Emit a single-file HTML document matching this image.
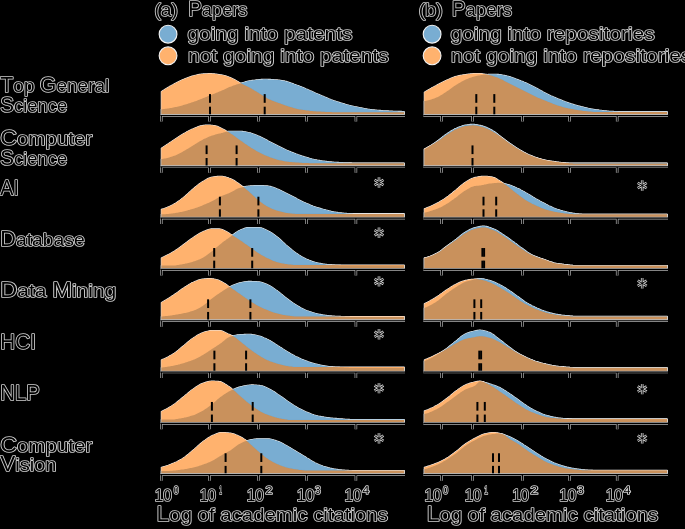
<!DOCTYPE html>
<html><head><meta charset="utf-8"><style>
html,body{margin:0;padding:0;background:#000;width:685px;height:529px;overflow:hidden}
svg{display:block}
</style></head><body>
<svg width="685" height="529" viewBox="0 0 685 529">
<rect width="685" height="529" fill="#000"/>
<path d="M161.3,114.3 L161.3,109.3 L162.3,109.2 L163.3,109.1 L164.3,109.0 L165.3,108.8 L166.3,108.7 L167.3,108.6 L168.3,108.4 L169.3,108.2 L170.3,108.1 L171.3,107.9 L172.3,107.7 L173.3,107.5 L174.3,107.3 L175.3,107.1 L176.3,106.9 L177.3,106.7 L178.3,106.4 L179.3,106.2 L180.3,105.9 L181.3,105.7 L182.3,105.4 L183.3,105.1 L184.3,104.8 L185.3,104.5 L186.3,104.2 L187.3,103.9 L188.3,103.5 L189.3,103.2 L190.3,102.9 L191.3,102.6 L192.3,102.2 L193.3,101.9 L194.3,101.6 L195.3,101.2 L196.3,100.9 L197.3,100.5 L198.3,100.1 L199.3,99.7 L200.3,99.3 L201.3,98.9 L202.3,98.5 L203.3,98.1 L204.3,97.7 L205.3,97.3 L206.3,96.9 L207.3,96.5 L208.3,96.1 L209.3,95.7 L210.3,95.3 L211.3,94.9 L212.3,94.5 L213.3,94.1 L214.3,93.7 L215.3,93.3 L216.3,92.8 L217.3,92.4 L218.3,92.0 L219.3,91.6 L220.3,91.2 L221.3,90.7 L222.3,90.3 L223.3,89.9 L224.3,89.4 L225.3,88.9 L226.3,88.5 L227.3,88.0 L228.3,87.6 L229.3,87.1 L230.3,86.7 L231.3,86.4 L232.3,86.0 L233.3,85.6 L234.3,85.3 L235.3,85.0 L236.3,84.6 L237.3,84.3 L238.3,84.0 L239.3,83.7 L240.3,83.4 L241.3,83.1 L242.3,82.8 L243.3,82.5 L244.3,82.2 L245.3,81.9 L246.3,81.6 L247.3,81.3 L248.3,81.1 L249.3,80.9 L250.3,80.7 L251.3,80.6 L252.3,80.4 L253.3,80.3 L254.3,80.2 L255.3,80.0 L256.3,79.9 L257.3,79.8 L258.3,79.7 L259.3,79.6 L260.3,79.5 L261.3,79.4 L262.3,79.4 L263.3,79.3 L264.3,79.3 L265.3,79.3 L266.3,79.3 L267.3,79.3 L268.3,79.4 L269.3,79.4 L270.3,79.4 L271.3,79.5 L272.3,79.6 L273.3,79.6 L274.3,79.7 L275.3,79.8 L276.3,79.9 L277.3,79.9 L278.3,80.0 L279.3,80.1 L280.3,80.2 L281.3,80.4 L282.3,80.5 L283.3,80.7 L284.3,80.9 L285.3,81.2 L286.3,81.4 L287.3,81.7 L288.3,82.0 L289.3,82.4 L290.3,82.7 L291.3,83.1 L292.3,83.4 L293.3,83.8 L294.3,84.2 L295.3,84.5 L296.3,84.9 L297.3,85.3 L298.3,85.6 L299.3,86.0 L300.3,86.4 L301.3,86.8 L302.3,87.2 L303.3,87.6 L304.3,88.0 L305.3,88.4 L306.3,88.9 L307.3,89.3 L308.3,89.8 L309.3,90.2 L310.3,90.7 L311.3,91.1 L312.3,91.6 L313.3,92.0 L314.3,92.5 L315.3,92.9 L316.3,93.4 L317.3,93.8 L318.3,94.2 L319.3,94.6 L320.3,95.1 L321.3,95.5 L322.3,95.9 L323.3,96.3 L324.3,96.8 L325.3,97.2 L326.3,97.6 L327.3,98.0 L328.3,98.5 L329.3,98.9 L330.3,99.3 L331.3,99.7 L332.3,100.0 L333.3,100.4 L334.3,100.8 L335.3,101.1 L336.3,101.5 L337.3,101.8 L338.3,102.1 L339.3,102.4 L340.3,102.7 L341.3,103.0 L342.3,103.3 L343.3,103.6 L344.3,103.9 L345.3,104.2 L346.3,104.5 L347.3,104.8 L348.3,105.0 L349.3,105.3 L350.3,105.5 L351.3,105.8 L352.3,106.0 L353.3,106.2 L354.3,106.5 L355.3,106.7 L356.3,106.9 L357.3,107.1 L358.3,107.3 L359.3,107.5 L360.3,107.7 L361.3,107.9 L362.3,108.1 L363.3,108.3 L364.3,108.5 L365.3,108.7 L366.3,108.8 L367.3,109.0 L368.3,109.2 L369.3,109.3 L370.3,109.5 L371.3,109.6 L372.3,109.7 L373.3,109.8 L374.3,109.9 L375.3,110.0 L376.3,110.1 L377.3,110.2 L378.3,110.3 L379.3,110.4 L380.3,110.4 L381.3,110.5 L382.3,110.6 L383.3,110.7 L384.3,110.7 L385.3,110.8 L386.3,110.8 L387.3,110.9 L388.3,110.9 L389.3,111.0 L390.3,111.0 L391.3,111.1 L392.3,111.1 L393.3,111.2 L394.3,111.2 L395.3,111.3 L396.3,111.3 L397.3,111.3 L398.3,111.4 L399.3,111.4 L400.3,111.4 L401.3,111.4 L402.3,111.5 L403.3,111.5 L404.2,111.5 L404.2,114.3 Z" fill="#fff" stroke="#f4f4f4" stroke-width="1.1" stroke-linejoin="round"/>
<path d="M161.3,114.3 L161.3,91.6 L162.3,90.9 L163.3,90.3 L164.3,89.7 L165.3,89.0 L166.3,88.4 L167.3,87.8 L168.3,87.2 L169.3,86.6 L170.3,86.1 L171.3,85.5 L172.3,84.9 L173.3,84.4 L174.3,83.8 L175.3,83.3 L176.3,82.8 L177.3,82.2 L178.3,81.7 L179.3,81.2 L180.3,80.7 L181.3,80.3 L182.3,79.8 L183.3,79.4 L184.3,79.0 L185.3,78.6 L186.3,78.2 L187.3,77.8 L188.3,77.4 L189.3,77.0 L190.3,76.7 L191.3,76.4 L192.3,76.1 L193.3,75.8 L194.3,75.6 L195.3,75.3 L196.3,75.1 L197.3,74.8 L198.3,74.6 L199.3,74.4 L200.3,74.3 L201.3,74.1 L202.3,74.0 L203.3,73.9 L204.3,73.9 L205.3,73.8 L206.3,73.7 L207.3,73.7 L208.3,73.6 L209.3,73.6 L210.3,73.6 L211.3,73.6 L212.3,73.7 L213.3,73.7 L214.3,73.8 L215.3,74.0 L216.3,74.1 L217.3,74.2 L218.3,74.4 L219.3,74.5 L220.3,74.7 L221.3,74.9 L222.3,75.1 L223.3,75.3 L224.3,75.5 L225.3,75.8 L226.3,76.1 L227.3,76.5 L228.3,76.8 L229.3,77.2 L230.3,77.6 L231.3,78.0 L232.3,78.4 L233.3,78.9 L234.3,79.4 L235.3,80.0 L236.3,80.6 L237.3,81.2 L238.3,81.8 L239.3,82.4 L240.3,83.0 L241.3,83.5 L242.3,84.0 L243.3,84.5 L244.3,85.0 L245.3,85.5 L246.3,86.0 L247.3,86.5 L248.3,87.0 L249.3,87.5 L250.3,88.0 L251.3,88.6 L252.3,89.2 L253.3,89.8 L254.3,90.4 L255.3,91.0 L256.3,91.6 L257.3,92.2 L258.3,92.8 L259.3,93.4 L260.3,94.0 L261.3,94.7 L262.3,95.3 L263.3,96.0 L264.3,96.6 L265.3,97.2 L266.3,97.8 L267.3,98.4 L268.3,98.9 L269.3,99.4 L270.3,99.8 L271.3,100.3 L272.3,100.7 L273.3,101.1 L274.3,101.4 L275.3,101.8 L276.3,102.2 L277.3,102.5 L278.3,102.9 L279.3,103.2 L280.3,103.6 L281.3,104.0 L282.3,104.3 L283.3,104.7 L284.3,105.1 L285.3,105.4 L286.3,105.8 L287.3,106.1 L288.3,106.4 L289.3,106.7 L290.3,107.0 L291.3,107.3 L292.3,107.6 L293.3,107.9 L294.3,108.2 L295.3,108.5 L296.3,108.7 L297.3,109.0 L298.3,109.2 L299.3,109.4 L300.3,109.5 L301.3,109.7 L302.3,109.8 L303.3,110.0 L304.3,110.1 L305.3,110.3 L306.3,110.4 L307.3,110.5 L308.3,110.6 L309.3,110.8 L310.3,110.9 L311.3,111.0 L312.3,111.1 L313.3,111.2 L314.3,111.2 L315.3,111.3 L316.3,111.4 L317.3,111.5 L318.3,111.5 L319.3,111.6 L320.3,111.6 L321.3,111.7 L322.3,111.7 L323.3,111.8 L324.3,111.8 L325.3,111.9 L326.3,111.9 L327.3,112.0 L328.3,112.0 L329.3,112.1 L330.3,112.1 L331.3,112.1 L332.3,112.2 L333.3,112.2 L334.3,112.2 L335.3,112.3 L336.3,112.3 L337.3,112.3 L338.3,112.3 L339.3,112.3 L340.3,112.3 L341.3,112.3 L342.3,112.3 L343.3,112.3 L344.3,112.3 L345.3,112.3 L346.3,112.3 L347.3,112.3 L348.3,112.3 L349.3,112.3 L350.3,112.3 L351.3,112.3 L352.3,112.3 L353.3,112.3 L354.3,112.3 L355.3,112.3 L356.3,112.3 L357.3,112.3 L358.3,112.3 L359.3,112.3 L360.3,112.3 L361.3,112.3 L362.3,112.3 L363.3,112.3 L364.3,112.3 L365.3,112.3 L366.3,112.3 L367.3,112.3 L368.3,112.3 L369.3,112.3 L370.3,112.3 L371.3,112.3 L372.3,112.3 L373.3,112.3 L374.3,112.3 L375.3,112.3 L376.3,112.3 L377.3,112.3 L378.3,112.3 L379.3,112.3 L380.3,112.3 L381.3,112.3 L382.3,112.3 L383.3,112.3 L384.3,112.3 L385.3,112.3 L386.3,112.3 L387.3,112.3 L388.3,112.3 L389.3,112.3 L390.3,112.3 L391.3,112.3 L392.3,112.3 L393.3,112.3 L394.3,112.3 L395.3,112.3 L396.3,112.3 L397.3,112.3 L398.3,112.3 L399.3,112.3 L400.3,112.3 L401.3,112.3 L402.3,112.3 L403.3,112.3 L404.2,112.3 L404.2,114.3 Z" fill="#fff" stroke="#f4f4f4" stroke-width="1.1" stroke-linejoin="round"/>
<path d="M161.3,114.3 L161.3,109.3 L162.3,109.2 L163.3,109.1 L164.3,109.0 L165.3,108.8 L166.3,108.7 L167.3,108.6 L168.3,108.4 L169.3,108.2 L170.3,108.1 L171.3,107.9 L172.3,107.7 L173.3,107.5 L174.3,107.3 L175.3,107.1 L176.3,106.9 L177.3,106.7 L178.3,106.4 L179.3,106.2 L180.3,105.9 L181.3,105.7 L182.3,105.4 L183.3,105.1 L184.3,104.8 L185.3,104.5 L186.3,104.2 L187.3,103.9 L188.3,103.5 L189.3,103.2 L190.3,102.9 L191.3,102.6 L192.3,102.2 L193.3,101.9 L194.3,101.6 L195.3,101.2 L196.3,100.9 L197.3,100.5 L198.3,100.1 L199.3,99.7 L200.3,99.3 L201.3,98.9 L202.3,98.5 L203.3,98.1 L204.3,97.7 L205.3,97.3 L206.3,96.9 L207.3,96.5 L208.3,96.1 L209.3,95.7 L210.3,95.3 L211.3,94.9 L212.3,94.5 L213.3,94.1 L214.3,93.7 L215.3,93.3 L216.3,92.8 L217.3,92.4 L218.3,92.0 L219.3,91.6 L220.3,91.2 L221.3,90.7 L222.3,90.3 L223.3,89.9 L224.3,89.4 L225.3,88.9 L226.3,88.5 L227.3,88.0 L228.3,87.6 L229.3,87.1 L230.3,86.7 L231.3,86.4 L232.3,86.0 L233.3,85.6 L234.3,85.3 L235.3,85.0 L236.3,84.6 L237.3,84.3 L238.3,84.0 L239.3,83.7 L240.3,83.4 L241.3,83.1 L242.3,82.8 L243.3,82.5 L244.3,82.2 L245.3,81.9 L246.3,81.6 L247.3,81.3 L248.3,81.1 L249.3,80.9 L250.3,80.7 L251.3,80.6 L252.3,80.4 L253.3,80.3 L254.3,80.2 L255.3,80.0 L256.3,79.9 L257.3,79.8 L258.3,79.7 L259.3,79.6 L260.3,79.5 L261.3,79.4 L262.3,79.4 L263.3,79.3 L264.3,79.3 L265.3,79.3 L266.3,79.3 L267.3,79.3 L268.3,79.4 L269.3,79.4 L270.3,79.4 L271.3,79.5 L272.3,79.6 L273.3,79.6 L274.3,79.7 L275.3,79.8 L276.3,79.9 L277.3,79.9 L278.3,80.0 L279.3,80.1 L280.3,80.2 L281.3,80.4 L282.3,80.5 L283.3,80.7 L284.3,80.9 L285.3,81.2 L286.3,81.4 L287.3,81.7 L288.3,82.0 L289.3,82.4 L290.3,82.7 L291.3,83.1 L292.3,83.4 L293.3,83.8 L294.3,84.2 L295.3,84.5 L296.3,84.9 L297.3,85.3 L298.3,85.6 L299.3,86.0 L300.3,86.4 L301.3,86.8 L302.3,87.2 L303.3,87.6 L304.3,88.0 L305.3,88.4 L306.3,88.9 L307.3,89.3 L308.3,89.8 L309.3,90.2 L310.3,90.7 L311.3,91.1 L312.3,91.6 L313.3,92.0 L314.3,92.5 L315.3,92.9 L316.3,93.4 L317.3,93.8 L318.3,94.2 L319.3,94.6 L320.3,95.1 L321.3,95.5 L322.3,95.9 L323.3,96.3 L324.3,96.8 L325.3,97.2 L326.3,97.6 L327.3,98.0 L328.3,98.5 L329.3,98.9 L330.3,99.3 L331.3,99.7 L332.3,100.0 L333.3,100.4 L334.3,100.8 L335.3,101.1 L336.3,101.5 L337.3,101.8 L338.3,102.1 L339.3,102.4 L340.3,102.7 L341.3,103.0 L342.3,103.3 L343.3,103.6 L344.3,103.9 L345.3,104.2 L346.3,104.5 L347.3,104.8 L348.3,105.0 L349.3,105.3 L350.3,105.5 L351.3,105.8 L352.3,106.0 L353.3,106.2 L354.3,106.5 L355.3,106.7 L356.3,106.9 L357.3,107.1 L358.3,107.3 L359.3,107.5 L360.3,107.7 L361.3,107.9 L362.3,108.1 L363.3,108.3 L364.3,108.5 L365.3,108.7 L366.3,108.8 L367.3,109.0 L368.3,109.2 L369.3,109.3 L370.3,109.5 L371.3,109.6 L372.3,109.7 L373.3,109.8 L374.3,109.9 L375.3,110.0 L376.3,110.1 L377.3,110.2 L378.3,110.3 L379.3,110.4 L380.3,110.4 L381.3,110.5 L382.3,110.6 L383.3,110.7 L384.3,110.7 L385.3,110.8 L386.3,110.8 L387.3,110.9 L388.3,110.9 L389.3,111.0 L390.3,111.0 L391.3,111.1 L392.3,111.1 L393.3,111.2 L394.3,111.2 L395.3,111.3 L396.3,111.3 L397.3,111.3 L398.3,111.4 L399.3,111.4 L400.3,111.4 L401.3,111.4 L402.3,111.5 L403.3,111.5 L404.2,111.5 L404.2,114.3 Z" fill="#1f77b4" fill-opacity="0.6"/>
<path d="M161.3,114.3 L161.3,91.6 L162.3,90.9 L163.3,90.3 L164.3,89.7 L165.3,89.0 L166.3,88.4 L167.3,87.8 L168.3,87.2 L169.3,86.6 L170.3,86.1 L171.3,85.5 L172.3,84.9 L173.3,84.4 L174.3,83.8 L175.3,83.3 L176.3,82.8 L177.3,82.2 L178.3,81.7 L179.3,81.2 L180.3,80.7 L181.3,80.3 L182.3,79.8 L183.3,79.4 L184.3,79.0 L185.3,78.6 L186.3,78.2 L187.3,77.8 L188.3,77.4 L189.3,77.0 L190.3,76.7 L191.3,76.4 L192.3,76.1 L193.3,75.8 L194.3,75.6 L195.3,75.3 L196.3,75.1 L197.3,74.8 L198.3,74.6 L199.3,74.4 L200.3,74.3 L201.3,74.1 L202.3,74.0 L203.3,73.9 L204.3,73.9 L205.3,73.8 L206.3,73.7 L207.3,73.7 L208.3,73.6 L209.3,73.6 L210.3,73.6 L211.3,73.6 L212.3,73.7 L213.3,73.7 L214.3,73.8 L215.3,74.0 L216.3,74.1 L217.3,74.2 L218.3,74.4 L219.3,74.5 L220.3,74.7 L221.3,74.9 L222.3,75.1 L223.3,75.3 L224.3,75.5 L225.3,75.8 L226.3,76.1 L227.3,76.5 L228.3,76.8 L229.3,77.2 L230.3,77.6 L231.3,78.0 L232.3,78.4 L233.3,78.9 L234.3,79.4 L235.3,80.0 L236.3,80.6 L237.3,81.2 L238.3,81.8 L239.3,82.4 L240.3,83.0 L241.3,83.5 L242.3,84.0 L243.3,84.5 L244.3,85.0 L245.3,85.5 L246.3,86.0 L247.3,86.5 L248.3,87.0 L249.3,87.5 L250.3,88.0 L251.3,88.6 L252.3,89.2 L253.3,89.8 L254.3,90.4 L255.3,91.0 L256.3,91.6 L257.3,92.2 L258.3,92.8 L259.3,93.4 L260.3,94.0 L261.3,94.7 L262.3,95.3 L263.3,96.0 L264.3,96.6 L265.3,97.2 L266.3,97.8 L267.3,98.4 L268.3,98.9 L269.3,99.4 L270.3,99.8 L271.3,100.3 L272.3,100.7 L273.3,101.1 L274.3,101.4 L275.3,101.8 L276.3,102.2 L277.3,102.5 L278.3,102.9 L279.3,103.2 L280.3,103.6 L281.3,104.0 L282.3,104.3 L283.3,104.7 L284.3,105.1 L285.3,105.4 L286.3,105.8 L287.3,106.1 L288.3,106.4 L289.3,106.7 L290.3,107.0 L291.3,107.3 L292.3,107.6 L293.3,107.9 L294.3,108.2 L295.3,108.5 L296.3,108.7 L297.3,109.0 L298.3,109.2 L299.3,109.4 L300.3,109.5 L301.3,109.7 L302.3,109.8 L303.3,110.0 L304.3,110.1 L305.3,110.3 L306.3,110.4 L307.3,110.5 L308.3,110.6 L309.3,110.8 L310.3,110.9 L311.3,111.0 L312.3,111.1 L313.3,111.2 L314.3,111.2 L315.3,111.3 L316.3,111.4 L317.3,111.5 L318.3,111.5 L319.3,111.6 L320.3,111.6 L321.3,111.7 L322.3,111.7 L323.3,111.8 L324.3,111.8 L325.3,111.9 L326.3,111.9 L327.3,112.0 L328.3,112.0 L329.3,112.1 L330.3,112.1 L331.3,112.1 L332.3,112.2 L333.3,112.2 L334.3,112.2 L335.3,112.3 L336.3,112.3 L337.3,112.3 L338.3,112.3 L339.3,112.3 L340.3,112.3 L341.3,112.3 L342.3,112.3 L343.3,112.3 L344.3,112.3 L345.3,112.3 L346.3,112.3 L347.3,112.3 L348.3,112.3 L349.3,112.3 L350.3,112.3 L351.3,112.3 L352.3,112.3 L353.3,112.3 L354.3,112.3 L355.3,112.3 L356.3,112.3 L357.3,112.3 L358.3,112.3 L359.3,112.3 L360.3,112.3 L361.3,112.3 L362.3,112.3 L363.3,112.3 L364.3,112.3 L365.3,112.3 L366.3,112.3 L367.3,112.3 L368.3,112.3 L369.3,112.3 L370.3,112.3 L371.3,112.3 L372.3,112.3 L373.3,112.3 L374.3,112.3 L375.3,112.3 L376.3,112.3 L377.3,112.3 L378.3,112.3 L379.3,112.3 L380.3,112.3 L381.3,112.3 L382.3,112.3 L383.3,112.3 L384.3,112.3 L385.3,112.3 L386.3,112.3 L387.3,112.3 L388.3,112.3 L389.3,112.3 L390.3,112.3 L391.3,112.3 L392.3,112.3 L393.3,112.3 L394.3,112.3 L395.3,112.3 L396.3,112.3 L397.3,112.3 L398.3,112.3 L399.3,112.3 L400.3,112.3 L401.3,112.3 L402.3,112.3 L403.3,112.3 L404.2,112.3 L404.2,114.3 Z" fill="#ff7f0e" fill-opacity="0.6"/>
<rect x="209.00" y="94.10" width="2" height="8.7" fill="#000"/>
<rect x="209.00" y="106.70" width="2" height="8.50" fill="#000"/>
<rect x="263.70" y="94.10" width="2" height="8.7" fill="#000"/>
<rect x="263.70" y="106.70" width="2" height="8.50" fill="#000"/>
<path d="M160.30,115.50 H405.00 M161.30,115.50 V121.50 M209.40,115.50 V121.50 M258.40,115.50 V121.50 M306.60,115.50 V121.50 M355.90,115.50 V121.50" stroke="#b0b0b0" stroke-width="2.6" fill="none"/>
<path d="M160.30,115.50 H405.00 M161.30,115.50 V121.50 M209.40,115.50 V121.50 M258.40,115.50 V121.50 M306.60,115.50 V121.50 M355.90,115.50 V121.50" stroke="#000" stroke-width="1.2" fill="none"/>
<path d="M424.3,114.3 L424.3,101.1 L425.3,101.0 L426.3,100.8 L427.3,100.6 L428.3,100.3 L429.3,100.0 L430.3,99.8 L431.3,99.4 L432.3,99.1 L433.3,98.7 L434.3,98.4 L435.3,98.0 L436.3,97.6 L437.3,97.2 L438.3,96.7 L439.3,96.2 L440.3,95.6 L441.3,95.0 L442.3,94.4 L443.3,93.7 L444.3,93.1 L445.3,92.4 L446.3,91.7 L447.3,91.1 L448.3,90.4 L449.3,89.7 L450.3,89.0 L451.3,88.2 L452.3,87.5 L453.3,86.8 L454.3,86.1 L455.3,85.4 L456.3,84.8 L457.3,84.2 L458.3,83.6 L459.3,83.0 L460.3,82.4 L461.3,81.8 L462.3,81.2 L463.3,80.7 L464.3,80.2 L465.3,79.7 L466.3,79.3 L467.3,78.9 L468.3,78.5 L469.3,78.1 L470.3,77.8 L471.3,77.4 L472.3,77.1 L473.3,76.8 L474.3,76.5 L475.3,76.3 L476.3,76.1 L477.3,75.8 L478.3,75.6 L479.3,75.4 L480.3,75.2 L481.3,75.1 L482.3,74.9 L483.3,74.8 L484.3,74.7 L485.3,74.6 L486.3,74.5 L487.3,74.5 L488.3,74.4 L489.3,74.3 L490.3,74.3 L491.3,74.2 L492.3,74.2 L493.3,74.2 L494.3,74.2 L495.3,74.2 L496.3,74.3 L497.3,74.4 L498.3,74.4 L499.3,74.5 L500.3,74.6 L501.3,74.8 L502.3,75.0 L503.3,75.2 L504.3,75.4 L505.3,75.6 L506.3,75.8 L507.3,76.1 L508.3,76.3 L509.3,76.6 L510.3,76.9 L511.3,77.2 L512.3,77.6 L513.3,77.9 L514.3,78.3 L515.3,78.7 L516.3,79.1 L517.3,79.4 L518.3,79.8 L519.3,80.2 L520.3,80.6 L521.3,81.0 L522.3,81.3 L523.3,81.7 L524.3,82.2 L525.3,82.6 L526.3,83.0 L527.3,83.5 L528.3,83.9 L529.3,84.4 L530.3,84.9 L531.3,85.4 L532.3,85.9 L533.3,86.5 L534.3,87.0 L535.3,87.5 L536.3,88.1 L537.3,88.6 L538.3,89.1 L539.3,89.7 L540.3,90.2 L541.3,90.8 L542.3,91.3 L543.3,91.9 L544.3,92.4 L545.3,92.9 L546.3,93.5 L547.3,93.9 L548.3,94.4 L549.3,94.9 L550.3,95.4 L551.3,95.9 L552.3,96.3 L553.3,96.8 L554.3,97.2 L555.3,97.6 L556.3,98.1 L557.3,98.5 L558.3,98.9 L559.3,99.3 L560.3,99.7 L561.3,100.1 L562.3,100.5 L563.3,100.9 L564.3,101.3 L565.3,101.7 L566.3,102.0 L567.3,102.4 L568.3,102.7 L569.3,103.1 L570.3,103.4 L571.3,103.8 L572.3,104.1 L573.3,104.4 L574.3,104.7 L575.3,105.0 L576.3,105.3 L577.3,105.6 L578.3,105.9 L579.3,106.1 L580.3,106.4 L581.3,106.7 L582.3,106.9 L583.3,107.1 L584.3,107.4 L585.3,107.6 L586.3,107.8 L587.3,108.0 L588.3,108.3 L589.3,108.5 L590.3,108.7 L591.3,108.9 L592.3,109.0 L593.3,109.2 L594.3,109.4 L595.3,109.5 L596.3,109.7 L597.3,109.8 L598.3,109.9 L599.3,110.1 L600.3,110.2 L601.3,110.3 L602.3,110.5 L603.3,110.6 L604.3,110.7 L605.3,110.8 L606.3,110.9 L607.3,111.0 L608.3,111.1 L609.3,111.2 L610.3,111.2 L611.3,111.3 L612.3,111.3 L613.3,111.4 L614.3,111.5 L615.3,111.5 L616.3,111.6 L617.3,111.6 L618.3,111.7 L619.3,111.7 L620.3,111.7 L621.3,111.7 L622.3,111.7 L623.3,111.7 L624.3,111.7 L625.3,111.7 L626.3,111.7 L627.3,111.7 L628.3,111.7 L629.3,111.7 L630.3,111.7 L631.3,111.7 L632.3,111.7 L633.3,111.7 L634.3,111.7 L635.3,111.7 L636.3,111.7 L637.3,111.7 L638.3,111.7 L639.3,111.7 L640.3,111.7 L641.3,111.7 L642.3,111.7 L643.3,111.7 L644.3,111.7 L645.3,111.7 L646.3,111.7 L647.3,111.7 L648.3,111.7 L649.3,111.7 L650.3,111.7 L651.3,111.7 L652.3,111.7 L653.3,111.7 L654.3,111.7 L655.3,111.7 L656.3,111.7 L657.3,111.7 L658.3,111.7 L659.3,111.7 L660.3,111.7 L661.3,111.7 L662.3,111.7 L663.3,111.7 L664.3,111.7 L665.3,111.7 L666.3,111.7 L667.2,111.7 L667.2,114.3 Z" fill="#fff" stroke="#f4f4f4" stroke-width="1.1" stroke-linejoin="round"/>
<path d="M424.3,114.3 L424.3,92.2 L425.3,91.6 L426.3,91.0 L427.3,90.4 L428.3,89.8 L429.3,89.3 L430.3,88.7 L431.3,88.1 L432.3,87.6 L433.3,87.0 L434.3,86.5 L435.3,85.9 L436.3,85.4 L437.3,84.8 L438.3,84.3 L439.3,83.8 L440.3,83.2 L441.3,82.7 L442.3,82.2 L443.3,81.7 L444.3,81.2 L445.3,80.7 L446.3,80.3 L447.3,79.8 L448.3,79.4 L449.3,78.9 L450.3,78.5 L451.3,78.1 L452.3,77.7 L453.3,77.3 L454.3,76.9 L455.3,76.6 L456.3,76.3 L457.3,76.1 L458.3,75.8 L459.3,75.6 L460.3,75.4 L461.3,75.2 L462.3,75.0 L463.3,74.8 L464.3,74.7 L465.3,74.5 L466.3,74.4 L467.3,74.2 L468.3,74.1 L469.3,74.0 L470.3,73.9 L471.3,73.8 L472.3,73.7 L473.3,73.6 L474.3,73.6 L475.3,73.6 L476.3,73.6 L477.3,73.6 L478.3,73.6 L479.3,73.6 L480.3,73.6 L481.3,73.6 L482.3,73.7 L483.3,73.9 L484.3,74.0 L485.3,74.2 L486.3,74.4 L487.3,74.6 L488.3,74.8 L489.3,75.1 L490.3,75.3 L491.3,75.5 L492.3,75.8 L493.3,76.2 L494.3,76.5 L495.3,76.9 L496.3,77.2 L497.3,77.6 L498.3,78.0 L499.3,78.4 L500.3,78.9 L501.3,79.3 L502.3,79.8 L503.3,80.3 L504.3,80.9 L505.3,81.4 L506.3,82.0 L507.3,82.5 L508.3,83.0 L509.3,83.5 L510.3,84.0 L511.3,84.5 L512.3,85.0 L513.3,85.5 L514.3,86.0 L515.3,86.5 L516.3,87.0 L517.3,87.4 L518.3,88.0 L519.3,88.5 L520.3,89.0 L521.3,89.5 L522.3,90.0 L523.3,90.5 L524.3,91.0 L525.3,91.5 L526.3,92.0 L527.3,92.5 L528.3,93.1 L529.3,93.6 L530.3,94.1 L531.3,94.6 L532.3,95.1 L533.3,95.6 L534.3,96.1 L535.3,96.6 L536.3,97.0 L537.3,97.5 L538.3,97.9 L539.3,98.3 L540.3,98.7 L541.3,99.1 L542.3,99.5 L543.3,99.9 L544.3,100.3 L545.3,100.7 L546.3,101.1 L547.3,101.5 L548.3,101.9 L549.3,102.3 L550.3,102.7 L551.3,103.1 L552.3,103.5 L553.3,103.9 L554.3,104.3 L555.3,104.7 L556.3,105.0 L557.3,105.4 L558.3,105.7 L559.3,106.0 L560.3,106.3 L561.3,106.6 L562.3,106.9 L563.3,107.2 L564.3,107.4 L565.3,107.7 L566.3,107.9 L567.3,108.1 L568.3,108.4 L569.3,108.6 L570.3,108.8 L571.3,109.0 L572.3,109.1 L573.3,109.3 L574.3,109.5 L575.3,109.7 L576.3,109.8 L577.3,110.0 L578.3,110.2 L579.3,110.3 L580.3,110.5 L581.3,110.6 L582.3,110.7 L583.3,110.9 L584.3,111.0 L585.3,111.1 L586.3,111.2 L587.3,111.3 L588.3,111.4 L589.3,111.5 L590.3,111.6 L591.3,111.7 L592.3,111.8 L593.3,111.9 L594.3,111.9 L595.3,111.9 L596.3,111.9 L597.3,111.9 L598.3,111.9 L599.3,111.9 L600.3,111.9 L601.3,111.9 L602.3,111.9 L603.3,111.9 L604.3,111.9 L605.3,111.9 L606.3,111.9 L607.3,111.9 L608.3,111.9 L609.3,111.9 L610.3,111.9 L611.3,111.9 L612.3,111.9 L613.3,111.9 L614.3,111.9 L615.3,111.9 L616.3,111.9 L617.3,111.9 L618.3,111.9 L619.3,111.9 L620.3,111.9 L621.3,111.9 L622.3,111.9 L623.3,111.9 L624.3,111.9 L625.3,111.9 L626.3,111.9 L627.3,111.9 L628.3,111.9 L629.3,111.9 L630.3,111.9 L631.3,111.9 L632.3,111.9 L633.3,111.9 L634.3,111.9 L635.3,111.9 L636.3,111.9 L637.3,111.9 L638.3,111.9 L639.3,111.9 L640.3,111.9 L641.3,111.9 L642.3,111.9 L643.3,111.9 L644.3,111.9 L645.3,111.9 L646.3,111.9 L647.3,111.9 L648.3,111.9 L649.3,111.9 L650.3,111.9 L651.3,111.9 L652.3,111.9 L653.3,111.9 L654.3,111.9 L655.3,111.9 L656.3,111.9 L657.3,111.9 L658.3,111.9 L659.3,111.9 L660.3,111.9 L661.3,111.9 L662.3,111.9 L663.3,111.9 L664.3,111.9 L665.3,111.9 L666.3,111.9 L667.2,111.9 L667.2,114.3 Z" fill="#fff" stroke="#f4f4f4" stroke-width="1.1" stroke-linejoin="round"/>
<path d="M424.3,114.3 L424.3,101.1 L425.3,101.0 L426.3,100.8 L427.3,100.6 L428.3,100.3 L429.3,100.0 L430.3,99.8 L431.3,99.4 L432.3,99.1 L433.3,98.7 L434.3,98.4 L435.3,98.0 L436.3,97.6 L437.3,97.2 L438.3,96.7 L439.3,96.2 L440.3,95.6 L441.3,95.0 L442.3,94.4 L443.3,93.7 L444.3,93.1 L445.3,92.4 L446.3,91.7 L447.3,91.1 L448.3,90.4 L449.3,89.7 L450.3,89.0 L451.3,88.2 L452.3,87.5 L453.3,86.8 L454.3,86.1 L455.3,85.4 L456.3,84.8 L457.3,84.2 L458.3,83.6 L459.3,83.0 L460.3,82.4 L461.3,81.8 L462.3,81.2 L463.3,80.7 L464.3,80.2 L465.3,79.7 L466.3,79.3 L467.3,78.9 L468.3,78.5 L469.3,78.1 L470.3,77.8 L471.3,77.4 L472.3,77.1 L473.3,76.8 L474.3,76.5 L475.3,76.3 L476.3,76.1 L477.3,75.8 L478.3,75.6 L479.3,75.4 L480.3,75.2 L481.3,75.1 L482.3,74.9 L483.3,74.8 L484.3,74.7 L485.3,74.6 L486.3,74.5 L487.3,74.5 L488.3,74.4 L489.3,74.3 L490.3,74.3 L491.3,74.2 L492.3,74.2 L493.3,74.2 L494.3,74.2 L495.3,74.2 L496.3,74.3 L497.3,74.4 L498.3,74.4 L499.3,74.5 L500.3,74.6 L501.3,74.8 L502.3,75.0 L503.3,75.2 L504.3,75.4 L505.3,75.6 L506.3,75.8 L507.3,76.1 L508.3,76.3 L509.3,76.6 L510.3,76.9 L511.3,77.2 L512.3,77.6 L513.3,77.9 L514.3,78.3 L515.3,78.7 L516.3,79.1 L517.3,79.4 L518.3,79.8 L519.3,80.2 L520.3,80.6 L521.3,81.0 L522.3,81.3 L523.3,81.7 L524.3,82.2 L525.3,82.6 L526.3,83.0 L527.3,83.5 L528.3,83.9 L529.3,84.4 L530.3,84.9 L531.3,85.4 L532.3,85.9 L533.3,86.5 L534.3,87.0 L535.3,87.5 L536.3,88.1 L537.3,88.6 L538.3,89.1 L539.3,89.7 L540.3,90.2 L541.3,90.8 L542.3,91.3 L543.3,91.9 L544.3,92.4 L545.3,92.9 L546.3,93.5 L547.3,93.9 L548.3,94.4 L549.3,94.9 L550.3,95.4 L551.3,95.9 L552.3,96.3 L553.3,96.8 L554.3,97.2 L555.3,97.6 L556.3,98.1 L557.3,98.5 L558.3,98.9 L559.3,99.3 L560.3,99.7 L561.3,100.1 L562.3,100.5 L563.3,100.9 L564.3,101.3 L565.3,101.7 L566.3,102.0 L567.3,102.4 L568.3,102.7 L569.3,103.1 L570.3,103.4 L571.3,103.8 L572.3,104.1 L573.3,104.4 L574.3,104.7 L575.3,105.0 L576.3,105.3 L577.3,105.6 L578.3,105.9 L579.3,106.1 L580.3,106.4 L581.3,106.7 L582.3,106.9 L583.3,107.1 L584.3,107.4 L585.3,107.6 L586.3,107.8 L587.3,108.0 L588.3,108.3 L589.3,108.5 L590.3,108.7 L591.3,108.9 L592.3,109.0 L593.3,109.2 L594.3,109.4 L595.3,109.5 L596.3,109.7 L597.3,109.8 L598.3,109.9 L599.3,110.1 L600.3,110.2 L601.3,110.3 L602.3,110.5 L603.3,110.6 L604.3,110.7 L605.3,110.8 L606.3,110.9 L607.3,111.0 L608.3,111.1 L609.3,111.2 L610.3,111.2 L611.3,111.3 L612.3,111.3 L613.3,111.4 L614.3,111.5 L615.3,111.5 L616.3,111.6 L617.3,111.6 L618.3,111.7 L619.3,111.7 L620.3,111.7 L621.3,111.7 L622.3,111.7 L623.3,111.7 L624.3,111.7 L625.3,111.7 L626.3,111.7 L627.3,111.7 L628.3,111.7 L629.3,111.7 L630.3,111.7 L631.3,111.7 L632.3,111.7 L633.3,111.7 L634.3,111.7 L635.3,111.7 L636.3,111.7 L637.3,111.7 L638.3,111.7 L639.3,111.7 L640.3,111.7 L641.3,111.7 L642.3,111.7 L643.3,111.7 L644.3,111.7 L645.3,111.7 L646.3,111.7 L647.3,111.7 L648.3,111.7 L649.3,111.7 L650.3,111.7 L651.3,111.7 L652.3,111.7 L653.3,111.7 L654.3,111.7 L655.3,111.7 L656.3,111.7 L657.3,111.7 L658.3,111.7 L659.3,111.7 L660.3,111.7 L661.3,111.7 L662.3,111.7 L663.3,111.7 L664.3,111.7 L665.3,111.7 L666.3,111.7 L667.2,111.7 L667.2,114.3 Z" fill="#1f77b4" fill-opacity="0.6"/>
<path d="M424.3,114.3 L424.3,92.2 L425.3,91.6 L426.3,91.0 L427.3,90.4 L428.3,89.8 L429.3,89.3 L430.3,88.7 L431.3,88.1 L432.3,87.6 L433.3,87.0 L434.3,86.5 L435.3,85.9 L436.3,85.4 L437.3,84.8 L438.3,84.3 L439.3,83.8 L440.3,83.2 L441.3,82.7 L442.3,82.2 L443.3,81.7 L444.3,81.2 L445.3,80.7 L446.3,80.3 L447.3,79.8 L448.3,79.4 L449.3,78.9 L450.3,78.5 L451.3,78.1 L452.3,77.7 L453.3,77.3 L454.3,76.9 L455.3,76.6 L456.3,76.3 L457.3,76.1 L458.3,75.8 L459.3,75.6 L460.3,75.4 L461.3,75.2 L462.3,75.0 L463.3,74.8 L464.3,74.7 L465.3,74.5 L466.3,74.4 L467.3,74.2 L468.3,74.1 L469.3,74.0 L470.3,73.9 L471.3,73.8 L472.3,73.7 L473.3,73.6 L474.3,73.6 L475.3,73.6 L476.3,73.6 L477.3,73.6 L478.3,73.6 L479.3,73.6 L480.3,73.6 L481.3,73.6 L482.3,73.7 L483.3,73.9 L484.3,74.0 L485.3,74.2 L486.3,74.4 L487.3,74.6 L488.3,74.8 L489.3,75.1 L490.3,75.3 L491.3,75.5 L492.3,75.8 L493.3,76.2 L494.3,76.5 L495.3,76.9 L496.3,77.2 L497.3,77.6 L498.3,78.0 L499.3,78.4 L500.3,78.9 L501.3,79.3 L502.3,79.8 L503.3,80.3 L504.3,80.9 L505.3,81.4 L506.3,82.0 L507.3,82.5 L508.3,83.0 L509.3,83.5 L510.3,84.0 L511.3,84.5 L512.3,85.0 L513.3,85.5 L514.3,86.0 L515.3,86.5 L516.3,87.0 L517.3,87.4 L518.3,88.0 L519.3,88.5 L520.3,89.0 L521.3,89.5 L522.3,90.0 L523.3,90.5 L524.3,91.0 L525.3,91.5 L526.3,92.0 L527.3,92.5 L528.3,93.1 L529.3,93.6 L530.3,94.1 L531.3,94.6 L532.3,95.1 L533.3,95.6 L534.3,96.1 L535.3,96.6 L536.3,97.0 L537.3,97.5 L538.3,97.9 L539.3,98.3 L540.3,98.7 L541.3,99.1 L542.3,99.5 L543.3,99.9 L544.3,100.3 L545.3,100.7 L546.3,101.1 L547.3,101.5 L548.3,101.9 L549.3,102.3 L550.3,102.7 L551.3,103.1 L552.3,103.5 L553.3,103.9 L554.3,104.3 L555.3,104.7 L556.3,105.0 L557.3,105.4 L558.3,105.7 L559.3,106.0 L560.3,106.3 L561.3,106.6 L562.3,106.9 L563.3,107.2 L564.3,107.4 L565.3,107.7 L566.3,107.9 L567.3,108.1 L568.3,108.4 L569.3,108.6 L570.3,108.8 L571.3,109.0 L572.3,109.1 L573.3,109.3 L574.3,109.5 L575.3,109.7 L576.3,109.8 L577.3,110.0 L578.3,110.2 L579.3,110.3 L580.3,110.5 L581.3,110.6 L582.3,110.7 L583.3,110.9 L584.3,111.0 L585.3,111.1 L586.3,111.2 L587.3,111.3 L588.3,111.4 L589.3,111.5 L590.3,111.6 L591.3,111.7 L592.3,111.8 L593.3,111.9 L594.3,111.9 L595.3,111.9 L596.3,111.9 L597.3,111.9 L598.3,111.9 L599.3,111.9 L600.3,111.9 L601.3,111.9 L602.3,111.9 L603.3,111.9 L604.3,111.9 L605.3,111.9 L606.3,111.9 L607.3,111.9 L608.3,111.9 L609.3,111.9 L610.3,111.9 L611.3,111.9 L612.3,111.9 L613.3,111.9 L614.3,111.9 L615.3,111.9 L616.3,111.9 L617.3,111.9 L618.3,111.9 L619.3,111.9 L620.3,111.9 L621.3,111.9 L622.3,111.9 L623.3,111.9 L624.3,111.9 L625.3,111.9 L626.3,111.9 L627.3,111.9 L628.3,111.9 L629.3,111.9 L630.3,111.9 L631.3,111.9 L632.3,111.9 L633.3,111.9 L634.3,111.9 L635.3,111.9 L636.3,111.9 L637.3,111.9 L638.3,111.9 L639.3,111.9 L640.3,111.9 L641.3,111.9 L642.3,111.9 L643.3,111.9 L644.3,111.9 L645.3,111.9 L646.3,111.9 L647.3,111.9 L648.3,111.9 L649.3,111.9 L650.3,111.9 L651.3,111.9 L652.3,111.9 L653.3,111.9 L654.3,111.9 L655.3,111.9 L656.3,111.9 L657.3,111.9 L658.3,111.9 L659.3,111.9 L660.3,111.9 L661.3,111.9 L662.3,111.9 L663.3,111.9 L664.3,111.9 L665.3,111.9 L666.3,111.9 L667.2,111.9 L667.2,114.3 Z" fill="#ff7f0e" fill-opacity="0.6"/>
<rect x="475.30" y="94.10" width="2" height="8.7" fill="#000"/>
<rect x="475.30" y="106.70" width="2" height="8.50" fill="#000"/>
<rect x="493.30" y="94.10" width="2" height="8.7" fill="#000"/>
<rect x="493.30" y="106.70" width="2" height="8.50" fill="#000"/>
<path d="M423.30,115.50 H668.00 M441.50,115.50 V121.50 M472.60,115.50 V121.50 M522.40,115.50 V121.50 M569.60,115.50 V121.50 M617.20,115.50 V121.50" stroke="#b0b0b0" stroke-width="2.6" fill="none"/>
<path d="M423.30,115.50 H668.00 M441.50,115.50 V121.50 M472.60,115.50 V121.50 M522.40,115.50 V121.50 M569.60,115.50 V121.50 M617.20,115.50 V121.50" stroke="#000" stroke-width="1.2" fill="none"/>
<path d="M161.3,165.6 L161.3,159.1 L162.3,159.0 L163.3,158.8 L164.3,158.6 L165.3,158.4 L166.3,158.2 L167.3,158.0 L168.3,157.7 L169.3,157.4 L170.3,157.1 L171.3,156.8 L172.3,156.5 L173.3,156.1 L174.3,155.8 L175.3,155.4 L176.3,155.0 L177.3,154.5 L178.3,154.0 L179.3,153.5 L180.3,153.0 L181.3,152.4 L182.3,151.9 L183.3,151.3 L184.3,150.8 L185.3,150.2 L186.3,149.6 L187.3,149.0 L188.3,148.4 L189.3,147.8 L190.3,147.2 L191.3,146.5 L192.3,145.9 L193.3,145.3 L194.3,144.7 L195.3,144.1 L196.3,143.4 L197.3,142.8 L198.3,142.2 L199.3,141.5 L200.3,141.0 L201.3,140.4 L202.3,139.9 L203.3,139.3 L204.3,138.8 L205.3,138.4 L206.3,137.9 L207.3,137.4 L208.3,137.0 L209.3,136.6 L210.3,136.2 L211.3,135.8 L212.3,135.5 L213.3,135.2 L214.3,134.9 L215.3,134.6 L216.3,134.3 L217.3,134.1 L218.3,133.8 L219.3,133.6 L220.3,133.4 L221.3,133.1 L222.3,132.9 L223.3,132.6 L224.3,132.3 L225.3,132.0 L226.3,131.7 L227.3,131.5 L228.3,131.3 L229.3,131.2 L230.3,131.2 L231.3,131.2 L232.3,131.2 L233.3,131.2 L234.3,131.2 L235.3,131.2 L236.3,131.2 L237.3,131.2 L238.3,131.2 L239.3,131.2 L240.3,131.2 L241.3,131.3 L242.3,131.4 L243.3,131.5 L244.3,131.7 L245.3,131.8 L246.3,132.0 L247.3,132.2 L248.3,132.5 L249.3,132.7 L250.3,132.9 L251.3,133.2 L252.3,133.5 L253.3,133.9 L254.3,134.3 L255.3,134.7 L256.3,135.1 L257.3,135.5 L258.3,135.9 L259.3,136.3 L260.3,136.8 L261.3,137.3 L262.3,137.8 L263.3,138.3 L264.3,138.8 L265.3,139.3 L266.3,139.8 L267.3,140.3 L268.3,140.9 L269.3,141.4 L270.3,141.9 L271.3,142.4 L272.3,142.9 L273.3,143.4 L274.3,143.9 L275.3,144.4 L276.3,144.9 L277.3,145.4 L278.3,146.0 L279.3,146.5 L280.3,147.0 L281.3,147.5 L282.3,148.0 L283.3,148.5 L284.3,149.0 L285.3,149.5 L286.3,149.9 L287.3,150.4 L288.3,150.8 L289.3,151.2 L290.3,151.6 L291.3,152.1 L292.3,152.4 L293.3,152.8 L294.3,153.2 L295.3,153.6 L296.3,154.0 L297.3,154.3 L298.3,154.7 L299.3,155.0 L300.3,155.4 L301.3,155.7 L302.3,156.1 L303.3,156.4 L304.3,156.7 L305.3,157.0 L306.3,157.3 L307.3,157.6 L308.3,157.9 L309.3,158.2 L310.3,158.5 L311.3,158.7 L312.3,159.0 L313.3,159.2 L314.3,159.5 L315.3,159.7 L316.3,159.9 L317.3,160.1 L318.3,160.2 L319.3,160.4 L320.3,160.6 L321.3,160.7 L322.3,160.9 L323.3,161.0 L324.3,161.1 L325.3,161.3 L326.3,161.4 L327.3,161.5 L328.3,161.6 L329.3,161.7 L330.3,161.8 L331.3,161.9 L332.3,162.0 L333.3,162.1 L334.3,162.2 L335.3,162.3 L336.3,162.3 L337.3,162.4 L338.3,162.4 L339.3,162.5 L340.3,162.6 L341.3,162.6 L342.3,162.6 L343.3,162.7 L344.3,162.7 L345.3,162.7 L346.3,162.8 L347.3,162.8 L348.3,162.8 L349.3,162.9 L350.3,162.9 L351.3,162.9 L352.3,163.0 L353.3,163.0 L354.3,163.0 L355.3,163.0 L356.3,163.0 L357.3,163.0 L358.3,163.0 L359.3,163.0 L360.3,163.0 L361.3,163.0 L362.3,163.0 L363.3,163.0 L364.3,163.0 L365.3,163.0 L366.3,163.0 L367.3,163.0 L368.3,163.0 L369.3,163.0 L370.3,163.0 L371.3,163.0 L372.3,163.0 L373.3,163.0 L374.3,163.0 L375.3,163.0 L376.3,163.0 L377.3,163.0 L378.3,163.0 L379.3,163.0 L380.3,163.0 L381.3,163.0 L382.3,163.0 L383.3,163.0 L384.3,163.0 L385.3,163.0 L386.3,163.0 L387.3,163.0 L388.3,163.0 L389.3,163.0 L390.3,163.0 L391.3,163.0 L392.3,163.0 L393.3,163.0 L394.3,163.0 L395.3,163.0 L396.3,163.0 L397.3,163.0 L398.3,163.0 L399.3,163.0 L400.3,163.0 L401.3,163.0 L402.3,163.0 L403.3,163.0 L404.2,163.0 L404.2,165.6 Z" fill="#fff" stroke="#f4f4f4" stroke-width="1.1" stroke-linejoin="round"/>
<path d="M161.3,165.6 L161.3,148.3 L162.3,147.6 L163.3,146.9 L164.3,146.3 L165.3,145.6 L166.3,144.9 L167.3,144.2 L168.3,143.6 L169.3,142.9 L170.3,142.2 L171.3,141.6 L172.3,140.9 L173.3,140.3 L174.3,139.6 L175.3,138.9 L176.3,138.3 L177.3,137.6 L178.3,136.9 L179.3,136.3 L180.3,135.6 L181.3,135.0 L182.3,134.4 L183.3,133.8 L184.3,133.2 L185.3,132.7 L186.3,132.1 L187.3,131.6 L188.3,131.0 L189.3,130.5 L190.3,130.0 L191.3,129.6 L192.3,129.1 L193.3,128.7 L194.3,128.2 L195.3,127.8 L196.3,127.4 L197.3,127.0 L198.3,126.6 L199.3,126.2 L200.3,125.9 L201.3,125.7 L202.3,125.5 L203.3,125.4 L204.3,125.3 L205.3,125.1 L206.3,125.1 L207.3,125.0 L208.3,125.0 L209.3,125.0 L210.3,125.1 L211.3,125.2 L212.3,125.3 L213.3,125.5 L214.3,125.6 L215.3,125.8 L216.3,126.0 L217.3,126.3 L218.3,126.7 L219.3,127.2 L220.3,127.7 L221.3,128.2 L222.3,128.8 L223.3,129.3 L224.3,129.8 L225.3,130.3 L226.3,130.9 L227.3,131.5 L228.3,132.1 L229.3,132.7 L230.3,133.3 L231.3,133.9 L232.3,134.6 L233.3,135.3 L234.3,136.0 L235.3,136.8 L236.3,137.5 L237.3,138.2 L238.3,138.9 L239.3,139.7 L240.3,140.4 L241.3,141.1 L242.3,141.8 L243.3,142.5 L244.3,143.2 L245.3,143.9 L246.3,144.6 L247.3,145.3 L248.3,145.9 L249.3,146.6 L250.3,147.2 L251.3,147.9 L252.3,148.5 L253.3,149.1 L254.3,149.7 L255.3,150.3 L256.3,150.9 L257.3,151.5 L258.3,152.0 L259.3,152.5 L260.3,153.0 L261.3,153.5 L262.3,154.0 L263.3,154.5 L264.3,154.9 L265.3,155.4 L266.3,155.8 L267.3,156.2 L268.3,156.6 L269.3,157.0 L270.3,157.4 L271.3,157.8 L272.3,158.1 L273.3,158.5 L274.3,158.8 L275.3,159.1 L276.3,159.4 L277.3,159.7 L278.3,159.9 L279.3,160.2 L280.3,160.4 L281.3,160.6 L282.3,160.8 L283.3,161.0 L284.3,161.2 L285.3,161.4 L286.3,161.5 L287.3,161.7 L288.3,161.8 L289.3,161.9 L290.3,162.0 L291.3,162.1 L292.3,162.2 L293.3,162.3 L294.3,162.3 L295.3,162.4 L296.3,162.5 L297.3,162.6 L298.3,162.6 L299.3,162.7 L300.3,162.8 L301.3,162.8 L302.3,162.9 L303.3,162.9 L304.3,163.0 L305.3,163.0 L306.3,163.1 L307.3,163.1 L308.3,163.1 L309.3,163.2 L310.3,163.2 L311.3,163.2 L312.3,163.2 L313.3,163.2 L314.3,163.2 L315.3,163.2 L316.3,163.2 L317.3,163.2 L318.3,163.2 L319.3,163.2 L320.3,163.2 L321.3,163.2 L322.3,163.2 L323.3,163.2 L324.3,163.2 L325.3,163.2 L326.3,163.2 L327.3,163.2 L328.3,163.2 L329.3,163.2 L330.3,163.2 L331.3,163.2 L332.3,163.2 L333.3,163.2 L334.3,163.2 L335.3,163.2 L336.3,163.2 L337.3,163.2 L338.3,163.2 L339.3,163.2 L340.3,163.2 L341.3,163.2 L342.3,163.2 L343.3,163.2 L344.3,163.2 L345.3,163.2 L346.3,163.2 L347.3,163.2 L348.3,163.2 L349.3,163.2 L350.3,163.2 L351.3,163.2 L352.3,163.2 L353.3,163.2 L354.3,163.2 L355.3,163.2 L356.3,163.2 L357.3,163.2 L358.3,163.2 L359.3,163.2 L360.3,163.2 L361.3,163.2 L362.3,163.2 L363.3,163.2 L364.3,163.2 L365.3,163.2 L366.3,163.2 L367.3,163.2 L368.3,163.2 L369.3,163.2 L370.3,163.2 L371.3,163.2 L372.3,163.2 L373.3,163.2 L374.3,163.2 L375.3,163.2 L376.3,163.2 L377.3,163.2 L378.3,163.2 L379.3,163.2 L380.3,163.2 L381.3,163.2 L382.3,163.2 L383.3,163.2 L384.3,163.2 L385.3,163.2 L386.3,163.2 L387.3,163.2 L388.3,163.2 L389.3,163.2 L390.3,163.2 L391.3,163.2 L392.3,163.2 L393.3,163.2 L394.3,163.2 L395.3,163.2 L396.3,163.2 L397.3,163.2 L398.3,163.2 L399.3,163.2 L400.3,163.2 L401.3,163.2 L402.3,163.2 L403.3,163.2 L404.2,163.2 L404.2,165.6 Z" fill="#fff" stroke="#f4f4f4" stroke-width="1.1" stroke-linejoin="round"/>
<path d="M161.3,165.6 L161.3,159.1 L162.3,159.0 L163.3,158.8 L164.3,158.6 L165.3,158.4 L166.3,158.2 L167.3,158.0 L168.3,157.7 L169.3,157.4 L170.3,157.1 L171.3,156.8 L172.3,156.5 L173.3,156.1 L174.3,155.8 L175.3,155.4 L176.3,155.0 L177.3,154.5 L178.3,154.0 L179.3,153.5 L180.3,153.0 L181.3,152.4 L182.3,151.9 L183.3,151.3 L184.3,150.8 L185.3,150.2 L186.3,149.6 L187.3,149.0 L188.3,148.4 L189.3,147.8 L190.3,147.2 L191.3,146.5 L192.3,145.9 L193.3,145.3 L194.3,144.7 L195.3,144.1 L196.3,143.4 L197.3,142.8 L198.3,142.2 L199.3,141.5 L200.3,141.0 L201.3,140.4 L202.3,139.9 L203.3,139.3 L204.3,138.8 L205.3,138.4 L206.3,137.9 L207.3,137.4 L208.3,137.0 L209.3,136.6 L210.3,136.2 L211.3,135.8 L212.3,135.5 L213.3,135.2 L214.3,134.9 L215.3,134.6 L216.3,134.3 L217.3,134.1 L218.3,133.8 L219.3,133.6 L220.3,133.4 L221.3,133.1 L222.3,132.9 L223.3,132.6 L224.3,132.3 L225.3,132.0 L226.3,131.7 L227.3,131.5 L228.3,131.3 L229.3,131.2 L230.3,131.2 L231.3,131.2 L232.3,131.2 L233.3,131.2 L234.3,131.2 L235.3,131.2 L236.3,131.2 L237.3,131.2 L238.3,131.2 L239.3,131.2 L240.3,131.2 L241.3,131.3 L242.3,131.4 L243.3,131.5 L244.3,131.7 L245.3,131.8 L246.3,132.0 L247.3,132.2 L248.3,132.5 L249.3,132.7 L250.3,132.9 L251.3,133.2 L252.3,133.5 L253.3,133.9 L254.3,134.3 L255.3,134.7 L256.3,135.1 L257.3,135.5 L258.3,135.9 L259.3,136.3 L260.3,136.8 L261.3,137.3 L262.3,137.8 L263.3,138.3 L264.3,138.8 L265.3,139.3 L266.3,139.8 L267.3,140.3 L268.3,140.9 L269.3,141.4 L270.3,141.9 L271.3,142.4 L272.3,142.9 L273.3,143.4 L274.3,143.9 L275.3,144.4 L276.3,144.9 L277.3,145.4 L278.3,146.0 L279.3,146.5 L280.3,147.0 L281.3,147.5 L282.3,148.0 L283.3,148.5 L284.3,149.0 L285.3,149.5 L286.3,149.9 L287.3,150.4 L288.3,150.8 L289.3,151.2 L290.3,151.6 L291.3,152.1 L292.3,152.4 L293.3,152.8 L294.3,153.2 L295.3,153.6 L296.3,154.0 L297.3,154.3 L298.3,154.7 L299.3,155.0 L300.3,155.4 L301.3,155.7 L302.3,156.1 L303.3,156.4 L304.3,156.7 L305.3,157.0 L306.3,157.3 L307.3,157.6 L308.3,157.9 L309.3,158.2 L310.3,158.5 L311.3,158.7 L312.3,159.0 L313.3,159.2 L314.3,159.5 L315.3,159.7 L316.3,159.9 L317.3,160.1 L318.3,160.2 L319.3,160.4 L320.3,160.6 L321.3,160.7 L322.3,160.9 L323.3,161.0 L324.3,161.1 L325.3,161.3 L326.3,161.4 L327.3,161.5 L328.3,161.6 L329.3,161.7 L330.3,161.8 L331.3,161.9 L332.3,162.0 L333.3,162.1 L334.3,162.2 L335.3,162.3 L336.3,162.3 L337.3,162.4 L338.3,162.4 L339.3,162.5 L340.3,162.6 L341.3,162.6 L342.3,162.6 L343.3,162.7 L344.3,162.7 L345.3,162.7 L346.3,162.8 L347.3,162.8 L348.3,162.8 L349.3,162.9 L350.3,162.9 L351.3,162.9 L352.3,163.0 L353.3,163.0 L354.3,163.0 L355.3,163.0 L356.3,163.0 L357.3,163.0 L358.3,163.0 L359.3,163.0 L360.3,163.0 L361.3,163.0 L362.3,163.0 L363.3,163.0 L364.3,163.0 L365.3,163.0 L366.3,163.0 L367.3,163.0 L368.3,163.0 L369.3,163.0 L370.3,163.0 L371.3,163.0 L372.3,163.0 L373.3,163.0 L374.3,163.0 L375.3,163.0 L376.3,163.0 L377.3,163.0 L378.3,163.0 L379.3,163.0 L380.3,163.0 L381.3,163.0 L382.3,163.0 L383.3,163.0 L384.3,163.0 L385.3,163.0 L386.3,163.0 L387.3,163.0 L388.3,163.0 L389.3,163.0 L390.3,163.0 L391.3,163.0 L392.3,163.0 L393.3,163.0 L394.3,163.0 L395.3,163.0 L396.3,163.0 L397.3,163.0 L398.3,163.0 L399.3,163.0 L400.3,163.0 L401.3,163.0 L402.3,163.0 L403.3,163.0 L404.2,163.0 L404.2,165.6 Z" fill="#1f77b4" fill-opacity="0.6"/>
<path d="M161.3,165.6 L161.3,148.3 L162.3,147.6 L163.3,146.9 L164.3,146.3 L165.3,145.6 L166.3,144.9 L167.3,144.2 L168.3,143.6 L169.3,142.9 L170.3,142.2 L171.3,141.6 L172.3,140.9 L173.3,140.3 L174.3,139.6 L175.3,138.9 L176.3,138.3 L177.3,137.6 L178.3,136.9 L179.3,136.3 L180.3,135.6 L181.3,135.0 L182.3,134.4 L183.3,133.8 L184.3,133.2 L185.3,132.7 L186.3,132.1 L187.3,131.6 L188.3,131.0 L189.3,130.5 L190.3,130.0 L191.3,129.6 L192.3,129.1 L193.3,128.7 L194.3,128.2 L195.3,127.8 L196.3,127.4 L197.3,127.0 L198.3,126.6 L199.3,126.2 L200.3,125.9 L201.3,125.7 L202.3,125.5 L203.3,125.4 L204.3,125.3 L205.3,125.1 L206.3,125.1 L207.3,125.0 L208.3,125.0 L209.3,125.0 L210.3,125.1 L211.3,125.2 L212.3,125.3 L213.3,125.5 L214.3,125.6 L215.3,125.8 L216.3,126.0 L217.3,126.3 L218.3,126.7 L219.3,127.2 L220.3,127.7 L221.3,128.2 L222.3,128.8 L223.3,129.3 L224.3,129.8 L225.3,130.3 L226.3,130.9 L227.3,131.5 L228.3,132.1 L229.3,132.7 L230.3,133.3 L231.3,133.9 L232.3,134.6 L233.3,135.3 L234.3,136.0 L235.3,136.8 L236.3,137.5 L237.3,138.2 L238.3,138.9 L239.3,139.7 L240.3,140.4 L241.3,141.1 L242.3,141.8 L243.3,142.5 L244.3,143.2 L245.3,143.9 L246.3,144.6 L247.3,145.3 L248.3,145.9 L249.3,146.6 L250.3,147.2 L251.3,147.9 L252.3,148.5 L253.3,149.1 L254.3,149.7 L255.3,150.3 L256.3,150.9 L257.3,151.5 L258.3,152.0 L259.3,152.5 L260.3,153.0 L261.3,153.5 L262.3,154.0 L263.3,154.5 L264.3,154.9 L265.3,155.4 L266.3,155.8 L267.3,156.2 L268.3,156.6 L269.3,157.0 L270.3,157.4 L271.3,157.8 L272.3,158.1 L273.3,158.5 L274.3,158.8 L275.3,159.1 L276.3,159.4 L277.3,159.7 L278.3,159.9 L279.3,160.2 L280.3,160.4 L281.3,160.6 L282.3,160.8 L283.3,161.0 L284.3,161.2 L285.3,161.4 L286.3,161.5 L287.3,161.7 L288.3,161.8 L289.3,161.9 L290.3,162.0 L291.3,162.1 L292.3,162.2 L293.3,162.3 L294.3,162.3 L295.3,162.4 L296.3,162.5 L297.3,162.6 L298.3,162.6 L299.3,162.7 L300.3,162.8 L301.3,162.8 L302.3,162.9 L303.3,162.9 L304.3,163.0 L305.3,163.0 L306.3,163.1 L307.3,163.1 L308.3,163.1 L309.3,163.2 L310.3,163.2 L311.3,163.2 L312.3,163.2 L313.3,163.2 L314.3,163.2 L315.3,163.2 L316.3,163.2 L317.3,163.2 L318.3,163.2 L319.3,163.2 L320.3,163.2 L321.3,163.2 L322.3,163.2 L323.3,163.2 L324.3,163.2 L325.3,163.2 L326.3,163.2 L327.3,163.2 L328.3,163.2 L329.3,163.2 L330.3,163.2 L331.3,163.2 L332.3,163.2 L333.3,163.2 L334.3,163.2 L335.3,163.2 L336.3,163.2 L337.3,163.2 L338.3,163.2 L339.3,163.2 L340.3,163.2 L341.3,163.2 L342.3,163.2 L343.3,163.2 L344.3,163.2 L345.3,163.2 L346.3,163.2 L347.3,163.2 L348.3,163.2 L349.3,163.2 L350.3,163.2 L351.3,163.2 L352.3,163.2 L353.3,163.2 L354.3,163.2 L355.3,163.2 L356.3,163.2 L357.3,163.2 L358.3,163.2 L359.3,163.2 L360.3,163.2 L361.3,163.2 L362.3,163.2 L363.3,163.2 L364.3,163.2 L365.3,163.2 L366.3,163.2 L367.3,163.2 L368.3,163.2 L369.3,163.2 L370.3,163.2 L371.3,163.2 L372.3,163.2 L373.3,163.2 L374.3,163.2 L375.3,163.2 L376.3,163.2 L377.3,163.2 L378.3,163.2 L379.3,163.2 L380.3,163.2 L381.3,163.2 L382.3,163.2 L383.3,163.2 L384.3,163.2 L385.3,163.2 L386.3,163.2 L387.3,163.2 L388.3,163.2 L389.3,163.2 L390.3,163.2 L391.3,163.2 L392.3,163.2 L393.3,163.2 L394.3,163.2 L395.3,163.2 L396.3,163.2 L397.3,163.2 L398.3,163.2 L399.3,163.2 L400.3,163.2 L401.3,163.2 L402.3,163.2 L403.3,163.2 L404.2,163.2 L404.2,165.6 Z" fill="#ff7f0e" fill-opacity="0.6"/>
<rect x="205.60" y="145.41" width="2" height="8.7" fill="#000"/>
<rect x="205.60" y="158.01" width="2" height="8.50" fill="#000"/>
<rect x="235.60" y="145.41" width="2" height="8.7" fill="#000"/>
<rect x="235.60" y="158.01" width="2" height="8.50" fill="#000"/>
<path d="M160.30,166.81 H405.00 M161.30,166.81 V172.81 M209.40,166.81 V172.81 M258.40,166.81 V172.81 M306.60,166.81 V172.81 M355.90,166.81 V172.81" stroke="#b0b0b0" stroke-width="2.6" fill="none"/>
<path d="M160.30,166.81 H405.00 M161.30,166.81 V172.81 M209.40,166.81 V172.81 M258.40,166.81 V172.81 M306.60,166.81 V172.81 M355.90,166.81 V172.81" stroke="#000" stroke-width="1.2" fill="none"/>
<path d="M424.3,165.6 L424.3,149.5 L425.3,148.9 L426.3,148.3 L427.3,147.7 L428.3,147.0 L429.3,146.4 L430.3,145.8 L431.3,145.1 L432.3,144.4 L433.3,143.8 L434.3,143.1 L435.3,142.4 L436.3,141.7 L437.3,141.0 L438.3,140.3 L439.3,139.5 L440.3,138.7 L441.3,137.9 L442.3,137.1 L443.3,136.3 L444.3,135.6 L445.3,134.8 L446.3,134.1 L447.3,133.5 L448.3,132.8 L449.3,132.1 L450.3,131.5 L451.3,130.8 L452.3,130.2 L453.3,129.7 L454.3,129.1 L455.3,128.6 L456.3,128.2 L457.3,127.7 L458.3,127.3 L459.3,126.9 L460.3,126.5 L461.3,126.2 L462.3,125.8 L463.3,125.5 L464.3,125.3 L465.3,125.1 L466.3,125.0 L467.3,124.8 L468.3,124.7 L469.3,124.5 L470.3,124.4 L471.3,124.4 L472.3,124.3 L473.3,124.3 L474.3,124.4 L475.3,124.5 L476.3,124.6 L477.3,124.8 L478.3,125.0 L479.3,125.2 L480.3,125.4 L481.3,125.7 L482.3,125.9 L483.3,126.2 L484.3,126.6 L485.3,126.9 L486.3,127.3 L487.3,127.8 L488.3,128.2 L489.3,128.7 L490.3,129.2 L491.3,129.7 L492.3,130.3 L493.3,130.9 L494.3,131.4 L495.3,132.2 L496.3,133.0 L497.3,133.8 L498.3,134.6 L499.3,135.4 L500.3,136.2 L501.3,137.0 L502.3,137.7 L503.3,138.5 L504.3,139.2 L505.3,140.0 L506.3,140.7 L507.3,141.4 L508.3,142.2 L509.3,142.9 L510.3,143.6 L511.3,144.3 L512.3,145.0 L513.3,145.6 L514.3,146.3 L515.3,147.0 L516.3,147.6 L517.3,148.3 L518.3,148.9 L519.3,149.5 L520.3,150.1 L521.3,150.7 L522.3,151.3 L523.3,151.9 L524.3,152.4 L525.3,152.9 L526.3,153.5 L527.3,154.0 L528.3,154.4 L529.3,154.9 L530.3,155.3 L531.3,155.8 L532.3,156.2 L533.3,156.6 L534.3,157.0 L535.3,157.3 L536.3,157.7 L537.3,158.0 L538.3,158.4 L539.3,158.7 L540.3,159.0 L541.3,159.3 L542.3,159.5 L543.3,159.8 L544.3,160.0 L545.3,160.3 L546.3,160.5 L547.3,160.7 L548.3,160.9 L549.3,161.0 L550.3,161.2 L551.3,161.4 L552.3,161.5 L553.3,161.6 L554.3,161.8 L555.3,161.9 L556.3,162.1 L557.3,162.2 L558.3,162.3 L559.3,162.5 L560.3,162.6 L561.3,162.7 L562.3,162.8 L563.3,162.9 L564.3,163.0 L565.3,163.0 L566.3,163.0 L567.3,163.0 L568.3,163.0 L569.3,163.0 L570.3,163.0 L571.3,163.0 L572.3,163.0 L573.3,163.0 L574.3,163.0 L575.3,163.0 L576.3,163.0 L577.3,163.0 L578.3,163.0 L579.3,163.0 L580.3,163.0 L581.3,163.0 L582.3,163.0 L583.3,163.0 L584.3,163.0 L585.3,163.0 L586.3,163.0 L587.3,163.0 L588.3,163.0 L589.3,163.0 L590.3,163.0 L591.3,163.0 L592.3,163.0 L593.3,163.0 L594.3,163.0 L595.3,163.0 L596.3,163.0 L597.3,163.0 L598.3,163.0 L599.3,163.0 L600.3,163.0 L601.3,163.0 L602.3,163.0 L603.3,163.0 L604.3,163.0 L605.3,163.0 L606.3,163.0 L607.3,163.0 L608.3,163.0 L609.3,163.0 L610.3,163.0 L611.3,163.0 L612.3,163.0 L613.3,163.0 L614.3,163.0 L615.3,163.0 L616.3,163.0 L617.3,163.0 L618.3,163.0 L619.3,163.0 L620.3,163.0 L621.3,163.0 L622.3,163.0 L623.3,163.0 L624.3,163.0 L625.3,163.0 L626.3,163.0 L627.3,163.0 L628.3,163.0 L629.3,163.0 L630.3,163.0 L631.3,163.0 L632.3,163.0 L633.3,163.0 L634.3,163.0 L635.3,163.0 L636.3,163.0 L637.3,163.0 L638.3,163.0 L639.3,163.0 L640.3,163.0 L641.3,163.0 L642.3,163.0 L643.3,163.0 L644.3,163.0 L645.3,163.0 L646.3,163.0 L647.3,163.0 L648.3,163.0 L649.3,163.0 L650.3,163.0 L651.3,163.0 L652.3,163.0 L653.3,163.0 L654.3,163.0 L655.3,163.0 L656.3,163.0 L657.3,163.0 L658.3,163.0 L659.3,163.0 L660.3,163.0 L661.3,163.0 L662.3,163.0 L663.3,163.0 L664.3,163.0 L665.3,163.0 L666.3,163.0 L667.2,163.0 L667.2,165.6 Z" fill="#fff" stroke="#f4f4f4" stroke-width="1.1" stroke-linejoin="round"/>
<path d="M424.3,165.6 L424.3,148.9 L425.3,148.4 L426.3,147.9 L427.3,147.4 L428.3,146.8 L429.3,146.3 L430.3,145.7 L431.3,145.2 L432.3,144.6 L433.3,144.0 L434.3,143.4 L435.3,142.8 L436.3,142.1 L437.3,141.5 L438.3,140.8 L439.3,140.2 L440.3,139.4 L441.3,138.7 L442.3,138.0 L443.3,137.2 L444.3,136.5 L445.3,135.8 L446.3,135.1 L447.3,134.5 L448.3,133.8 L449.3,133.2 L450.3,132.5 L451.3,131.9 L452.3,131.2 L453.3,130.7 L454.3,130.1 L455.3,129.6 L456.3,129.2 L457.3,128.7 L458.3,128.3 L459.3,127.9 L460.3,127.5 L461.3,127.2 L462.3,126.8 L463.3,126.5 L464.3,126.3 L465.3,126.1 L466.3,126.0 L467.3,125.8 L468.3,125.7 L469.3,125.5 L470.3,125.4 L471.3,125.4 L472.3,125.3 L473.3,125.3 L474.3,125.4 L475.3,125.5 L476.3,125.6 L477.3,125.8 L478.3,126.0 L479.3,126.2 L480.3,126.4 L481.3,126.7 L482.3,126.9 L483.3,127.3 L484.3,127.6 L485.3,128.0 L486.3,128.4 L487.3,128.8 L488.3,129.3 L489.3,129.8 L490.3,130.3 L491.3,130.8 L492.3,131.3 L493.3,131.9 L494.3,132.4 L495.3,133.0 L496.3,133.7 L497.3,134.4 L498.3,135.1 L499.3,135.8 L500.3,136.5 L501.3,137.3 L502.3,138.0 L503.3,138.8 L504.3,139.5 L505.3,140.3 L506.3,141.0 L507.3,141.7 L508.3,142.5 L509.3,143.2 L510.3,143.9 L511.3,144.5 L512.3,145.2 L513.3,145.9 L514.3,146.6 L515.3,147.2 L516.3,147.9 L517.3,148.5 L518.3,149.1 L519.3,149.7 L520.3,150.3 L521.3,150.8 L522.3,151.4 L523.3,151.9 L524.3,152.5 L525.3,153.0 L526.3,153.5 L527.3,154.0 L528.3,154.4 L529.3,154.9 L530.3,155.3 L531.3,155.7 L532.3,156.1 L533.3,156.5 L534.3,156.9 L535.3,157.3 L536.3,157.6 L537.3,157.9 L538.3,158.2 L539.3,158.5 L540.3,158.8 L541.3,159.1 L542.3,159.4 L543.3,159.6 L544.3,159.9 L545.3,160.1 L546.3,160.3 L547.3,160.5 L548.3,160.7 L549.3,160.8 L550.3,161.0 L551.3,161.1 L552.3,161.3 L553.3,161.4 L554.3,161.6 L555.3,161.7 L556.3,161.9 L557.3,162.0 L558.3,162.1 L559.3,162.3 L560.3,162.4 L561.3,162.5 L562.3,162.6 L563.3,162.7 L564.3,162.8 L565.3,162.9 L566.3,163.0 L567.3,163.0 L568.3,163.1 L569.3,163.2 L570.3,163.2 L571.3,163.3 L572.3,163.3 L573.3,163.4 L574.3,163.4 L575.3,163.4 L576.3,163.4 L577.3,163.4 L578.3,163.4 L579.3,163.4 L580.3,163.4 L581.3,163.4 L582.3,163.4 L583.3,163.4 L584.3,163.4 L585.3,163.4 L586.3,163.4 L587.3,163.4 L588.3,163.4 L589.3,163.4 L590.3,163.4 L591.3,163.4 L592.3,163.4 L593.3,163.4 L594.3,163.4 L595.3,163.4 L596.3,163.4 L597.3,163.4 L598.3,163.4 L599.3,163.4 L600.3,163.4 L601.3,163.4 L602.3,163.4 L603.3,163.4 L604.3,163.4 L605.3,163.4 L606.3,163.4 L607.3,163.4 L608.3,163.4 L609.3,163.4 L610.3,163.4 L611.3,163.4 L612.3,163.4 L613.3,163.4 L614.3,163.4 L615.3,163.4 L616.3,163.4 L617.3,163.4 L618.3,163.4 L619.3,163.4 L620.3,163.4 L621.3,163.4 L622.3,163.4 L623.3,163.4 L624.3,163.4 L625.3,163.4 L626.3,163.4 L627.3,163.4 L628.3,163.4 L629.3,163.4 L630.3,163.4 L631.3,163.4 L632.3,163.4 L633.3,163.4 L634.3,163.4 L635.3,163.4 L636.3,163.4 L637.3,163.4 L638.3,163.4 L639.3,163.4 L640.3,163.4 L641.3,163.4 L642.3,163.4 L643.3,163.4 L644.3,163.4 L645.3,163.4 L646.3,163.4 L647.3,163.4 L648.3,163.4 L649.3,163.4 L650.3,163.4 L651.3,163.4 L652.3,163.4 L653.3,163.4 L654.3,163.4 L655.3,163.4 L656.3,163.4 L657.3,163.4 L658.3,163.4 L659.3,163.4 L660.3,163.4 L661.3,163.4 L662.3,163.4 L663.3,163.4 L664.3,163.4 L665.3,163.4 L666.3,163.4 L667.2,163.4 L667.2,165.6 Z" fill="#fff" stroke="#f4f4f4" stroke-width="1.1" stroke-linejoin="round"/>
<path d="M424.3,165.6 L424.3,149.5 L425.3,148.9 L426.3,148.3 L427.3,147.7 L428.3,147.0 L429.3,146.4 L430.3,145.8 L431.3,145.1 L432.3,144.4 L433.3,143.8 L434.3,143.1 L435.3,142.4 L436.3,141.7 L437.3,141.0 L438.3,140.3 L439.3,139.5 L440.3,138.7 L441.3,137.9 L442.3,137.1 L443.3,136.3 L444.3,135.6 L445.3,134.8 L446.3,134.1 L447.3,133.5 L448.3,132.8 L449.3,132.1 L450.3,131.5 L451.3,130.8 L452.3,130.2 L453.3,129.7 L454.3,129.1 L455.3,128.6 L456.3,128.2 L457.3,127.7 L458.3,127.3 L459.3,126.9 L460.3,126.5 L461.3,126.2 L462.3,125.8 L463.3,125.5 L464.3,125.3 L465.3,125.1 L466.3,125.0 L467.3,124.8 L468.3,124.7 L469.3,124.5 L470.3,124.4 L471.3,124.4 L472.3,124.3 L473.3,124.3 L474.3,124.4 L475.3,124.5 L476.3,124.6 L477.3,124.8 L478.3,125.0 L479.3,125.2 L480.3,125.4 L481.3,125.7 L482.3,125.9 L483.3,126.2 L484.3,126.6 L485.3,126.9 L486.3,127.3 L487.3,127.8 L488.3,128.2 L489.3,128.7 L490.3,129.2 L491.3,129.7 L492.3,130.3 L493.3,130.9 L494.3,131.4 L495.3,132.2 L496.3,133.0 L497.3,133.8 L498.3,134.6 L499.3,135.4 L500.3,136.2 L501.3,137.0 L502.3,137.7 L503.3,138.5 L504.3,139.2 L505.3,140.0 L506.3,140.7 L507.3,141.4 L508.3,142.2 L509.3,142.9 L510.3,143.6 L511.3,144.3 L512.3,145.0 L513.3,145.6 L514.3,146.3 L515.3,147.0 L516.3,147.6 L517.3,148.3 L518.3,148.9 L519.3,149.5 L520.3,150.1 L521.3,150.7 L522.3,151.3 L523.3,151.9 L524.3,152.4 L525.3,152.9 L526.3,153.5 L527.3,154.0 L528.3,154.4 L529.3,154.9 L530.3,155.3 L531.3,155.8 L532.3,156.2 L533.3,156.6 L534.3,157.0 L535.3,157.3 L536.3,157.7 L537.3,158.0 L538.3,158.4 L539.3,158.7 L540.3,159.0 L541.3,159.3 L542.3,159.5 L543.3,159.8 L544.3,160.0 L545.3,160.3 L546.3,160.5 L547.3,160.7 L548.3,160.9 L549.3,161.0 L550.3,161.2 L551.3,161.4 L552.3,161.5 L553.3,161.6 L554.3,161.8 L555.3,161.9 L556.3,162.1 L557.3,162.2 L558.3,162.3 L559.3,162.5 L560.3,162.6 L561.3,162.7 L562.3,162.8 L563.3,162.9 L564.3,163.0 L565.3,163.0 L566.3,163.0 L567.3,163.0 L568.3,163.0 L569.3,163.0 L570.3,163.0 L571.3,163.0 L572.3,163.0 L573.3,163.0 L574.3,163.0 L575.3,163.0 L576.3,163.0 L577.3,163.0 L578.3,163.0 L579.3,163.0 L580.3,163.0 L581.3,163.0 L582.3,163.0 L583.3,163.0 L584.3,163.0 L585.3,163.0 L586.3,163.0 L587.3,163.0 L588.3,163.0 L589.3,163.0 L590.3,163.0 L591.3,163.0 L592.3,163.0 L593.3,163.0 L594.3,163.0 L595.3,163.0 L596.3,163.0 L597.3,163.0 L598.3,163.0 L599.3,163.0 L600.3,163.0 L601.3,163.0 L602.3,163.0 L603.3,163.0 L604.3,163.0 L605.3,163.0 L606.3,163.0 L607.3,163.0 L608.3,163.0 L609.3,163.0 L610.3,163.0 L611.3,163.0 L612.3,163.0 L613.3,163.0 L614.3,163.0 L615.3,163.0 L616.3,163.0 L617.3,163.0 L618.3,163.0 L619.3,163.0 L620.3,163.0 L621.3,163.0 L622.3,163.0 L623.3,163.0 L624.3,163.0 L625.3,163.0 L626.3,163.0 L627.3,163.0 L628.3,163.0 L629.3,163.0 L630.3,163.0 L631.3,163.0 L632.3,163.0 L633.3,163.0 L634.3,163.0 L635.3,163.0 L636.3,163.0 L637.3,163.0 L638.3,163.0 L639.3,163.0 L640.3,163.0 L641.3,163.0 L642.3,163.0 L643.3,163.0 L644.3,163.0 L645.3,163.0 L646.3,163.0 L647.3,163.0 L648.3,163.0 L649.3,163.0 L650.3,163.0 L651.3,163.0 L652.3,163.0 L653.3,163.0 L654.3,163.0 L655.3,163.0 L656.3,163.0 L657.3,163.0 L658.3,163.0 L659.3,163.0 L660.3,163.0 L661.3,163.0 L662.3,163.0 L663.3,163.0 L664.3,163.0 L665.3,163.0 L666.3,163.0 L667.2,163.0 L667.2,165.6 Z" fill="#1f77b4" fill-opacity="0.6"/>
<path d="M424.3,165.6 L424.3,148.9 L425.3,148.4 L426.3,147.9 L427.3,147.4 L428.3,146.8 L429.3,146.3 L430.3,145.7 L431.3,145.2 L432.3,144.6 L433.3,144.0 L434.3,143.4 L435.3,142.8 L436.3,142.1 L437.3,141.5 L438.3,140.8 L439.3,140.2 L440.3,139.4 L441.3,138.7 L442.3,138.0 L443.3,137.2 L444.3,136.5 L445.3,135.8 L446.3,135.1 L447.3,134.5 L448.3,133.8 L449.3,133.2 L450.3,132.5 L451.3,131.9 L452.3,131.2 L453.3,130.7 L454.3,130.1 L455.3,129.6 L456.3,129.2 L457.3,128.7 L458.3,128.3 L459.3,127.9 L460.3,127.5 L461.3,127.2 L462.3,126.8 L463.3,126.5 L464.3,126.3 L465.3,126.1 L466.3,126.0 L467.3,125.8 L468.3,125.7 L469.3,125.5 L470.3,125.4 L471.3,125.4 L472.3,125.3 L473.3,125.3 L474.3,125.4 L475.3,125.5 L476.3,125.6 L477.3,125.8 L478.3,126.0 L479.3,126.2 L480.3,126.4 L481.3,126.7 L482.3,126.9 L483.3,127.3 L484.3,127.6 L485.3,128.0 L486.3,128.4 L487.3,128.8 L488.3,129.3 L489.3,129.8 L490.3,130.3 L491.3,130.8 L492.3,131.3 L493.3,131.9 L494.3,132.4 L495.3,133.0 L496.3,133.7 L497.3,134.4 L498.3,135.1 L499.3,135.8 L500.3,136.5 L501.3,137.3 L502.3,138.0 L503.3,138.8 L504.3,139.5 L505.3,140.3 L506.3,141.0 L507.3,141.7 L508.3,142.5 L509.3,143.2 L510.3,143.9 L511.3,144.5 L512.3,145.2 L513.3,145.9 L514.3,146.6 L515.3,147.2 L516.3,147.9 L517.3,148.5 L518.3,149.1 L519.3,149.7 L520.3,150.3 L521.3,150.8 L522.3,151.4 L523.3,151.9 L524.3,152.5 L525.3,153.0 L526.3,153.5 L527.3,154.0 L528.3,154.4 L529.3,154.9 L530.3,155.3 L531.3,155.7 L532.3,156.1 L533.3,156.5 L534.3,156.9 L535.3,157.3 L536.3,157.6 L537.3,157.9 L538.3,158.2 L539.3,158.5 L540.3,158.8 L541.3,159.1 L542.3,159.4 L543.3,159.6 L544.3,159.9 L545.3,160.1 L546.3,160.3 L547.3,160.5 L548.3,160.7 L549.3,160.8 L550.3,161.0 L551.3,161.1 L552.3,161.3 L553.3,161.4 L554.3,161.6 L555.3,161.7 L556.3,161.9 L557.3,162.0 L558.3,162.1 L559.3,162.3 L560.3,162.4 L561.3,162.5 L562.3,162.6 L563.3,162.7 L564.3,162.8 L565.3,162.9 L566.3,163.0 L567.3,163.0 L568.3,163.1 L569.3,163.2 L570.3,163.2 L571.3,163.3 L572.3,163.3 L573.3,163.4 L574.3,163.4 L575.3,163.4 L576.3,163.4 L577.3,163.4 L578.3,163.4 L579.3,163.4 L580.3,163.4 L581.3,163.4 L582.3,163.4 L583.3,163.4 L584.3,163.4 L585.3,163.4 L586.3,163.4 L587.3,163.4 L588.3,163.4 L589.3,163.4 L590.3,163.4 L591.3,163.4 L592.3,163.4 L593.3,163.4 L594.3,163.4 L595.3,163.4 L596.3,163.4 L597.3,163.4 L598.3,163.4 L599.3,163.4 L600.3,163.4 L601.3,163.4 L602.3,163.4 L603.3,163.4 L604.3,163.4 L605.3,163.4 L606.3,163.4 L607.3,163.4 L608.3,163.4 L609.3,163.4 L610.3,163.4 L611.3,163.4 L612.3,163.4 L613.3,163.4 L614.3,163.4 L615.3,163.4 L616.3,163.4 L617.3,163.4 L618.3,163.4 L619.3,163.4 L620.3,163.4 L621.3,163.4 L622.3,163.4 L623.3,163.4 L624.3,163.4 L625.3,163.4 L626.3,163.4 L627.3,163.4 L628.3,163.4 L629.3,163.4 L630.3,163.4 L631.3,163.4 L632.3,163.4 L633.3,163.4 L634.3,163.4 L635.3,163.4 L636.3,163.4 L637.3,163.4 L638.3,163.4 L639.3,163.4 L640.3,163.4 L641.3,163.4 L642.3,163.4 L643.3,163.4 L644.3,163.4 L645.3,163.4 L646.3,163.4 L647.3,163.4 L648.3,163.4 L649.3,163.4 L650.3,163.4 L651.3,163.4 L652.3,163.4 L653.3,163.4 L654.3,163.4 L655.3,163.4 L656.3,163.4 L657.3,163.4 L658.3,163.4 L659.3,163.4 L660.3,163.4 L661.3,163.4 L662.3,163.4 L663.3,163.4 L664.3,163.4 L665.3,163.4 L666.3,163.4 L667.2,163.4 L667.2,165.6 Z" fill="#ff7f0e" fill-opacity="0.6"/>
<rect x="471.50" y="145.41" width="2" height="8.7" fill="#000"/>
<rect x="471.50" y="158.01" width="2" height="8.50" fill="#000"/>
<path d="M423.30,166.81 H668.00 M441.50,166.81 V172.81 M472.60,166.81 V172.81 M522.40,166.81 V172.81 M569.60,166.81 V172.81 M617.20,166.81 V172.81" stroke="#b0b0b0" stroke-width="2.6" fill="none"/>
<path d="M423.30,166.81 H668.00 M441.50,166.81 V172.81 M472.60,166.81 V172.81 M522.40,166.81 V172.81 M569.60,166.81 V172.81 M617.20,166.81 V172.81" stroke="#000" stroke-width="1.2" fill="none"/>
<path d="M161.3,216.9 L161.3,214.3 L162.3,214.3 L163.3,214.3 L164.3,214.3 L165.3,214.2 L166.3,214.1 L167.3,214.0 L168.3,213.9 L169.3,213.8 L170.3,213.7 L171.3,213.6 L172.3,213.4 L173.3,213.3 L174.3,213.2 L175.3,213.0 L176.3,212.8 L177.3,212.7 L178.3,212.5 L179.3,212.3 L180.3,212.1 L181.3,211.9 L182.3,211.7 L183.3,211.4 L184.3,211.2 L185.3,210.9 L186.3,210.7 L187.3,210.4 L188.3,210.1 L189.3,209.9 L190.3,209.6 L191.3,209.3 L192.3,209.0 L193.3,208.7 L194.3,208.4 L195.3,208.1 L196.3,207.7 L197.3,207.4 L198.3,207.0 L199.3,206.7 L200.3,206.3 L201.3,205.9 L202.3,205.5 L203.3,205.1 L204.3,204.6 L205.3,204.2 L206.3,203.8 L207.3,203.3 L208.3,202.9 L209.3,202.4 L210.3,201.9 L211.3,201.5 L212.3,201.0 L213.3,200.5 L214.3,200.0 L215.3,199.4 L216.3,198.8 L217.3,198.3 L218.3,197.7 L219.3,197.1 L220.3,196.6 L221.3,196.1 L222.3,195.7 L223.3,195.3 L224.3,194.9 L225.3,194.5 L226.3,194.2 L227.3,193.8 L228.3,193.4 L229.3,193.0 L230.3,192.6 L231.3,192.1 L232.3,191.5 L233.3,191.0 L234.3,190.4 L235.3,189.8 L236.3,189.3 L237.3,188.8 L238.3,188.3 L239.3,188.0 L240.3,187.7 L241.3,187.4 L242.3,187.2 L243.3,186.9 L244.3,186.7 L245.3,186.5 L246.3,186.3 L247.3,186.2 L248.3,186.1 L249.3,186.0 L250.3,185.9 L251.3,185.8 L252.3,185.7 L253.3,185.7 L254.3,185.6 L255.3,185.6 L256.3,185.5 L257.3,185.5 L258.3,185.5 L259.3,185.5 L260.3,185.5 L261.3,185.6 L262.3,185.6 L263.3,185.6 L264.3,185.7 L265.3,185.8 L266.3,185.9 L267.3,185.9 L268.3,186.0 L269.3,186.2 L270.3,186.4 L271.3,186.7 L272.3,187.0 L273.3,187.3 L274.3,187.7 L275.3,188.1 L276.3,188.5 L277.3,188.9 L278.3,189.3 L279.3,189.7 L280.3,190.2 L281.3,190.7 L282.3,191.2 L283.3,191.7 L284.3,192.2 L285.3,192.8 L286.3,193.3 L287.3,193.8 L288.3,194.3 L289.3,194.8 L290.3,195.3 L291.3,195.8 L292.3,196.3 L293.3,196.8 L294.3,197.3 L295.3,197.8 L296.3,198.3 L297.3,198.9 L298.3,199.4 L299.3,199.9 L300.3,200.4 L301.3,200.9 L302.3,201.4 L303.3,201.9 L304.3,202.4 L305.3,202.8 L306.3,203.3 L307.3,203.7 L308.3,204.1 L309.3,204.6 L310.3,205.0 L311.3,205.4 L312.3,205.8 L313.3,206.2 L314.3,206.5 L315.3,206.9 L316.3,207.2 L317.3,207.5 L318.3,207.8 L319.3,208.1 L320.3,208.4 L321.3,208.7 L322.3,209.0 L323.3,209.3 L324.3,209.5 L325.3,209.8 L326.3,210.1 L327.3,210.3 L328.3,210.6 L329.3,210.9 L330.3,211.1 L331.3,211.4 L332.3,211.6 L333.3,211.8 L334.3,212.0 L335.3,212.1 L336.3,212.3 L337.3,212.4 L338.3,212.6 L339.3,212.7 L340.3,212.8 L341.3,212.9 L342.3,213.0 L343.3,213.1 L344.3,213.2 L345.3,213.3 L346.3,213.4 L347.3,213.5 L348.3,213.6 L349.3,213.7 L350.3,213.7 L351.3,213.8 L352.3,213.8 L353.3,213.9 L354.3,213.9 L355.3,213.9 L356.3,213.9 L357.3,213.9 L358.3,213.9 L359.3,213.9 L360.3,213.9 L361.3,213.9 L362.3,213.9 L363.3,213.9 L364.3,213.9 L365.3,213.9 L366.3,213.9 L367.3,213.9 L368.3,213.9 L369.3,213.9 L370.3,213.9 L371.3,213.9 L372.3,213.9 L373.3,213.9 L374.3,213.9 L375.3,213.9 L376.3,213.9 L377.3,213.9 L378.3,213.9 L379.3,213.9 L380.3,213.9 L381.3,213.9 L382.3,213.9 L383.3,213.9 L384.3,213.9 L385.3,213.9 L386.3,213.9 L387.3,213.9 L388.3,213.9 L389.3,213.9 L390.3,213.9 L391.3,213.9 L392.3,213.9 L393.3,213.9 L394.3,213.9 L395.3,213.9 L396.3,213.9 L397.3,213.9 L398.3,213.9 L399.3,213.9 L400.3,213.9 L401.3,213.9 L402.3,213.9 L403.3,213.9 L404.2,213.9 L404.2,216.9 Z" fill="#fff" stroke="#f4f4f4" stroke-width="1.1" stroke-linejoin="round"/>
<path d="M161.3,216.9 L161.3,209.4 L162.3,209.1 L163.3,208.8 L164.3,208.5 L165.3,208.1 L166.3,207.7 L167.3,207.3 L168.3,206.8 L169.3,206.4 L170.3,205.9 L171.3,205.4 L172.3,204.9 L173.3,204.4 L174.3,203.8 L175.3,203.3 L176.3,202.7 L177.3,202.0 L178.3,201.3 L179.3,200.6 L180.3,199.9 L181.3,199.1 L182.3,198.3 L183.3,197.6 L184.3,196.8 L185.3,195.9 L186.3,195.0 L187.3,194.1 L188.3,193.2 L189.3,192.2 L190.3,191.3 L191.3,190.4 L192.3,189.5 L193.3,188.7 L194.3,187.8 L195.3,187.0 L196.3,186.2 L197.3,185.3 L198.3,184.6 L199.3,183.8 L200.3,183.1 L201.3,182.4 L202.3,181.8 L203.3,181.2 L204.3,180.6 L205.3,179.9 L206.3,179.4 L207.3,178.8 L208.3,178.3 L209.3,177.9 L210.3,177.5 L211.3,177.2 L212.3,177.0 L213.3,176.9 L214.3,176.7 L215.3,176.6 L216.3,176.5 L217.3,176.4 L218.3,176.3 L219.3,176.2 L220.3,176.2 L221.3,176.2 L222.3,176.3 L223.3,176.5 L224.3,176.7 L225.3,176.9 L226.3,177.2 L227.3,177.5 L228.3,177.8 L229.3,178.2 L230.3,178.5 L231.3,178.9 L232.3,179.4 L233.3,179.9 L234.3,180.5 L235.3,181.2 L236.3,181.9 L237.3,182.6 L238.3,183.3 L239.3,184.0 L240.3,184.7 L241.3,185.4 L242.3,186.2 L243.3,187.0 L244.3,187.8 L245.3,188.6 L246.3,189.4 L247.3,190.3 L248.3,191.1 L249.3,192.0 L250.3,192.9 L251.3,193.8 L252.3,194.7 L253.3,195.7 L254.3,196.6 L255.3,197.5 L256.3,198.4 L257.3,199.3 L258.3,200.1 L259.3,200.9 L260.3,201.7 L261.3,202.5 L262.3,203.2 L263.3,204.0 L264.3,204.7 L265.3,205.3 L266.3,206.0 L267.3,206.5 L268.3,207.1 L269.3,207.5 L270.3,208.0 L271.3,208.5 L272.3,208.9 L273.3,209.3 L274.3,209.7 L275.3,210.0 L276.3,210.4 L277.3,210.7 L278.3,211.0 L279.3,211.3 L280.3,211.6 L281.3,211.8 L282.3,212.1 L283.3,212.3 L284.3,212.5 L285.3,212.7 L286.3,212.9 L287.3,213.1 L288.3,213.2 L289.3,213.3 L290.3,213.4 L291.3,213.6 L292.3,213.7 L293.3,213.7 L294.3,213.8 L295.3,213.9 L296.3,213.9 L297.3,213.9 L298.3,213.9 L299.3,213.9 L300.3,213.9 L301.3,213.9 L302.3,213.9 L303.3,213.9 L304.3,213.9 L305.3,213.9 L306.3,213.9 L307.3,213.9 L308.3,213.9 L309.3,213.9 L310.3,213.9 L311.3,213.9 L312.3,213.9 L313.3,213.9 L314.3,213.9 L315.3,213.9 L316.3,213.9 L317.3,213.9 L318.3,213.9 L319.3,213.9 L320.3,213.9 L321.3,213.9 L322.3,213.9 L323.3,213.9 L324.3,213.9 L325.3,213.9 L326.3,213.9 L327.3,213.9 L328.3,213.9 L329.3,213.9 L330.3,213.9 L331.3,213.9 L332.3,213.9 L333.3,213.9 L334.3,213.9 L335.3,213.9 L336.3,213.9 L337.3,213.9 L338.3,213.9 L339.3,213.9 L340.3,213.9 L341.3,213.9 L342.3,213.9 L343.3,213.9 L344.3,213.9 L345.3,213.9 L346.3,213.9 L347.3,213.9 L348.3,213.9 L349.3,213.9 L350.3,213.9 L351.3,213.9 L352.3,213.9 L353.3,213.9 L354.3,213.9 L355.3,213.9 L356.3,213.9 L357.3,213.9 L358.3,213.9 L359.3,213.9 L360.3,213.9 L361.3,213.9 L362.3,213.9 L363.3,213.9 L364.3,213.9 L365.3,213.9 L366.3,213.9 L367.3,213.9 L368.3,213.9 L369.3,213.9 L370.3,213.9 L371.3,213.9 L372.3,213.9 L373.3,213.9 L374.3,213.9 L375.3,213.9 L376.3,213.9 L377.3,213.9 L378.3,213.9 L379.3,213.9 L380.3,213.9 L381.3,213.9 L382.3,213.9 L383.3,213.9 L384.3,213.9 L385.3,213.9 L386.3,213.9 L387.3,213.9 L388.3,213.9 L389.3,213.9 L390.3,213.9 L391.3,213.9 L392.3,213.9 L393.3,213.9 L394.3,213.9 L395.3,213.9 L396.3,213.9 L397.3,213.9 L398.3,213.9 L399.3,213.9 L400.3,213.9 L401.3,213.9 L402.3,213.9 L403.3,213.9 L404.2,213.9 L404.2,216.9 Z" fill="#fff" stroke="#f4f4f4" stroke-width="1.1" stroke-linejoin="round"/>
<path d="M161.3,216.9 L161.3,214.3 L162.3,214.3 L163.3,214.3 L164.3,214.3 L165.3,214.2 L166.3,214.1 L167.3,214.0 L168.3,213.9 L169.3,213.8 L170.3,213.7 L171.3,213.6 L172.3,213.4 L173.3,213.3 L174.3,213.2 L175.3,213.0 L176.3,212.8 L177.3,212.7 L178.3,212.5 L179.3,212.3 L180.3,212.1 L181.3,211.9 L182.3,211.7 L183.3,211.4 L184.3,211.2 L185.3,210.9 L186.3,210.7 L187.3,210.4 L188.3,210.1 L189.3,209.9 L190.3,209.6 L191.3,209.3 L192.3,209.0 L193.3,208.7 L194.3,208.4 L195.3,208.1 L196.3,207.7 L197.3,207.4 L198.3,207.0 L199.3,206.7 L200.3,206.3 L201.3,205.9 L202.3,205.5 L203.3,205.1 L204.3,204.6 L205.3,204.2 L206.3,203.8 L207.3,203.3 L208.3,202.9 L209.3,202.4 L210.3,201.9 L211.3,201.5 L212.3,201.0 L213.3,200.5 L214.3,200.0 L215.3,199.4 L216.3,198.8 L217.3,198.3 L218.3,197.7 L219.3,197.1 L220.3,196.6 L221.3,196.1 L222.3,195.7 L223.3,195.3 L224.3,194.9 L225.3,194.5 L226.3,194.2 L227.3,193.8 L228.3,193.4 L229.3,193.0 L230.3,192.6 L231.3,192.1 L232.3,191.5 L233.3,191.0 L234.3,190.4 L235.3,189.8 L236.3,189.3 L237.3,188.8 L238.3,188.3 L239.3,188.0 L240.3,187.7 L241.3,187.4 L242.3,187.2 L243.3,186.9 L244.3,186.7 L245.3,186.5 L246.3,186.3 L247.3,186.2 L248.3,186.1 L249.3,186.0 L250.3,185.9 L251.3,185.8 L252.3,185.7 L253.3,185.7 L254.3,185.6 L255.3,185.6 L256.3,185.5 L257.3,185.5 L258.3,185.5 L259.3,185.5 L260.3,185.5 L261.3,185.6 L262.3,185.6 L263.3,185.6 L264.3,185.7 L265.3,185.8 L266.3,185.9 L267.3,185.9 L268.3,186.0 L269.3,186.2 L270.3,186.4 L271.3,186.7 L272.3,187.0 L273.3,187.3 L274.3,187.7 L275.3,188.1 L276.3,188.5 L277.3,188.9 L278.3,189.3 L279.3,189.7 L280.3,190.2 L281.3,190.7 L282.3,191.2 L283.3,191.7 L284.3,192.2 L285.3,192.8 L286.3,193.3 L287.3,193.8 L288.3,194.3 L289.3,194.8 L290.3,195.3 L291.3,195.8 L292.3,196.3 L293.3,196.8 L294.3,197.3 L295.3,197.8 L296.3,198.3 L297.3,198.9 L298.3,199.4 L299.3,199.9 L300.3,200.4 L301.3,200.9 L302.3,201.4 L303.3,201.9 L304.3,202.4 L305.3,202.8 L306.3,203.3 L307.3,203.7 L308.3,204.1 L309.3,204.6 L310.3,205.0 L311.3,205.4 L312.3,205.8 L313.3,206.2 L314.3,206.5 L315.3,206.9 L316.3,207.2 L317.3,207.5 L318.3,207.8 L319.3,208.1 L320.3,208.4 L321.3,208.7 L322.3,209.0 L323.3,209.3 L324.3,209.5 L325.3,209.8 L326.3,210.1 L327.3,210.3 L328.3,210.6 L329.3,210.9 L330.3,211.1 L331.3,211.4 L332.3,211.6 L333.3,211.8 L334.3,212.0 L335.3,212.1 L336.3,212.3 L337.3,212.4 L338.3,212.6 L339.3,212.7 L340.3,212.8 L341.3,212.9 L342.3,213.0 L343.3,213.1 L344.3,213.2 L345.3,213.3 L346.3,213.4 L347.3,213.5 L348.3,213.6 L349.3,213.7 L350.3,213.7 L351.3,213.8 L352.3,213.8 L353.3,213.9 L354.3,213.9 L355.3,213.9 L356.3,213.9 L357.3,213.9 L358.3,213.9 L359.3,213.9 L360.3,213.9 L361.3,213.9 L362.3,213.9 L363.3,213.9 L364.3,213.9 L365.3,213.9 L366.3,213.9 L367.3,213.9 L368.3,213.9 L369.3,213.9 L370.3,213.9 L371.3,213.9 L372.3,213.9 L373.3,213.9 L374.3,213.9 L375.3,213.9 L376.3,213.9 L377.3,213.9 L378.3,213.9 L379.3,213.9 L380.3,213.9 L381.3,213.9 L382.3,213.9 L383.3,213.9 L384.3,213.9 L385.3,213.9 L386.3,213.9 L387.3,213.9 L388.3,213.9 L389.3,213.9 L390.3,213.9 L391.3,213.9 L392.3,213.9 L393.3,213.9 L394.3,213.9 L395.3,213.9 L396.3,213.9 L397.3,213.9 L398.3,213.9 L399.3,213.9 L400.3,213.9 L401.3,213.9 L402.3,213.9 L403.3,213.9 L404.2,213.9 L404.2,216.9 Z" fill="#1f77b4" fill-opacity="0.6"/>
<path d="M161.3,216.9 L161.3,209.4 L162.3,209.1 L163.3,208.8 L164.3,208.5 L165.3,208.1 L166.3,207.7 L167.3,207.3 L168.3,206.8 L169.3,206.4 L170.3,205.9 L171.3,205.4 L172.3,204.9 L173.3,204.4 L174.3,203.8 L175.3,203.3 L176.3,202.7 L177.3,202.0 L178.3,201.3 L179.3,200.6 L180.3,199.9 L181.3,199.1 L182.3,198.3 L183.3,197.6 L184.3,196.8 L185.3,195.9 L186.3,195.0 L187.3,194.1 L188.3,193.2 L189.3,192.2 L190.3,191.3 L191.3,190.4 L192.3,189.5 L193.3,188.7 L194.3,187.8 L195.3,187.0 L196.3,186.2 L197.3,185.3 L198.3,184.6 L199.3,183.8 L200.3,183.1 L201.3,182.4 L202.3,181.8 L203.3,181.2 L204.3,180.6 L205.3,179.9 L206.3,179.4 L207.3,178.8 L208.3,178.3 L209.3,177.9 L210.3,177.5 L211.3,177.2 L212.3,177.0 L213.3,176.9 L214.3,176.7 L215.3,176.6 L216.3,176.5 L217.3,176.4 L218.3,176.3 L219.3,176.2 L220.3,176.2 L221.3,176.2 L222.3,176.3 L223.3,176.5 L224.3,176.7 L225.3,176.9 L226.3,177.2 L227.3,177.5 L228.3,177.8 L229.3,178.2 L230.3,178.5 L231.3,178.9 L232.3,179.4 L233.3,179.9 L234.3,180.5 L235.3,181.2 L236.3,181.9 L237.3,182.6 L238.3,183.3 L239.3,184.0 L240.3,184.7 L241.3,185.4 L242.3,186.2 L243.3,187.0 L244.3,187.8 L245.3,188.6 L246.3,189.4 L247.3,190.3 L248.3,191.1 L249.3,192.0 L250.3,192.9 L251.3,193.8 L252.3,194.7 L253.3,195.7 L254.3,196.6 L255.3,197.5 L256.3,198.4 L257.3,199.3 L258.3,200.1 L259.3,200.9 L260.3,201.7 L261.3,202.5 L262.3,203.2 L263.3,204.0 L264.3,204.7 L265.3,205.3 L266.3,206.0 L267.3,206.5 L268.3,207.1 L269.3,207.5 L270.3,208.0 L271.3,208.5 L272.3,208.9 L273.3,209.3 L274.3,209.7 L275.3,210.0 L276.3,210.4 L277.3,210.7 L278.3,211.0 L279.3,211.3 L280.3,211.6 L281.3,211.8 L282.3,212.1 L283.3,212.3 L284.3,212.5 L285.3,212.7 L286.3,212.9 L287.3,213.1 L288.3,213.2 L289.3,213.3 L290.3,213.4 L291.3,213.6 L292.3,213.7 L293.3,213.7 L294.3,213.8 L295.3,213.9 L296.3,213.9 L297.3,213.9 L298.3,213.9 L299.3,213.9 L300.3,213.9 L301.3,213.9 L302.3,213.9 L303.3,213.9 L304.3,213.9 L305.3,213.9 L306.3,213.9 L307.3,213.9 L308.3,213.9 L309.3,213.9 L310.3,213.9 L311.3,213.9 L312.3,213.9 L313.3,213.9 L314.3,213.9 L315.3,213.9 L316.3,213.9 L317.3,213.9 L318.3,213.9 L319.3,213.9 L320.3,213.9 L321.3,213.9 L322.3,213.9 L323.3,213.9 L324.3,213.9 L325.3,213.9 L326.3,213.9 L327.3,213.9 L328.3,213.9 L329.3,213.9 L330.3,213.9 L331.3,213.9 L332.3,213.9 L333.3,213.9 L334.3,213.9 L335.3,213.9 L336.3,213.9 L337.3,213.9 L338.3,213.9 L339.3,213.9 L340.3,213.9 L341.3,213.9 L342.3,213.9 L343.3,213.9 L344.3,213.9 L345.3,213.9 L346.3,213.9 L347.3,213.9 L348.3,213.9 L349.3,213.9 L350.3,213.9 L351.3,213.9 L352.3,213.9 L353.3,213.9 L354.3,213.9 L355.3,213.9 L356.3,213.9 L357.3,213.9 L358.3,213.9 L359.3,213.9 L360.3,213.9 L361.3,213.9 L362.3,213.9 L363.3,213.9 L364.3,213.9 L365.3,213.9 L366.3,213.9 L367.3,213.9 L368.3,213.9 L369.3,213.9 L370.3,213.9 L371.3,213.9 L372.3,213.9 L373.3,213.9 L374.3,213.9 L375.3,213.9 L376.3,213.9 L377.3,213.9 L378.3,213.9 L379.3,213.9 L380.3,213.9 L381.3,213.9 L382.3,213.9 L383.3,213.9 L384.3,213.9 L385.3,213.9 L386.3,213.9 L387.3,213.9 L388.3,213.9 L389.3,213.9 L390.3,213.9 L391.3,213.9 L392.3,213.9 L393.3,213.9 L394.3,213.9 L395.3,213.9 L396.3,213.9 L397.3,213.9 L398.3,213.9 L399.3,213.9 L400.3,213.9 L401.3,213.9 L402.3,213.9 L403.3,213.9 L404.2,213.9 L404.2,216.9 Z" fill="#ff7f0e" fill-opacity="0.6"/>
<rect x="218.90" y="196.72" width="2" height="8.7" fill="#000"/>
<rect x="218.90" y="209.32" width="2" height="8.50" fill="#000"/>
<rect x="257.40" y="196.72" width="2" height="8.7" fill="#000"/>
<rect x="257.40" y="209.32" width="2" height="8.50" fill="#000"/>
<path d="M160.30,218.12 H405.00 M161.30,218.12 V224.12 M209.40,218.12 V224.12 M258.40,218.12 V224.12 M306.60,218.12 V224.12 M355.90,218.12 V224.12" stroke="#b0b0b0" stroke-width="2.6" fill="none"/>
<path d="M160.30,218.12 H405.00 M161.30,218.12 V224.12 M209.40,218.12 V224.12 M258.40,218.12 V224.12 M306.60,218.12 V224.12 M355.90,218.12 V224.12" stroke="#000" stroke-width="1.2" fill="none"/>
<path d="M379.00,177.30 L379.00,187.70 M374.50,179.90 L383.50,185.10 M383.50,179.90 L374.50,185.10" stroke="#d0d0d0" stroke-width="2.6" fill="none"/>
<path d="M379.00,177.30 L379.00,187.70 M374.50,179.90 L383.50,185.10 M383.50,179.90 L374.50,185.10" stroke="#000" stroke-width="0.9" fill="none"/>
<path d="M424.3,216.9 L424.3,212.6 L425.3,212.4 L426.3,212.2 L427.3,212.0 L428.3,211.7 L429.3,211.4 L430.3,211.1 L431.3,210.8 L432.3,210.5 L433.3,210.1 L434.3,209.8 L435.3,209.4 L436.3,209.1 L437.3,208.7 L438.3,208.3 L439.3,207.8 L440.3,207.4 L441.3,206.9 L442.3,206.4 L443.3,205.8 L444.3,205.3 L445.3,204.7 L446.3,204.1 L447.3,203.5 L448.3,202.9 L449.3,202.2 L450.3,201.5 L451.3,200.8 L452.3,200.1 L453.3,199.4 L454.3,198.6 L455.3,197.9 L456.3,197.2 L457.3,196.4 L458.3,195.6 L459.3,194.8 L460.3,194.0 L461.3,193.3 L462.3,192.5 L463.3,191.8 L464.3,191.1 L465.3,190.5 L466.3,189.9 L467.3,189.3 L468.3,188.7 L469.3,188.2 L470.3,187.6 L471.3,187.1 L472.3,186.7 L473.3,186.4 L474.3,186.1 L475.3,185.9 L476.3,185.8 L477.3,185.7 L478.3,185.7 L479.3,185.6 L480.3,185.5 L481.3,185.3 L482.3,185.1 L483.3,184.9 L484.3,184.6 L485.3,184.4 L486.3,184.2 L487.3,184.0 L488.3,183.8 L489.3,183.6 L490.3,183.5 L491.3,183.4 L492.3,183.3 L493.3,183.2 L494.3,183.1 L495.3,183.0 L496.3,182.9 L497.3,182.8 L498.3,182.8 L499.3,182.8 L500.3,182.9 L501.3,183.0 L502.3,183.1 L503.3,183.3 L504.3,183.6 L505.3,183.8 L506.3,184.1 L507.3,184.4 L508.3,184.6 L509.3,184.9 L510.3,185.2 L511.3,185.6 L512.3,186.0 L513.3,186.4 L514.3,186.8 L515.3,187.3 L516.3,187.7 L517.3,188.2 L518.3,188.6 L519.3,189.1 L520.3,189.6 L521.3,190.2 L522.3,190.7 L523.3,191.3 L524.3,191.8 L525.3,192.4 L526.3,193.0 L527.3,193.5 L528.3,194.1 L529.3,194.7 L530.3,195.3 L531.3,195.9 L532.3,196.5 L533.3,197.2 L534.3,197.8 L535.3,198.4 L536.3,199.0 L537.3,199.5 L538.3,200.1 L539.3,200.6 L540.3,201.2 L541.3,201.7 L542.3,202.3 L543.3,202.8 L544.3,203.3 L545.3,203.8 L546.3,204.4 L547.3,204.8 L548.3,205.4 L549.3,205.9 L550.3,206.3 L551.3,206.8 L552.3,207.3 L553.3,207.8 L554.3,208.2 L555.3,208.6 L556.3,208.9 L557.3,209.3 L558.3,209.6 L559.3,209.9 L560.3,210.2 L561.3,210.5 L562.3,210.8 L563.3,211.1 L564.3,211.3 L565.3,211.6 L566.3,211.8 L567.3,212.1 L568.3,212.3 L569.3,212.5 L570.3,212.7 L571.3,212.9 L572.3,213.1 L573.3,213.3 L574.3,213.4 L575.3,213.5 L576.3,213.7 L577.3,213.8 L578.3,213.9 L579.3,214.0 L580.3,214.1 L581.3,214.1 L582.3,214.2 L583.3,214.3 L584.3,214.3 L585.3,214.3 L586.3,214.3 L587.3,214.3 L588.3,214.3 L589.3,214.3 L590.3,214.3 L591.3,214.3 L592.3,214.3 L593.3,214.3 L594.3,214.3 L595.3,214.3 L596.3,214.3 L597.3,214.3 L598.3,214.3 L599.3,214.3 L600.3,214.3 L601.3,214.3 L602.3,214.3 L603.3,214.3 L604.3,214.3 L605.3,214.3 L606.3,214.3 L607.3,214.3 L608.3,214.3 L609.3,214.3 L610.3,214.3 L611.3,214.3 L612.3,214.3 L613.3,214.3 L614.3,214.3 L615.3,214.3 L616.3,214.3 L617.3,214.3 L618.3,214.3 L619.3,214.3 L620.3,214.3 L621.3,214.3 L622.3,214.3 L623.3,214.3 L624.3,214.3 L625.3,214.3 L626.3,214.3 L627.3,214.3 L628.3,214.3 L629.3,214.3 L630.3,214.3 L631.3,214.3 L632.3,214.3 L633.3,214.3 L634.3,214.3 L635.3,214.3 L636.3,214.3 L637.3,214.3 L638.3,214.3 L639.3,214.3 L640.3,214.3 L641.3,214.3 L642.3,214.3 L643.3,214.3 L644.3,214.3 L645.3,214.3 L646.3,214.3 L647.3,214.3 L648.3,214.3 L649.3,214.3 L650.3,214.3 L651.3,214.3 L652.3,214.3 L653.3,214.3 L654.3,214.3 L655.3,214.3 L656.3,214.3 L657.3,214.3 L658.3,214.3 L659.3,214.3 L660.3,214.3 L661.3,214.3 L662.3,214.3 L663.3,214.3 L664.3,214.3 L665.3,214.3 L666.3,214.3 L667.2,214.3 L667.2,216.9 Z" fill="#fff" stroke="#f4f4f4" stroke-width="1.1" stroke-linejoin="round"/>
<path d="M424.3,216.9 L424.3,208.8 L425.3,208.4 L426.3,208.0 L427.3,207.6 L428.3,207.2 L429.3,206.8 L430.3,206.4 L431.3,205.9 L432.3,205.4 L433.3,205.0 L434.3,204.5 L435.3,204.0 L436.3,203.5 L437.3,202.9 L438.3,202.4 L439.3,201.9 L440.3,201.3 L441.3,200.7 L442.3,200.1 L443.3,199.5 L444.3,198.9 L445.3,198.2 L446.3,197.5 L447.3,196.8 L448.3,196.1 L449.3,195.3 L450.3,194.5 L451.3,193.7 L452.3,192.9 L453.3,192.0 L454.3,191.2 L455.3,190.4 L456.3,189.6 L457.3,188.7 L458.3,187.9 L459.3,187.0 L460.3,186.1 L461.3,185.3 L462.3,184.4 L463.3,183.7 L464.3,182.9 L465.3,182.3 L466.3,181.6 L467.3,181.0 L468.3,180.4 L469.3,179.8 L470.3,179.3 L471.3,178.8 L472.3,178.3 L473.3,178.0 L474.3,177.6 L475.3,177.4 L476.3,177.2 L477.3,177.0 L478.3,176.8 L479.3,176.6 L480.3,176.5 L481.3,176.4 L482.3,176.3 L483.3,176.2 L484.3,176.2 L485.3,176.2 L486.3,176.3 L487.3,176.3 L488.3,176.5 L489.3,176.6 L490.3,176.8 L491.3,176.9 L492.3,177.1 L493.3,177.4 L494.3,177.6 L495.3,178.0 L496.3,178.6 L497.3,179.2 L498.3,179.9 L499.3,180.5 L500.3,181.1 L501.3,181.8 L502.3,182.5 L503.3,183.1 L504.3,183.9 L505.3,184.6 L506.3,185.3 L507.3,186.1 L508.3,186.8 L509.3,187.6 L510.3,188.4 L511.3,189.2 L512.3,190.0 L513.3,190.9 L514.3,191.7 L515.3,192.5 L516.3,193.3 L517.3,194.1 L518.3,194.8 L519.3,195.6 L520.3,196.3 L521.3,197.1 L522.3,197.8 L523.3,198.5 L524.3,199.2 L525.3,199.9 L526.3,200.5 L527.3,201.1 L528.3,201.7 L529.3,202.3 L530.3,202.8 L531.3,203.3 L532.3,203.9 L533.3,204.3 L534.3,204.8 L535.3,205.3 L536.3,205.7 L537.3,206.2 L538.3,206.6 L539.3,207.0 L540.3,207.5 L541.3,207.9 L542.3,208.3 L543.3,208.7 L544.3,209.0 L545.3,209.4 L546.3,209.7 L547.3,210.0 L548.3,210.2 L549.3,210.5 L550.3,210.8 L551.3,211.0 L552.3,211.2 L553.3,211.5 L554.3,211.7 L555.3,211.9 L556.3,212.1 L557.3,212.3 L558.3,212.4 L559.3,212.6 L560.3,212.8 L561.3,212.9 L562.3,213.1 L563.3,213.2 L564.3,213.4 L565.3,213.5 L566.3,213.6 L567.3,213.7 L568.3,213.8 L569.3,213.9 L570.3,214.0 L571.3,214.1 L572.3,214.1 L573.3,214.2 L574.3,214.3 L575.3,214.3 L576.3,214.3 L577.3,214.3 L578.3,214.3 L579.3,214.3 L580.3,214.3 L581.3,214.3 L582.3,214.3 L583.3,214.3 L584.3,214.3 L585.3,214.3 L586.3,214.3 L587.3,214.3 L588.3,214.3 L589.3,214.3 L590.3,214.3 L591.3,214.3 L592.3,214.3 L593.3,214.3 L594.3,214.3 L595.3,214.3 L596.3,214.3 L597.3,214.3 L598.3,214.3 L599.3,214.3 L600.3,214.3 L601.3,214.3 L602.3,214.3 L603.3,214.3 L604.3,214.3 L605.3,214.3 L606.3,214.3 L607.3,214.3 L608.3,214.3 L609.3,214.3 L610.3,214.3 L611.3,214.3 L612.3,214.3 L613.3,214.3 L614.3,214.3 L615.3,214.3 L616.3,214.3 L617.3,214.3 L618.3,214.3 L619.3,214.3 L620.3,214.3 L621.3,214.3 L622.3,214.3 L623.3,214.3 L624.3,214.3 L625.3,214.3 L626.3,214.3 L627.3,214.3 L628.3,214.3 L629.3,214.3 L630.3,214.3 L631.3,214.3 L632.3,214.3 L633.3,214.3 L634.3,214.3 L635.3,214.3 L636.3,214.3 L637.3,214.3 L638.3,214.3 L639.3,214.3 L640.3,214.3 L641.3,214.3 L642.3,214.3 L643.3,214.3 L644.3,214.3 L645.3,214.3 L646.3,214.3 L647.3,214.3 L648.3,214.3 L649.3,214.3 L650.3,214.3 L651.3,214.3 L652.3,214.3 L653.3,214.3 L654.3,214.3 L655.3,214.3 L656.3,214.3 L657.3,214.3 L658.3,214.3 L659.3,214.3 L660.3,214.3 L661.3,214.3 L662.3,214.3 L663.3,214.3 L664.3,214.3 L665.3,214.3 L666.3,214.3 L667.2,214.3 L667.2,216.9 Z" fill="#fff" stroke="#f4f4f4" stroke-width="1.1" stroke-linejoin="round"/>
<path d="M424.3,216.9 L424.3,212.6 L425.3,212.4 L426.3,212.2 L427.3,212.0 L428.3,211.7 L429.3,211.4 L430.3,211.1 L431.3,210.8 L432.3,210.5 L433.3,210.1 L434.3,209.8 L435.3,209.4 L436.3,209.1 L437.3,208.7 L438.3,208.3 L439.3,207.8 L440.3,207.4 L441.3,206.9 L442.3,206.4 L443.3,205.8 L444.3,205.3 L445.3,204.7 L446.3,204.1 L447.3,203.5 L448.3,202.9 L449.3,202.2 L450.3,201.5 L451.3,200.8 L452.3,200.1 L453.3,199.4 L454.3,198.6 L455.3,197.9 L456.3,197.2 L457.3,196.4 L458.3,195.6 L459.3,194.8 L460.3,194.0 L461.3,193.3 L462.3,192.5 L463.3,191.8 L464.3,191.1 L465.3,190.5 L466.3,189.9 L467.3,189.3 L468.3,188.7 L469.3,188.2 L470.3,187.6 L471.3,187.1 L472.3,186.7 L473.3,186.4 L474.3,186.1 L475.3,185.9 L476.3,185.8 L477.3,185.7 L478.3,185.7 L479.3,185.6 L480.3,185.5 L481.3,185.3 L482.3,185.1 L483.3,184.9 L484.3,184.6 L485.3,184.4 L486.3,184.2 L487.3,184.0 L488.3,183.8 L489.3,183.6 L490.3,183.5 L491.3,183.4 L492.3,183.3 L493.3,183.2 L494.3,183.1 L495.3,183.0 L496.3,182.9 L497.3,182.8 L498.3,182.8 L499.3,182.8 L500.3,182.9 L501.3,183.0 L502.3,183.1 L503.3,183.3 L504.3,183.6 L505.3,183.8 L506.3,184.1 L507.3,184.4 L508.3,184.6 L509.3,184.9 L510.3,185.2 L511.3,185.6 L512.3,186.0 L513.3,186.4 L514.3,186.8 L515.3,187.3 L516.3,187.7 L517.3,188.2 L518.3,188.6 L519.3,189.1 L520.3,189.6 L521.3,190.2 L522.3,190.7 L523.3,191.3 L524.3,191.8 L525.3,192.4 L526.3,193.0 L527.3,193.5 L528.3,194.1 L529.3,194.7 L530.3,195.3 L531.3,195.9 L532.3,196.5 L533.3,197.2 L534.3,197.8 L535.3,198.4 L536.3,199.0 L537.3,199.5 L538.3,200.1 L539.3,200.6 L540.3,201.2 L541.3,201.7 L542.3,202.3 L543.3,202.8 L544.3,203.3 L545.3,203.8 L546.3,204.4 L547.3,204.8 L548.3,205.4 L549.3,205.9 L550.3,206.3 L551.3,206.8 L552.3,207.3 L553.3,207.8 L554.3,208.2 L555.3,208.6 L556.3,208.9 L557.3,209.3 L558.3,209.6 L559.3,209.9 L560.3,210.2 L561.3,210.5 L562.3,210.8 L563.3,211.1 L564.3,211.3 L565.3,211.6 L566.3,211.8 L567.3,212.1 L568.3,212.3 L569.3,212.5 L570.3,212.7 L571.3,212.9 L572.3,213.1 L573.3,213.3 L574.3,213.4 L575.3,213.5 L576.3,213.7 L577.3,213.8 L578.3,213.9 L579.3,214.0 L580.3,214.1 L581.3,214.1 L582.3,214.2 L583.3,214.3 L584.3,214.3 L585.3,214.3 L586.3,214.3 L587.3,214.3 L588.3,214.3 L589.3,214.3 L590.3,214.3 L591.3,214.3 L592.3,214.3 L593.3,214.3 L594.3,214.3 L595.3,214.3 L596.3,214.3 L597.3,214.3 L598.3,214.3 L599.3,214.3 L600.3,214.3 L601.3,214.3 L602.3,214.3 L603.3,214.3 L604.3,214.3 L605.3,214.3 L606.3,214.3 L607.3,214.3 L608.3,214.3 L609.3,214.3 L610.3,214.3 L611.3,214.3 L612.3,214.3 L613.3,214.3 L614.3,214.3 L615.3,214.3 L616.3,214.3 L617.3,214.3 L618.3,214.3 L619.3,214.3 L620.3,214.3 L621.3,214.3 L622.3,214.3 L623.3,214.3 L624.3,214.3 L625.3,214.3 L626.3,214.3 L627.3,214.3 L628.3,214.3 L629.3,214.3 L630.3,214.3 L631.3,214.3 L632.3,214.3 L633.3,214.3 L634.3,214.3 L635.3,214.3 L636.3,214.3 L637.3,214.3 L638.3,214.3 L639.3,214.3 L640.3,214.3 L641.3,214.3 L642.3,214.3 L643.3,214.3 L644.3,214.3 L645.3,214.3 L646.3,214.3 L647.3,214.3 L648.3,214.3 L649.3,214.3 L650.3,214.3 L651.3,214.3 L652.3,214.3 L653.3,214.3 L654.3,214.3 L655.3,214.3 L656.3,214.3 L657.3,214.3 L658.3,214.3 L659.3,214.3 L660.3,214.3 L661.3,214.3 L662.3,214.3 L663.3,214.3 L664.3,214.3 L665.3,214.3 L666.3,214.3 L667.2,214.3 L667.2,216.9 Z" fill="#1f77b4" fill-opacity="0.6"/>
<path d="M424.3,216.9 L424.3,208.8 L425.3,208.4 L426.3,208.0 L427.3,207.6 L428.3,207.2 L429.3,206.8 L430.3,206.4 L431.3,205.9 L432.3,205.4 L433.3,205.0 L434.3,204.5 L435.3,204.0 L436.3,203.5 L437.3,202.9 L438.3,202.4 L439.3,201.9 L440.3,201.3 L441.3,200.7 L442.3,200.1 L443.3,199.5 L444.3,198.9 L445.3,198.2 L446.3,197.5 L447.3,196.8 L448.3,196.1 L449.3,195.3 L450.3,194.5 L451.3,193.7 L452.3,192.9 L453.3,192.0 L454.3,191.2 L455.3,190.4 L456.3,189.6 L457.3,188.7 L458.3,187.9 L459.3,187.0 L460.3,186.1 L461.3,185.3 L462.3,184.4 L463.3,183.7 L464.3,182.9 L465.3,182.3 L466.3,181.6 L467.3,181.0 L468.3,180.4 L469.3,179.8 L470.3,179.3 L471.3,178.8 L472.3,178.3 L473.3,178.0 L474.3,177.6 L475.3,177.4 L476.3,177.2 L477.3,177.0 L478.3,176.8 L479.3,176.6 L480.3,176.5 L481.3,176.4 L482.3,176.3 L483.3,176.2 L484.3,176.2 L485.3,176.2 L486.3,176.3 L487.3,176.3 L488.3,176.5 L489.3,176.6 L490.3,176.8 L491.3,176.9 L492.3,177.1 L493.3,177.4 L494.3,177.6 L495.3,178.0 L496.3,178.6 L497.3,179.2 L498.3,179.9 L499.3,180.5 L500.3,181.1 L501.3,181.8 L502.3,182.5 L503.3,183.1 L504.3,183.9 L505.3,184.6 L506.3,185.3 L507.3,186.1 L508.3,186.8 L509.3,187.6 L510.3,188.4 L511.3,189.2 L512.3,190.0 L513.3,190.9 L514.3,191.7 L515.3,192.5 L516.3,193.3 L517.3,194.1 L518.3,194.8 L519.3,195.6 L520.3,196.3 L521.3,197.1 L522.3,197.8 L523.3,198.5 L524.3,199.2 L525.3,199.9 L526.3,200.5 L527.3,201.1 L528.3,201.7 L529.3,202.3 L530.3,202.8 L531.3,203.3 L532.3,203.9 L533.3,204.3 L534.3,204.8 L535.3,205.3 L536.3,205.7 L537.3,206.2 L538.3,206.6 L539.3,207.0 L540.3,207.5 L541.3,207.9 L542.3,208.3 L543.3,208.7 L544.3,209.0 L545.3,209.4 L546.3,209.7 L547.3,210.0 L548.3,210.2 L549.3,210.5 L550.3,210.8 L551.3,211.0 L552.3,211.2 L553.3,211.5 L554.3,211.7 L555.3,211.9 L556.3,212.1 L557.3,212.3 L558.3,212.4 L559.3,212.6 L560.3,212.8 L561.3,212.9 L562.3,213.1 L563.3,213.2 L564.3,213.4 L565.3,213.5 L566.3,213.6 L567.3,213.7 L568.3,213.8 L569.3,213.9 L570.3,214.0 L571.3,214.1 L572.3,214.1 L573.3,214.2 L574.3,214.3 L575.3,214.3 L576.3,214.3 L577.3,214.3 L578.3,214.3 L579.3,214.3 L580.3,214.3 L581.3,214.3 L582.3,214.3 L583.3,214.3 L584.3,214.3 L585.3,214.3 L586.3,214.3 L587.3,214.3 L588.3,214.3 L589.3,214.3 L590.3,214.3 L591.3,214.3 L592.3,214.3 L593.3,214.3 L594.3,214.3 L595.3,214.3 L596.3,214.3 L597.3,214.3 L598.3,214.3 L599.3,214.3 L600.3,214.3 L601.3,214.3 L602.3,214.3 L603.3,214.3 L604.3,214.3 L605.3,214.3 L606.3,214.3 L607.3,214.3 L608.3,214.3 L609.3,214.3 L610.3,214.3 L611.3,214.3 L612.3,214.3 L613.3,214.3 L614.3,214.3 L615.3,214.3 L616.3,214.3 L617.3,214.3 L618.3,214.3 L619.3,214.3 L620.3,214.3 L621.3,214.3 L622.3,214.3 L623.3,214.3 L624.3,214.3 L625.3,214.3 L626.3,214.3 L627.3,214.3 L628.3,214.3 L629.3,214.3 L630.3,214.3 L631.3,214.3 L632.3,214.3 L633.3,214.3 L634.3,214.3 L635.3,214.3 L636.3,214.3 L637.3,214.3 L638.3,214.3 L639.3,214.3 L640.3,214.3 L641.3,214.3 L642.3,214.3 L643.3,214.3 L644.3,214.3 L645.3,214.3 L646.3,214.3 L647.3,214.3 L648.3,214.3 L649.3,214.3 L650.3,214.3 L651.3,214.3 L652.3,214.3 L653.3,214.3 L654.3,214.3 L655.3,214.3 L656.3,214.3 L657.3,214.3 L658.3,214.3 L659.3,214.3 L660.3,214.3 L661.3,214.3 L662.3,214.3 L663.3,214.3 L664.3,214.3 L665.3,214.3 L666.3,214.3 L667.2,214.3 L667.2,216.9 Z" fill="#ff7f0e" fill-opacity="0.6"/>
<rect x="482.50" y="196.72" width="2" height="8.7" fill="#000"/>
<rect x="482.50" y="209.32" width="2" height="8.50" fill="#000"/>
<rect x="495.20" y="196.72" width="2" height="8.7" fill="#000"/>
<rect x="495.20" y="209.32" width="2" height="8.50" fill="#000"/>
<path d="M423.30,218.12 H668.00 M441.50,218.12 V224.12 M472.60,218.12 V224.12 M522.40,218.12 V224.12 M569.60,218.12 V224.12 M617.20,218.12 V224.12" stroke="#b0b0b0" stroke-width="2.6" fill="none"/>
<path d="M423.30,218.12 H668.00 M441.50,218.12 V224.12 M472.60,218.12 V224.12 M522.40,218.12 V224.12 M569.60,218.12 V224.12 M617.20,218.12 V224.12" stroke="#000" stroke-width="1.2" fill="none"/>
<path d="M642.20,180.30 L642.20,190.70 M637.70,182.90 L646.70,188.10 M646.70,182.90 L637.70,188.10" stroke="#d0d0d0" stroke-width="2.6" fill="none"/>
<path d="M642.20,180.30 L642.20,190.70 M637.70,182.90 L646.70,188.10 M646.70,182.90 L637.70,188.10" stroke="#000" stroke-width="0.9" fill="none"/>
<path d="M161.3,268.2 L161.3,265.6 L162.3,265.6 L163.3,265.6 L164.3,265.6 L165.3,265.6 L166.3,265.6 L167.3,265.6 L168.3,265.6 L169.3,265.6 L170.3,265.6 L171.3,265.6 L172.3,265.6 L173.3,265.6 L174.3,265.5 L175.3,265.4 L176.3,265.2 L177.3,265.1 L178.3,265.0 L179.3,264.8 L180.3,264.6 L181.3,264.4 L182.3,264.3 L183.3,264.1 L184.3,263.9 L185.3,263.6 L186.3,263.4 L187.3,263.2 L188.3,262.9 L189.3,262.7 L190.3,262.4 L191.3,262.2 L192.3,261.9 L193.3,261.6 L194.3,261.3 L195.3,261.0 L196.3,260.6 L197.3,260.2 L198.3,259.8 L199.3,259.4 L200.3,258.9 L201.3,258.5 L202.3,258.0 L203.3,257.4 L204.3,256.8 L205.3,256.2 L206.3,255.5 L207.3,254.8 L208.3,254.0 L209.3,253.3 L210.3,252.5 L211.3,251.8 L212.3,251.0 L213.3,250.2 L214.3,249.4 L215.3,248.5 L216.3,247.6 L217.3,246.8 L218.3,245.9 L219.3,245.0 L220.3,244.2 L221.3,243.4 L222.3,242.6 L223.3,241.8 L224.3,241.1 L225.3,240.4 L226.3,239.6 L227.3,238.9 L228.3,238.2 L229.3,237.5 L230.3,236.8 L231.3,236.0 L232.3,235.3 L233.3,234.5 L234.3,233.7 L235.3,232.9 L236.3,232.2 L237.3,231.6 L238.3,231.0 L239.3,230.5 L240.3,230.1 L241.3,229.6 L242.3,229.2 L243.3,228.8 L244.3,228.4 L245.3,228.1 L246.3,227.8 L247.3,227.6 L248.3,227.5 L249.3,227.5 L250.3,227.5 L251.3,227.5 L252.3,227.5 L253.3,227.5 L254.3,227.5 L255.3,227.5 L256.3,227.5 L257.3,227.5 L258.3,227.5 L259.3,227.5 L260.3,227.7 L261.3,227.9 L262.3,228.2 L263.3,228.6 L264.3,229.1 L265.3,229.5 L266.3,230.0 L267.3,230.5 L268.3,230.9 L269.3,231.4 L270.3,232.0 L271.3,232.6 L272.3,233.3 L273.3,234.0 L274.3,234.7 L275.3,235.4 L276.3,236.2 L277.3,236.9 L278.3,237.7 L279.3,238.6 L280.3,239.5 L281.3,240.4 L282.3,241.3 L283.3,242.3 L284.3,243.2 L285.3,244.2 L286.3,245.1 L287.3,245.9 L288.3,246.8 L289.3,247.6 L290.3,248.5 L291.3,249.3 L292.3,250.1 L293.3,250.9 L294.3,251.7 L295.3,252.4 L296.3,253.1 L297.3,253.8 L298.3,254.5 L299.3,255.1 L300.3,255.7 L301.3,256.4 L302.3,256.9 L303.3,257.5 L304.3,258.0 L305.3,258.5 L306.3,259.0 L307.3,259.4 L308.3,259.8 L309.3,260.3 L310.3,260.6 L311.3,261.0 L312.3,261.4 L313.3,261.7 L314.3,262.0 L315.3,262.3 L316.3,262.5 L317.3,262.8 L318.3,263.0 L319.3,263.2 L320.3,263.4 L321.3,263.6 L322.3,263.8 L323.3,264.0 L324.3,264.1 L325.3,264.3 L326.3,264.4 L327.3,264.5 L328.3,264.6 L329.3,264.7 L330.3,264.8 L331.3,264.9 L332.3,265.0 L333.3,265.0 L334.3,265.1 L335.3,265.2 L336.3,265.2 L337.3,265.3 L338.3,265.3 L339.3,265.4 L340.3,265.4 L341.3,265.5 L342.3,265.5 L343.3,265.6 L344.3,265.6 L345.3,265.6 L346.3,265.6 L347.3,265.6 L348.3,265.6 L349.3,265.6 L350.3,265.6 L351.3,265.6 L352.3,265.6 L353.3,265.6 L354.3,265.6 L355.3,265.6 L356.3,265.6 L357.3,265.6 L358.3,265.6 L359.3,265.6 L360.3,265.6 L361.3,265.6 L362.3,265.6 L363.3,265.6 L364.3,265.6 L365.3,265.6 L366.3,265.6 L367.3,265.6 L368.3,265.6 L369.3,265.6 L370.3,265.6 L371.3,265.6 L372.3,265.6 L373.3,265.6 L374.3,265.6 L375.3,265.6 L376.3,265.6 L377.3,265.6 L378.3,265.6 L379.3,265.6 L380.3,265.6 L381.3,265.6 L382.3,265.6 L383.3,265.6 L384.3,265.6 L385.3,265.6 L386.3,265.6 L387.3,265.6 L388.3,265.6 L389.3,265.6 L390.3,265.6 L391.3,265.6 L392.3,265.6 L393.3,265.6 L394.3,265.6 L395.3,265.6 L396.3,265.6 L397.3,265.6 L398.3,265.6 L399.3,265.6 L400.3,265.6 L401.3,265.6 L402.3,265.6 L403.3,265.6 L404.2,265.6 L404.2,268.2 Z" fill="#fff" stroke="#f4f4f4" stroke-width="1.1" stroke-linejoin="round"/>
<path d="M161.3,268.2 L161.3,257.9 L162.3,257.5 L163.3,257.0 L164.3,256.6 L165.3,256.1 L166.3,255.6 L167.3,255.1 L168.3,254.6 L169.3,254.0 L170.3,253.5 L171.3,252.9 L172.3,252.3 L173.3,251.7 L174.3,251.1 L175.3,250.5 L176.3,249.8 L177.3,249.1 L178.3,248.4 L179.3,247.7 L180.3,247.0 L181.3,246.2 L182.3,245.5 L183.3,244.7 L184.3,244.0 L185.3,243.3 L186.3,242.5 L187.3,241.8 L188.3,241.0 L189.3,240.2 L190.3,239.5 L191.3,238.8 L192.3,238.1 L193.3,237.4 L194.3,236.7 L195.3,236.0 L196.3,235.4 L197.3,234.7 L198.3,234.1 L199.3,233.5 L200.3,232.9 L201.3,232.4 L202.3,231.9 L203.3,231.5 L204.3,231.1 L205.3,230.7 L206.3,230.2 L207.3,229.9 L208.3,229.5 L209.3,229.2 L210.3,229.0 L211.3,228.9 L212.3,228.9 L213.3,228.9 L214.3,228.9 L215.3,228.9 L216.3,228.9 L217.3,228.9 L218.3,228.9 L219.3,228.9 L220.3,229.0 L221.3,229.2 L222.3,229.5 L223.3,229.9 L224.3,230.4 L225.3,230.9 L226.3,231.5 L227.3,232.0 L228.3,232.6 L229.3,233.3 L230.3,234.0 L231.3,234.6 L232.3,235.3 L233.3,235.9 L234.3,236.5 L235.3,237.2 L236.3,237.8 L237.3,238.5 L238.3,239.1 L239.3,239.8 L240.3,240.4 L241.3,241.1 L242.3,241.8 L243.3,242.5 L244.3,243.2 L245.3,243.9 L246.3,244.6 L247.3,245.3 L248.3,246.0 L249.3,246.7 L250.3,247.4 L251.3,248.1 L252.3,248.9 L253.3,249.6 L254.3,250.3 L255.3,251.1 L256.3,251.8 L257.3,252.4 L258.3,253.1 L259.3,253.7 L260.3,254.3 L261.3,254.9 L262.3,255.5 L263.3,256.1 L264.3,256.6 L265.3,257.2 L266.3,257.7 L267.3,258.2 L268.3,258.6 L269.3,259.1 L270.3,259.6 L271.3,260.0 L272.3,260.5 L273.3,260.9 L274.3,261.3 L275.3,261.6 L276.3,262.0 L277.3,262.3 L278.3,262.5 L279.3,262.8 L280.3,263.0 L281.3,263.2 L282.3,263.4 L283.3,263.6 L284.3,263.8 L285.3,264.0 L286.3,264.1 L287.3,264.3 L288.3,264.4 L289.3,264.5 L290.3,264.6 L291.3,264.7 L292.3,264.8 L293.3,264.9 L294.3,265.0 L295.3,265.0 L296.3,265.1 L297.3,265.1 L298.3,265.1 L299.3,265.1 L300.3,265.1 L301.3,265.1 L302.3,265.1 L303.3,265.1 L304.3,265.1 L305.3,265.1 L306.3,265.1 L307.3,265.1 L308.3,265.1 L309.3,265.1 L310.3,265.1 L311.3,265.1 L312.3,265.1 L313.3,265.1 L314.3,265.1 L315.3,265.1 L316.3,265.1 L317.3,265.1 L318.3,265.1 L319.3,265.1 L320.3,265.1 L321.3,265.1 L322.3,265.1 L323.3,265.1 L324.3,265.1 L325.3,265.1 L326.3,265.1 L327.3,265.1 L328.3,265.1 L329.3,265.1 L330.3,265.1 L331.3,265.1 L332.3,265.1 L333.3,265.1 L334.3,265.1 L335.3,265.1 L336.3,265.1 L337.3,265.1 L338.3,265.1 L339.3,265.1 L340.3,265.1 L341.3,265.1 L342.3,265.1 L343.3,265.1 L344.3,265.1 L345.3,265.1 L346.3,265.1 L347.3,265.1 L348.3,265.1 L349.3,265.1 L350.3,265.1 L351.3,265.1 L352.3,265.1 L353.3,265.1 L354.3,265.1 L355.3,265.1 L356.3,265.1 L357.3,265.1 L358.3,265.1 L359.3,265.1 L360.3,265.1 L361.3,265.1 L362.3,265.1 L363.3,265.1 L364.3,265.1 L365.3,265.1 L366.3,265.1 L367.3,265.1 L368.3,265.1 L369.3,265.1 L370.3,265.1 L371.3,265.1 L372.3,265.1 L373.3,265.1 L374.3,265.1 L375.3,265.1 L376.3,265.1 L377.3,265.1 L378.3,265.1 L379.3,265.1 L380.3,265.1 L381.3,265.1 L382.3,265.1 L383.3,265.1 L384.3,265.1 L385.3,265.1 L386.3,265.1 L387.3,265.1 L388.3,265.1 L389.3,265.1 L390.3,265.1 L391.3,265.1 L392.3,265.1 L393.3,265.1 L394.3,265.1 L395.3,265.1 L396.3,265.1 L397.3,265.1 L398.3,265.1 L399.3,265.1 L400.3,265.1 L401.3,265.1 L402.3,265.1 L403.3,265.1 L404.2,265.1 L404.2,268.2 Z" fill="#fff" stroke="#f4f4f4" stroke-width="1.1" stroke-linejoin="round"/>
<path d="M161.3,268.2 L161.3,265.6 L162.3,265.6 L163.3,265.6 L164.3,265.6 L165.3,265.6 L166.3,265.6 L167.3,265.6 L168.3,265.6 L169.3,265.6 L170.3,265.6 L171.3,265.6 L172.3,265.6 L173.3,265.6 L174.3,265.5 L175.3,265.4 L176.3,265.2 L177.3,265.1 L178.3,265.0 L179.3,264.8 L180.3,264.6 L181.3,264.4 L182.3,264.3 L183.3,264.1 L184.3,263.9 L185.3,263.6 L186.3,263.4 L187.3,263.2 L188.3,262.9 L189.3,262.7 L190.3,262.4 L191.3,262.2 L192.3,261.9 L193.3,261.6 L194.3,261.3 L195.3,261.0 L196.3,260.6 L197.3,260.2 L198.3,259.8 L199.3,259.4 L200.3,258.9 L201.3,258.5 L202.3,258.0 L203.3,257.4 L204.3,256.8 L205.3,256.2 L206.3,255.5 L207.3,254.8 L208.3,254.0 L209.3,253.3 L210.3,252.5 L211.3,251.8 L212.3,251.0 L213.3,250.2 L214.3,249.4 L215.3,248.5 L216.3,247.6 L217.3,246.8 L218.3,245.9 L219.3,245.0 L220.3,244.2 L221.3,243.4 L222.3,242.6 L223.3,241.8 L224.3,241.1 L225.3,240.4 L226.3,239.6 L227.3,238.9 L228.3,238.2 L229.3,237.5 L230.3,236.8 L231.3,236.0 L232.3,235.3 L233.3,234.5 L234.3,233.7 L235.3,232.9 L236.3,232.2 L237.3,231.6 L238.3,231.0 L239.3,230.5 L240.3,230.1 L241.3,229.6 L242.3,229.2 L243.3,228.8 L244.3,228.4 L245.3,228.1 L246.3,227.8 L247.3,227.6 L248.3,227.5 L249.3,227.5 L250.3,227.5 L251.3,227.5 L252.3,227.5 L253.3,227.5 L254.3,227.5 L255.3,227.5 L256.3,227.5 L257.3,227.5 L258.3,227.5 L259.3,227.5 L260.3,227.7 L261.3,227.9 L262.3,228.2 L263.3,228.6 L264.3,229.1 L265.3,229.5 L266.3,230.0 L267.3,230.5 L268.3,230.9 L269.3,231.4 L270.3,232.0 L271.3,232.6 L272.3,233.3 L273.3,234.0 L274.3,234.7 L275.3,235.4 L276.3,236.2 L277.3,236.9 L278.3,237.7 L279.3,238.6 L280.3,239.5 L281.3,240.4 L282.3,241.3 L283.3,242.3 L284.3,243.2 L285.3,244.2 L286.3,245.1 L287.3,245.9 L288.3,246.8 L289.3,247.6 L290.3,248.5 L291.3,249.3 L292.3,250.1 L293.3,250.9 L294.3,251.7 L295.3,252.4 L296.3,253.1 L297.3,253.8 L298.3,254.5 L299.3,255.1 L300.3,255.7 L301.3,256.4 L302.3,256.9 L303.3,257.5 L304.3,258.0 L305.3,258.5 L306.3,259.0 L307.3,259.4 L308.3,259.8 L309.3,260.3 L310.3,260.6 L311.3,261.0 L312.3,261.4 L313.3,261.7 L314.3,262.0 L315.3,262.3 L316.3,262.5 L317.3,262.8 L318.3,263.0 L319.3,263.2 L320.3,263.4 L321.3,263.6 L322.3,263.8 L323.3,264.0 L324.3,264.1 L325.3,264.3 L326.3,264.4 L327.3,264.5 L328.3,264.6 L329.3,264.7 L330.3,264.8 L331.3,264.9 L332.3,265.0 L333.3,265.0 L334.3,265.1 L335.3,265.2 L336.3,265.2 L337.3,265.3 L338.3,265.3 L339.3,265.4 L340.3,265.4 L341.3,265.5 L342.3,265.5 L343.3,265.6 L344.3,265.6 L345.3,265.6 L346.3,265.6 L347.3,265.6 L348.3,265.6 L349.3,265.6 L350.3,265.6 L351.3,265.6 L352.3,265.6 L353.3,265.6 L354.3,265.6 L355.3,265.6 L356.3,265.6 L357.3,265.6 L358.3,265.6 L359.3,265.6 L360.3,265.6 L361.3,265.6 L362.3,265.6 L363.3,265.6 L364.3,265.6 L365.3,265.6 L366.3,265.6 L367.3,265.6 L368.3,265.6 L369.3,265.6 L370.3,265.6 L371.3,265.6 L372.3,265.6 L373.3,265.6 L374.3,265.6 L375.3,265.6 L376.3,265.6 L377.3,265.6 L378.3,265.6 L379.3,265.6 L380.3,265.6 L381.3,265.6 L382.3,265.6 L383.3,265.6 L384.3,265.6 L385.3,265.6 L386.3,265.6 L387.3,265.6 L388.3,265.6 L389.3,265.6 L390.3,265.6 L391.3,265.6 L392.3,265.6 L393.3,265.6 L394.3,265.6 L395.3,265.6 L396.3,265.6 L397.3,265.6 L398.3,265.6 L399.3,265.6 L400.3,265.6 L401.3,265.6 L402.3,265.6 L403.3,265.6 L404.2,265.6 L404.2,268.2 Z" fill="#1f77b4" fill-opacity="0.6"/>
<path d="M161.3,268.2 L161.3,257.9 L162.3,257.5 L163.3,257.0 L164.3,256.6 L165.3,256.1 L166.3,255.6 L167.3,255.1 L168.3,254.6 L169.3,254.0 L170.3,253.5 L171.3,252.9 L172.3,252.3 L173.3,251.7 L174.3,251.1 L175.3,250.5 L176.3,249.8 L177.3,249.1 L178.3,248.4 L179.3,247.7 L180.3,247.0 L181.3,246.2 L182.3,245.5 L183.3,244.7 L184.3,244.0 L185.3,243.3 L186.3,242.5 L187.3,241.8 L188.3,241.0 L189.3,240.2 L190.3,239.5 L191.3,238.8 L192.3,238.1 L193.3,237.4 L194.3,236.7 L195.3,236.0 L196.3,235.4 L197.3,234.7 L198.3,234.1 L199.3,233.5 L200.3,232.9 L201.3,232.4 L202.3,231.9 L203.3,231.5 L204.3,231.1 L205.3,230.7 L206.3,230.2 L207.3,229.9 L208.3,229.5 L209.3,229.2 L210.3,229.0 L211.3,228.9 L212.3,228.9 L213.3,228.9 L214.3,228.9 L215.3,228.9 L216.3,228.9 L217.3,228.9 L218.3,228.9 L219.3,228.9 L220.3,229.0 L221.3,229.2 L222.3,229.5 L223.3,229.9 L224.3,230.4 L225.3,230.9 L226.3,231.5 L227.3,232.0 L228.3,232.6 L229.3,233.3 L230.3,234.0 L231.3,234.6 L232.3,235.3 L233.3,235.9 L234.3,236.5 L235.3,237.2 L236.3,237.8 L237.3,238.5 L238.3,239.1 L239.3,239.8 L240.3,240.4 L241.3,241.1 L242.3,241.8 L243.3,242.5 L244.3,243.2 L245.3,243.9 L246.3,244.6 L247.3,245.3 L248.3,246.0 L249.3,246.7 L250.3,247.4 L251.3,248.1 L252.3,248.9 L253.3,249.6 L254.3,250.3 L255.3,251.1 L256.3,251.8 L257.3,252.4 L258.3,253.1 L259.3,253.7 L260.3,254.3 L261.3,254.9 L262.3,255.5 L263.3,256.1 L264.3,256.6 L265.3,257.2 L266.3,257.7 L267.3,258.2 L268.3,258.6 L269.3,259.1 L270.3,259.6 L271.3,260.0 L272.3,260.5 L273.3,260.9 L274.3,261.3 L275.3,261.6 L276.3,262.0 L277.3,262.3 L278.3,262.5 L279.3,262.8 L280.3,263.0 L281.3,263.2 L282.3,263.4 L283.3,263.6 L284.3,263.8 L285.3,264.0 L286.3,264.1 L287.3,264.3 L288.3,264.4 L289.3,264.5 L290.3,264.6 L291.3,264.7 L292.3,264.8 L293.3,264.9 L294.3,265.0 L295.3,265.0 L296.3,265.1 L297.3,265.1 L298.3,265.1 L299.3,265.1 L300.3,265.1 L301.3,265.1 L302.3,265.1 L303.3,265.1 L304.3,265.1 L305.3,265.1 L306.3,265.1 L307.3,265.1 L308.3,265.1 L309.3,265.1 L310.3,265.1 L311.3,265.1 L312.3,265.1 L313.3,265.1 L314.3,265.1 L315.3,265.1 L316.3,265.1 L317.3,265.1 L318.3,265.1 L319.3,265.1 L320.3,265.1 L321.3,265.1 L322.3,265.1 L323.3,265.1 L324.3,265.1 L325.3,265.1 L326.3,265.1 L327.3,265.1 L328.3,265.1 L329.3,265.1 L330.3,265.1 L331.3,265.1 L332.3,265.1 L333.3,265.1 L334.3,265.1 L335.3,265.1 L336.3,265.1 L337.3,265.1 L338.3,265.1 L339.3,265.1 L340.3,265.1 L341.3,265.1 L342.3,265.1 L343.3,265.1 L344.3,265.1 L345.3,265.1 L346.3,265.1 L347.3,265.1 L348.3,265.1 L349.3,265.1 L350.3,265.1 L351.3,265.1 L352.3,265.1 L353.3,265.1 L354.3,265.1 L355.3,265.1 L356.3,265.1 L357.3,265.1 L358.3,265.1 L359.3,265.1 L360.3,265.1 L361.3,265.1 L362.3,265.1 L363.3,265.1 L364.3,265.1 L365.3,265.1 L366.3,265.1 L367.3,265.1 L368.3,265.1 L369.3,265.1 L370.3,265.1 L371.3,265.1 L372.3,265.1 L373.3,265.1 L374.3,265.1 L375.3,265.1 L376.3,265.1 L377.3,265.1 L378.3,265.1 L379.3,265.1 L380.3,265.1 L381.3,265.1 L382.3,265.1 L383.3,265.1 L384.3,265.1 L385.3,265.1 L386.3,265.1 L387.3,265.1 L388.3,265.1 L389.3,265.1 L390.3,265.1 L391.3,265.1 L392.3,265.1 L393.3,265.1 L394.3,265.1 L395.3,265.1 L396.3,265.1 L397.3,265.1 L398.3,265.1 L399.3,265.1 L400.3,265.1 L401.3,265.1 L402.3,265.1 L403.3,265.1 L404.2,265.1 L404.2,268.2 Z" fill="#ff7f0e" fill-opacity="0.6"/>
<rect x="213.20" y="248.03" width="2" height="8.7" fill="#000"/>
<rect x="213.20" y="260.63" width="2" height="8.50" fill="#000"/>
<rect x="251.20" y="248.03" width="2" height="8.7" fill="#000"/>
<rect x="251.20" y="260.63" width="2" height="8.50" fill="#000"/>
<path d="M160.30,269.43 H405.00 M161.30,269.43 V275.43 M209.40,269.43 V275.43 M258.40,269.43 V275.43 M306.60,269.43 V275.43 M355.90,269.43 V275.43" stroke="#b0b0b0" stroke-width="2.6" fill="none"/>
<path d="M160.30,269.43 H405.00 M161.30,269.43 V275.43 M209.40,269.43 V275.43 M258.40,269.43 V275.43 M306.60,269.43 V275.43 M355.90,269.43 V275.43" stroke="#000" stroke-width="1.2" fill="none"/>
<path d="M379.00,227.50 L379.00,237.90 M374.50,230.10 L383.50,235.30 M383.50,230.10 L374.50,235.30" stroke="#d0d0d0" stroke-width="2.6" fill="none"/>
<path d="M379.00,227.50 L379.00,237.90 M374.50,230.10 L383.50,235.30 M383.50,230.10 L374.50,235.30" stroke="#000" stroke-width="0.9" fill="none"/>
<path d="M424.3,268.2 L424.3,258.2 L425.3,258.0 L426.3,257.7 L427.3,257.4 L428.3,257.1 L429.3,256.7 L430.3,256.3 L431.3,255.9 L432.3,255.5 L433.3,255.0 L434.3,254.6 L435.3,254.1 L436.3,253.6 L437.3,253.0 L438.3,252.5 L439.3,251.8 L440.3,251.1 L441.3,250.4 L442.3,249.6 L443.3,248.8 L444.3,248.0 L445.3,247.2 L446.3,246.4 L447.3,245.7 L448.3,245.0 L449.3,244.3 L450.3,243.5 L451.3,242.8 L452.3,242.1 L453.3,241.3 L454.3,240.6 L455.3,239.8 L456.3,239.1 L457.3,238.3 L458.3,237.5 L459.3,236.6 L460.3,235.8 L461.3,234.9 L462.3,234.1 L463.3,233.4 L464.3,232.7 L465.3,232.1 L466.3,231.5 L467.3,230.9 L468.3,230.4 L469.3,229.8 L470.3,229.3 L471.3,228.9 L472.3,228.5 L473.3,228.1 L474.3,227.8 L475.3,227.5 L476.3,227.2 L477.3,227.0 L478.3,226.8 L479.3,226.6 L480.3,226.4 L481.3,226.2 L482.3,226.1 L483.3,226.1 L484.3,226.1 L485.3,226.2 L486.3,226.4 L487.3,226.6 L488.3,226.9 L489.3,227.3 L490.3,227.6 L491.3,228.0 L492.3,228.4 L493.3,228.8 L494.3,229.2 L495.3,229.6 L496.3,230.1 L497.3,230.7 L498.3,231.3 L499.3,232.0 L500.3,232.6 L501.3,233.3 L502.3,234.0 L503.3,234.6 L504.3,235.3 L505.3,236.0 L506.3,236.6 L507.3,237.3 L508.3,238.0 L509.3,238.7 L510.3,239.4 L511.3,240.1 L512.3,240.9 L513.3,241.6 L514.3,242.3 L515.3,243.1 L516.3,243.8 L517.3,244.6 L518.3,245.4 L519.3,246.1 L520.3,246.9 L521.3,247.6 L522.3,248.3 L523.3,249.0 L524.3,249.8 L525.3,250.5 L526.3,251.2 L527.3,252.0 L528.3,252.7 L529.3,253.3 L530.3,253.9 L531.3,254.5 L532.3,255.0 L533.3,255.5 L534.3,255.9 L535.3,256.3 L536.3,256.7 L537.3,257.1 L538.3,257.5 L539.3,257.8 L540.3,258.2 L541.3,258.5 L542.3,258.9 L543.3,259.2 L544.3,259.6 L545.3,259.9 L546.3,260.3 L547.3,260.7 L548.3,261.0 L549.3,261.4 L550.3,261.8 L551.3,262.1 L552.3,262.4 L553.3,262.7 L554.3,263.0 L555.3,263.2 L556.3,263.4 L557.3,263.5 L558.3,263.7 L559.3,263.9 L560.3,264.0 L561.3,264.1 L562.3,264.3 L563.3,264.4 L564.3,264.5 L565.3,264.7 L566.3,264.8 L567.3,264.9 L568.3,265.0 L569.3,265.1 L570.3,265.2 L571.3,265.3 L572.3,265.4 L573.3,265.5 L574.3,265.5 L575.3,265.5 L576.3,265.5 L577.3,265.5 L578.3,265.5 L579.3,265.5 L580.3,265.5 L581.3,265.5 L582.3,265.5 L583.3,265.5 L584.3,265.5 L585.3,265.5 L586.3,265.5 L587.3,265.5 L588.3,265.5 L589.3,265.5 L590.3,265.5 L591.3,265.5 L592.3,265.5 L593.3,265.5 L594.3,265.5 L595.3,265.5 L596.3,265.5 L597.3,265.5 L598.3,265.5 L599.3,265.5 L600.3,265.5 L601.3,265.5 L602.3,265.5 L603.3,265.5 L604.3,265.5 L605.3,265.5 L606.3,265.5 L607.3,265.5 L608.3,265.5 L609.3,265.5 L610.3,265.5 L611.3,265.5 L612.3,265.5 L613.3,265.5 L614.3,265.5 L615.3,265.5 L616.3,265.5 L617.3,265.5 L618.3,265.5 L619.3,265.5 L620.3,265.5 L621.3,265.5 L622.3,265.5 L623.3,265.5 L624.3,265.5 L625.3,265.5 L626.3,265.5 L627.3,265.5 L628.3,265.5 L629.3,265.5 L630.3,265.5 L631.3,265.5 L632.3,265.5 L633.3,265.5 L634.3,265.5 L635.3,265.5 L636.3,265.5 L637.3,265.5 L638.3,265.5 L639.3,265.5 L640.3,265.5 L641.3,265.5 L642.3,265.5 L643.3,265.5 L644.3,265.5 L645.3,265.5 L646.3,265.5 L647.3,265.5 L648.3,265.5 L649.3,265.5 L650.3,265.5 L651.3,265.5 L652.3,265.5 L653.3,265.5 L654.3,265.5 L655.3,265.5 L656.3,265.5 L657.3,265.5 L658.3,265.5 L659.3,265.5 L660.3,265.5 L661.3,265.5 L662.3,265.5 L663.3,265.5 L664.3,265.5 L665.3,265.5 L666.3,265.5 L667.2,265.5 L667.2,268.2 Z" fill="#fff" stroke="#f4f4f4" stroke-width="1.1" stroke-linejoin="round"/>
<path d="M424.3,268.2 L424.3,257.9 L425.3,257.7 L426.3,257.5 L427.3,257.2 L428.3,256.9 L429.3,256.5 L430.3,256.2 L431.3,255.8 L432.3,255.4 L433.3,254.9 L434.3,254.5 L435.3,254.0 L436.3,253.5 L437.3,253.0 L438.3,252.5 L439.3,251.9 L440.3,251.2 L441.3,250.4 L442.3,249.7 L443.3,248.9 L444.3,248.1 L445.3,247.4 L446.3,246.6 L447.3,245.9 L448.3,245.2 L449.3,244.6 L450.3,243.9 L451.3,243.2 L452.3,242.5 L453.3,241.8 L454.3,241.1 L455.3,240.4 L456.3,239.7 L457.3,239.0 L458.3,238.2 L459.3,237.4 L460.3,236.7 L461.3,235.9 L462.3,235.2 L463.3,234.5 L464.3,233.8 L465.3,233.3 L466.3,232.7 L467.3,232.2 L468.3,231.6 L469.3,231.1 L470.3,230.6 L471.3,230.1 L472.3,229.7 L473.3,229.4 L474.3,229.1 L475.3,228.8 L476.3,228.6 L477.3,228.3 L478.3,228.1 L479.3,227.9 L480.3,227.8 L481.3,227.6 L482.3,227.5 L483.3,227.5 L484.3,227.5 L485.3,227.6 L486.3,227.8 L487.3,228.0 L488.3,228.3 L489.3,228.7 L490.3,229.0 L491.3,229.4 L492.3,229.8 L493.3,230.2 L494.3,230.6 L495.3,231.0 L496.3,231.5 L497.3,232.1 L498.3,232.7 L499.3,233.4 L500.3,234.0 L501.3,234.7 L502.3,235.4 L503.3,236.0 L504.3,236.7 L505.3,237.4 L506.3,238.0 L507.3,238.7 L508.3,239.4 L509.3,240.1 L510.3,240.9 L511.3,241.6 L512.3,242.3 L513.3,243.0 L514.3,243.7 L515.3,244.4 L516.3,245.1 L517.3,245.9 L518.3,246.6 L519.3,247.3 L520.3,248.0 L521.3,248.7 L522.3,249.3 L523.3,250.0 L524.3,250.6 L525.3,251.3 L526.3,251.9 L527.3,252.6 L528.3,253.2 L529.3,253.8 L530.3,254.3 L531.3,254.8 L532.3,255.3 L533.3,255.7 L534.3,256.1 L535.3,256.5 L536.3,256.9 L537.3,257.2 L538.3,257.6 L539.3,257.9 L540.3,258.2 L541.3,258.6 L542.3,258.9 L543.3,259.2 L544.3,259.6 L545.3,259.9 L546.3,260.3 L547.3,260.6 L548.3,261.0 L549.3,261.4 L550.3,261.8 L551.3,262.1 L552.3,262.4 L553.3,262.7 L554.3,263.0 L555.3,263.2 L556.3,263.4 L557.3,263.5 L558.3,263.7 L559.3,263.9 L560.3,264.0 L561.3,264.1 L562.3,264.3 L563.3,264.4 L564.3,264.5 L565.3,264.7 L566.3,264.8 L567.3,264.9 L568.3,265.0 L569.3,265.1 L570.3,265.2 L571.3,265.3 L572.3,265.4 L573.3,265.5 L574.3,265.5 L575.3,265.5 L576.3,265.5 L577.3,265.5 L578.3,265.5 L579.3,265.5 L580.3,265.5 L581.3,265.5 L582.3,265.5 L583.3,265.5 L584.3,265.5 L585.3,265.5 L586.3,265.5 L587.3,265.5 L588.3,265.5 L589.3,265.5 L590.3,265.5 L591.3,265.5 L592.3,265.5 L593.3,265.5 L594.3,265.5 L595.3,265.5 L596.3,265.5 L597.3,265.5 L598.3,265.5 L599.3,265.5 L600.3,265.5 L601.3,265.5 L602.3,265.5 L603.3,265.5 L604.3,265.5 L605.3,265.5 L606.3,265.5 L607.3,265.5 L608.3,265.5 L609.3,265.5 L610.3,265.5 L611.3,265.5 L612.3,265.5 L613.3,265.5 L614.3,265.5 L615.3,265.5 L616.3,265.5 L617.3,265.5 L618.3,265.5 L619.3,265.5 L620.3,265.5 L621.3,265.5 L622.3,265.5 L623.3,265.5 L624.3,265.5 L625.3,265.5 L626.3,265.5 L627.3,265.5 L628.3,265.5 L629.3,265.5 L630.3,265.5 L631.3,265.5 L632.3,265.5 L633.3,265.5 L634.3,265.5 L635.3,265.5 L636.3,265.5 L637.3,265.5 L638.3,265.5 L639.3,265.5 L640.3,265.5 L641.3,265.5 L642.3,265.5 L643.3,265.5 L644.3,265.5 L645.3,265.5 L646.3,265.5 L647.3,265.5 L648.3,265.5 L649.3,265.5 L650.3,265.5 L651.3,265.5 L652.3,265.5 L653.3,265.5 L654.3,265.5 L655.3,265.5 L656.3,265.5 L657.3,265.5 L658.3,265.5 L659.3,265.5 L660.3,265.5 L661.3,265.5 L662.3,265.5 L663.3,265.5 L664.3,265.5 L665.3,265.5 L666.3,265.5 L667.2,265.5 L667.2,268.2 Z" fill="#fff" stroke="#f4f4f4" stroke-width="1.1" stroke-linejoin="round"/>
<path d="M424.3,268.2 L424.3,258.2 L425.3,258.0 L426.3,257.7 L427.3,257.4 L428.3,257.1 L429.3,256.7 L430.3,256.3 L431.3,255.9 L432.3,255.5 L433.3,255.0 L434.3,254.6 L435.3,254.1 L436.3,253.6 L437.3,253.0 L438.3,252.5 L439.3,251.8 L440.3,251.1 L441.3,250.4 L442.3,249.6 L443.3,248.8 L444.3,248.0 L445.3,247.2 L446.3,246.4 L447.3,245.7 L448.3,245.0 L449.3,244.3 L450.3,243.5 L451.3,242.8 L452.3,242.1 L453.3,241.3 L454.3,240.6 L455.3,239.8 L456.3,239.1 L457.3,238.3 L458.3,237.5 L459.3,236.6 L460.3,235.8 L461.3,234.9 L462.3,234.1 L463.3,233.4 L464.3,232.7 L465.3,232.1 L466.3,231.5 L467.3,230.9 L468.3,230.4 L469.3,229.8 L470.3,229.3 L471.3,228.9 L472.3,228.5 L473.3,228.1 L474.3,227.8 L475.3,227.5 L476.3,227.2 L477.3,227.0 L478.3,226.8 L479.3,226.6 L480.3,226.4 L481.3,226.2 L482.3,226.1 L483.3,226.1 L484.3,226.1 L485.3,226.2 L486.3,226.4 L487.3,226.6 L488.3,226.9 L489.3,227.3 L490.3,227.6 L491.3,228.0 L492.3,228.4 L493.3,228.8 L494.3,229.2 L495.3,229.6 L496.3,230.1 L497.3,230.7 L498.3,231.3 L499.3,232.0 L500.3,232.6 L501.3,233.3 L502.3,234.0 L503.3,234.6 L504.3,235.3 L505.3,236.0 L506.3,236.6 L507.3,237.3 L508.3,238.0 L509.3,238.7 L510.3,239.4 L511.3,240.1 L512.3,240.9 L513.3,241.6 L514.3,242.3 L515.3,243.1 L516.3,243.8 L517.3,244.6 L518.3,245.4 L519.3,246.1 L520.3,246.9 L521.3,247.6 L522.3,248.3 L523.3,249.0 L524.3,249.8 L525.3,250.5 L526.3,251.2 L527.3,252.0 L528.3,252.7 L529.3,253.3 L530.3,253.9 L531.3,254.5 L532.3,255.0 L533.3,255.5 L534.3,255.9 L535.3,256.3 L536.3,256.7 L537.3,257.1 L538.3,257.5 L539.3,257.8 L540.3,258.2 L541.3,258.5 L542.3,258.9 L543.3,259.2 L544.3,259.6 L545.3,259.9 L546.3,260.3 L547.3,260.7 L548.3,261.0 L549.3,261.4 L550.3,261.8 L551.3,262.1 L552.3,262.4 L553.3,262.7 L554.3,263.0 L555.3,263.2 L556.3,263.4 L557.3,263.5 L558.3,263.7 L559.3,263.9 L560.3,264.0 L561.3,264.1 L562.3,264.3 L563.3,264.4 L564.3,264.5 L565.3,264.7 L566.3,264.8 L567.3,264.9 L568.3,265.0 L569.3,265.1 L570.3,265.2 L571.3,265.3 L572.3,265.4 L573.3,265.5 L574.3,265.5 L575.3,265.5 L576.3,265.5 L577.3,265.5 L578.3,265.5 L579.3,265.5 L580.3,265.5 L581.3,265.5 L582.3,265.5 L583.3,265.5 L584.3,265.5 L585.3,265.5 L586.3,265.5 L587.3,265.5 L588.3,265.5 L589.3,265.5 L590.3,265.5 L591.3,265.5 L592.3,265.5 L593.3,265.5 L594.3,265.5 L595.3,265.5 L596.3,265.5 L597.3,265.5 L598.3,265.5 L599.3,265.5 L600.3,265.5 L601.3,265.5 L602.3,265.5 L603.3,265.5 L604.3,265.5 L605.3,265.5 L606.3,265.5 L607.3,265.5 L608.3,265.5 L609.3,265.5 L610.3,265.5 L611.3,265.5 L612.3,265.5 L613.3,265.5 L614.3,265.5 L615.3,265.5 L616.3,265.5 L617.3,265.5 L618.3,265.5 L619.3,265.5 L620.3,265.5 L621.3,265.5 L622.3,265.5 L623.3,265.5 L624.3,265.5 L625.3,265.5 L626.3,265.5 L627.3,265.5 L628.3,265.5 L629.3,265.5 L630.3,265.5 L631.3,265.5 L632.3,265.5 L633.3,265.5 L634.3,265.5 L635.3,265.5 L636.3,265.5 L637.3,265.5 L638.3,265.5 L639.3,265.5 L640.3,265.5 L641.3,265.5 L642.3,265.5 L643.3,265.5 L644.3,265.5 L645.3,265.5 L646.3,265.5 L647.3,265.5 L648.3,265.5 L649.3,265.5 L650.3,265.5 L651.3,265.5 L652.3,265.5 L653.3,265.5 L654.3,265.5 L655.3,265.5 L656.3,265.5 L657.3,265.5 L658.3,265.5 L659.3,265.5 L660.3,265.5 L661.3,265.5 L662.3,265.5 L663.3,265.5 L664.3,265.5 L665.3,265.5 L666.3,265.5 L667.2,265.5 L667.2,268.2 Z" fill="#1f77b4" fill-opacity="0.6"/>
<path d="M424.3,268.2 L424.3,257.9 L425.3,257.7 L426.3,257.5 L427.3,257.2 L428.3,256.9 L429.3,256.5 L430.3,256.2 L431.3,255.8 L432.3,255.4 L433.3,254.9 L434.3,254.5 L435.3,254.0 L436.3,253.5 L437.3,253.0 L438.3,252.5 L439.3,251.9 L440.3,251.2 L441.3,250.4 L442.3,249.7 L443.3,248.9 L444.3,248.1 L445.3,247.4 L446.3,246.6 L447.3,245.9 L448.3,245.2 L449.3,244.6 L450.3,243.9 L451.3,243.2 L452.3,242.5 L453.3,241.8 L454.3,241.1 L455.3,240.4 L456.3,239.7 L457.3,239.0 L458.3,238.2 L459.3,237.4 L460.3,236.7 L461.3,235.9 L462.3,235.2 L463.3,234.5 L464.3,233.8 L465.3,233.3 L466.3,232.7 L467.3,232.2 L468.3,231.6 L469.3,231.1 L470.3,230.6 L471.3,230.1 L472.3,229.7 L473.3,229.4 L474.3,229.1 L475.3,228.8 L476.3,228.6 L477.3,228.3 L478.3,228.1 L479.3,227.9 L480.3,227.8 L481.3,227.6 L482.3,227.5 L483.3,227.5 L484.3,227.5 L485.3,227.6 L486.3,227.8 L487.3,228.0 L488.3,228.3 L489.3,228.7 L490.3,229.0 L491.3,229.4 L492.3,229.8 L493.3,230.2 L494.3,230.6 L495.3,231.0 L496.3,231.5 L497.3,232.1 L498.3,232.7 L499.3,233.4 L500.3,234.0 L501.3,234.7 L502.3,235.4 L503.3,236.0 L504.3,236.7 L505.3,237.4 L506.3,238.0 L507.3,238.7 L508.3,239.4 L509.3,240.1 L510.3,240.9 L511.3,241.6 L512.3,242.3 L513.3,243.0 L514.3,243.7 L515.3,244.4 L516.3,245.1 L517.3,245.9 L518.3,246.6 L519.3,247.3 L520.3,248.0 L521.3,248.7 L522.3,249.3 L523.3,250.0 L524.3,250.6 L525.3,251.3 L526.3,251.9 L527.3,252.6 L528.3,253.2 L529.3,253.8 L530.3,254.3 L531.3,254.8 L532.3,255.3 L533.3,255.7 L534.3,256.1 L535.3,256.5 L536.3,256.9 L537.3,257.2 L538.3,257.6 L539.3,257.9 L540.3,258.2 L541.3,258.6 L542.3,258.9 L543.3,259.2 L544.3,259.6 L545.3,259.9 L546.3,260.3 L547.3,260.6 L548.3,261.0 L549.3,261.4 L550.3,261.8 L551.3,262.1 L552.3,262.4 L553.3,262.7 L554.3,263.0 L555.3,263.2 L556.3,263.4 L557.3,263.5 L558.3,263.7 L559.3,263.9 L560.3,264.0 L561.3,264.1 L562.3,264.3 L563.3,264.4 L564.3,264.5 L565.3,264.7 L566.3,264.8 L567.3,264.9 L568.3,265.0 L569.3,265.1 L570.3,265.2 L571.3,265.3 L572.3,265.4 L573.3,265.5 L574.3,265.5 L575.3,265.5 L576.3,265.5 L577.3,265.5 L578.3,265.5 L579.3,265.5 L580.3,265.5 L581.3,265.5 L582.3,265.5 L583.3,265.5 L584.3,265.5 L585.3,265.5 L586.3,265.5 L587.3,265.5 L588.3,265.5 L589.3,265.5 L590.3,265.5 L591.3,265.5 L592.3,265.5 L593.3,265.5 L594.3,265.5 L595.3,265.5 L596.3,265.5 L597.3,265.5 L598.3,265.5 L599.3,265.5 L600.3,265.5 L601.3,265.5 L602.3,265.5 L603.3,265.5 L604.3,265.5 L605.3,265.5 L606.3,265.5 L607.3,265.5 L608.3,265.5 L609.3,265.5 L610.3,265.5 L611.3,265.5 L612.3,265.5 L613.3,265.5 L614.3,265.5 L615.3,265.5 L616.3,265.5 L617.3,265.5 L618.3,265.5 L619.3,265.5 L620.3,265.5 L621.3,265.5 L622.3,265.5 L623.3,265.5 L624.3,265.5 L625.3,265.5 L626.3,265.5 L627.3,265.5 L628.3,265.5 L629.3,265.5 L630.3,265.5 L631.3,265.5 L632.3,265.5 L633.3,265.5 L634.3,265.5 L635.3,265.5 L636.3,265.5 L637.3,265.5 L638.3,265.5 L639.3,265.5 L640.3,265.5 L641.3,265.5 L642.3,265.5 L643.3,265.5 L644.3,265.5 L645.3,265.5 L646.3,265.5 L647.3,265.5 L648.3,265.5 L649.3,265.5 L650.3,265.5 L651.3,265.5 L652.3,265.5 L653.3,265.5 L654.3,265.5 L655.3,265.5 L656.3,265.5 L657.3,265.5 L658.3,265.5 L659.3,265.5 L660.3,265.5 L661.3,265.5 L662.3,265.5 L663.3,265.5 L664.3,265.5 L665.3,265.5 L666.3,265.5 L667.2,265.5 L667.2,268.2 Z" fill="#ff7f0e" fill-opacity="0.6"/>
<rect x="481.40" y="248.03" width="2" height="8.7" fill="#000"/>
<rect x="481.40" y="260.63" width="2" height="8.50" fill="#000"/>
<rect x="483.10" y="248.03" width="2" height="8.7" fill="#000"/>
<rect x="483.10" y="260.63" width="2" height="8.50" fill="#000"/>
<path d="M423.30,269.43 H668.00 M441.50,269.43 V275.43 M472.60,269.43 V275.43 M522.40,269.43 V275.43 M569.60,269.43 V275.43 M617.20,269.43 V275.43" stroke="#b0b0b0" stroke-width="2.6" fill="none"/>
<path d="M423.30,269.43 H668.00 M441.50,269.43 V275.43 M472.60,269.43 V275.43 M522.40,269.43 V275.43 M569.60,269.43 V275.43 M617.20,269.43 V275.43" stroke="#000" stroke-width="1.2" fill="none"/>
<path d="M161.3,319.5 L161.3,316.5 L162.3,316.4 L163.3,316.3 L164.3,316.2 L165.3,316.1 L166.3,316.0 L167.3,315.9 L168.3,315.8 L169.3,315.7 L170.3,315.5 L171.3,315.4 L172.3,315.3 L173.3,315.1 L174.3,315.0 L175.3,314.8 L176.3,314.6 L177.3,314.5 L178.3,314.3 L179.3,314.1 L180.3,313.9 L181.3,313.8 L182.3,313.6 L183.3,313.3 L184.3,313.1 L185.3,312.9 L186.3,312.7 L187.3,312.4 L188.3,312.2 L189.3,311.9 L190.3,311.6 L191.3,311.3 L192.3,311.0 L193.3,310.7 L194.3,310.3 L195.3,309.9 L196.3,309.5 L197.3,309.0 L198.3,308.5 L199.3,307.9 L200.3,307.4 L201.3,306.8 L202.3,306.2 L203.3,305.5 L204.3,304.8 L205.3,304.0 L206.3,303.2 L207.3,302.3 L208.3,301.5 L209.3,300.6 L210.3,299.8 L211.3,299.0 L212.3,298.2 L213.3,297.5 L214.3,296.7 L215.3,296.0 L216.3,295.3 L217.3,294.6 L218.3,293.9 L219.3,293.2 L220.3,292.5 L221.3,291.9 L222.3,291.2 L223.3,290.6 L224.3,289.9 L225.3,289.3 L226.3,288.7 L227.3,288.1 L228.3,287.6 L229.3,287.0 L230.3,286.6 L231.3,286.1 L232.3,285.6 L233.3,285.1 L234.3,284.7 L235.3,284.3 L236.3,283.9 L237.3,283.5 L238.3,283.2 L239.3,282.9 L240.3,282.7 L241.3,282.5 L242.3,282.3 L243.3,282.1 L244.3,281.9 L245.3,281.7 L246.3,281.6 L247.3,281.5 L248.3,281.4 L249.3,281.4 L250.3,281.4 L251.3,281.4 L252.3,281.5 L253.3,281.5 L254.3,281.5 L255.3,281.6 L256.3,281.6 L257.3,281.7 L258.3,281.8 L259.3,281.9 L260.3,282.1 L261.3,282.3 L262.3,282.6 L263.3,282.9 L264.3,283.3 L265.3,283.7 L266.3,284.1 L267.3,284.5 L268.3,284.9 L269.3,285.4 L270.3,286.0 L271.3,286.6 L272.3,287.2 L273.3,287.9 L274.3,288.6 L275.3,289.4 L276.3,290.1 L277.3,290.8 L278.3,291.6 L279.3,292.3 L280.3,293.1 L281.3,294.0 L282.3,294.8 L283.3,295.6 L284.3,296.5 L285.3,297.3 L286.3,298.0 L287.3,298.8 L288.3,299.5 L289.3,300.3 L290.3,301.0 L291.3,301.7 L292.3,302.4 L293.3,303.1 L294.3,303.8 L295.3,304.4 L296.3,305.0 L297.3,305.6 L298.3,306.2 L299.3,306.8 L300.3,307.4 L301.3,308.0 L302.3,308.5 L303.3,309.0 L304.3,309.5 L305.3,309.9 L306.3,310.4 L307.3,310.8 L308.3,311.1 L309.3,311.5 L310.3,311.8 L311.3,312.1 L312.3,312.5 L313.3,312.7 L314.3,313.0 L315.3,313.3 L316.3,313.5 L317.3,313.8 L318.3,314.0 L319.3,314.2 L320.3,314.4 L321.3,314.6 L322.3,314.8 L323.3,315.0 L324.3,315.1 L325.3,315.3 L326.3,315.4 L327.3,315.5 L328.3,315.6 L329.3,315.7 L330.3,315.8 L331.3,315.9 L332.3,316.0 L333.3,316.0 L334.3,316.1 L335.3,316.2 L336.3,316.2 L337.3,316.3 L338.3,316.3 L339.3,316.4 L340.3,316.4 L341.3,316.5 L342.3,316.6 L343.3,316.6 L344.3,316.6 L345.3,316.7 L346.3,316.7 L347.3,316.8 L348.3,316.8 L349.3,316.8 L350.3,316.9 L351.3,316.9 L352.3,316.9 L353.3,316.9 L354.3,316.9 L355.3,316.9 L356.3,316.9 L357.3,316.9 L358.3,316.9 L359.3,316.9 L360.3,316.9 L361.3,316.9 L362.3,316.9 L363.3,316.9 L364.3,316.9 L365.3,316.9 L366.3,316.9 L367.3,316.9 L368.3,316.9 L369.3,316.9 L370.3,316.9 L371.3,316.9 L372.3,316.9 L373.3,316.9 L374.3,316.9 L375.3,316.9 L376.3,316.9 L377.3,316.9 L378.3,316.9 L379.3,316.9 L380.3,316.9 L381.3,316.9 L382.3,316.9 L383.3,316.9 L384.3,316.9 L385.3,316.9 L386.3,316.9 L387.3,316.9 L388.3,316.9 L389.3,316.9 L390.3,316.9 L391.3,316.9 L392.3,316.9 L393.3,316.9 L394.3,316.9 L395.3,316.9 L396.3,316.9 L397.3,316.9 L398.3,316.9 L399.3,316.9 L400.3,316.9 L401.3,316.9 L402.3,316.9 L403.3,316.9 L404.2,316.9 L404.2,319.5 Z" fill="#fff" stroke="#f4f4f4" stroke-width="1.1" stroke-linejoin="round"/>
<path d="M161.3,319.5 L161.3,302.6 L162.3,302.0 L163.3,301.4 L164.3,300.8 L165.3,300.2 L166.3,299.6 L167.3,299.0 L168.3,298.4 L169.3,297.8 L170.3,297.1 L171.3,296.5 L172.3,295.8 L173.3,295.2 L174.3,294.5 L175.3,293.8 L176.3,293.1 L177.3,292.4 L178.3,291.7 L179.3,290.9 L180.3,290.2 L181.3,289.5 L182.3,288.8 L183.3,288.1 L184.3,287.5 L185.3,286.8 L186.3,286.2 L187.3,285.5 L188.3,284.9 L189.3,284.2 L190.3,283.7 L191.3,283.1 L192.3,282.6 L193.3,282.2 L194.3,281.7 L195.3,281.3 L196.3,280.9 L197.3,280.5 L198.3,280.1 L199.3,279.8 L200.3,279.5 L201.3,279.3 L202.3,279.1 L203.3,279.0 L204.3,278.9 L205.3,278.8 L206.3,278.7 L207.3,278.6 L208.3,278.5 L209.3,278.5 L210.3,278.5 L211.3,278.6 L212.3,278.7 L213.3,278.8 L214.3,279.1 L215.3,279.3 L216.3,279.6 L217.3,279.8 L218.3,280.1 L219.3,280.5 L220.3,280.9 L221.3,281.4 L222.3,282.0 L223.3,282.6 L224.3,283.2 L225.3,283.8 L226.3,284.4 L227.3,285.1 L228.3,285.9 L229.3,286.6 L230.3,287.3 L231.3,288.0 L232.3,288.7 L233.3,289.4 L234.3,290.1 L235.3,290.8 L236.3,291.5 L237.3,292.2 L238.3,292.9 L239.3,293.6 L240.3,294.3 L241.3,295.0 L242.3,295.7 L243.3,296.4 L244.3,297.1 L245.3,297.9 L246.3,298.6 L247.3,299.3 L248.3,299.9 L249.3,300.6 L250.3,301.2 L251.3,301.9 L252.3,302.5 L253.3,303.1 L254.3,303.7 L255.3,304.3 L256.3,304.9 L257.3,305.5 L258.3,306.0 L259.3,306.5 L260.3,307.0 L261.3,307.5 L262.3,308.0 L263.3,308.4 L264.3,308.9 L265.3,309.3 L266.3,309.7 L267.3,310.1 L268.3,310.5 L269.3,310.9 L270.3,311.3 L271.3,311.7 L272.3,312.0 L273.3,312.4 L274.3,312.7 L275.3,313.0 L276.3,313.3 L277.3,313.6 L278.3,313.8 L279.3,314.1 L280.3,314.3 L281.3,314.5 L282.3,314.7 L283.3,314.9 L284.3,315.1 L285.3,315.3 L286.3,315.4 L287.3,315.6 L288.3,315.7 L289.3,315.8 L290.3,315.9 L291.3,316.1 L292.3,316.2 L293.3,316.3 L294.3,316.4 L295.3,316.4 L296.3,316.5 L297.3,316.5 L298.3,316.5 L299.3,316.5 L300.3,316.5 L301.3,316.5 L302.3,316.5 L303.3,316.5 L304.3,316.5 L305.3,316.5 L306.3,316.5 L307.3,316.5 L308.3,316.5 L309.3,316.5 L310.3,316.5 L311.3,316.5 L312.3,316.5 L313.3,316.5 L314.3,316.5 L315.3,316.5 L316.3,316.5 L317.3,316.5 L318.3,316.5 L319.3,316.5 L320.3,316.5 L321.3,316.5 L322.3,316.5 L323.3,316.5 L324.3,316.5 L325.3,316.5 L326.3,316.5 L327.3,316.5 L328.3,316.5 L329.3,316.5 L330.3,316.5 L331.3,316.5 L332.3,316.5 L333.3,316.5 L334.3,316.5 L335.3,316.5 L336.3,316.5 L337.3,316.5 L338.3,316.5 L339.3,316.5 L340.3,316.5 L341.3,316.5 L342.3,316.5 L343.3,316.5 L344.3,316.5 L345.3,316.5 L346.3,316.5 L347.3,316.5 L348.3,316.5 L349.3,316.5 L350.3,316.5 L351.3,316.5 L352.3,316.5 L353.3,316.5 L354.3,316.5 L355.3,316.5 L356.3,316.5 L357.3,316.5 L358.3,316.5 L359.3,316.5 L360.3,316.5 L361.3,316.5 L362.3,316.5 L363.3,316.5 L364.3,316.5 L365.3,316.5 L366.3,316.5 L367.3,316.5 L368.3,316.5 L369.3,316.5 L370.3,316.5 L371.3,316.5 L372.3,316.5 L373.3,316.5 L374.3,316.5 L375.3,316.5 L376.3,316.5 L377.3,316.5 L378.3,316.5 L379.3,316.5 L380.3,316.5 L381.3,316.5 L382.3,316.5 L383.3,316.5 L384.3,316.5 L385.3,316.5 L386.3,316.5 L387.3,316.5 L388.3,316.5 L389.3,316.5 L390.3,316.5 L391.3,316.5 L392.3,316.5 L393.3,316.5 L394.3,316.5 L395.3,316.5 L396.3,316.5 L397.3,316.5 L398.3,316.5 L399.3,316.5 L400.3,316.5 L401.3,316.5 L402.3,316.5 L403.3,316.5 L404.2,316.5 L404.2,319.5 Z" fill="#fff" stroke="#f4f4f4" stroke-width="1.1" stroke-linejoin="round"/>
<path d="M161.3,319.5 L161.3,316.5 L162.3,316.4 L163.3,316.3 L164.3,316.2 L165.3,316.1 L166.3,316.0 L167.3,315.9 L168.3,315.8 L169.3,315.7 L170.3,315.5 L171.3,315.4 L172.3,315.3 L173.3,315.1 L174.3,315.0 L175.3,314.8 L176.3,314.6 L177.3,314.5 L178.3,314.3 L179.3,314.1 L180.3,313.9 L181.3,313.8 L182.3,313.6 L183.3,313.3 L184.3,313.1 L185.3,312.9 L186.3,312.7 L187.3,312.4 L188.3,312.2 L189.3,311.9 L190.3,311.6 L191.3,311.3 L192.3,311.0 L193.3,310.7 L194.3,310.3 L195.3,309.9 L196.3,309.5 L197.3,309.0 L198.3,308.5 L199.3,307.9 L200.3,307.4 L201.3,306.8 L202.3,306.2 L203.3,305.5 L204.3,304.8 L205.3,304.0 L206.3,303.2 L207.3,302.3 L208.3,301.5 L209.3,300.6 L210.3,299.8 L211.3,299.0 L212.3,298.2 L213.3,297.5 L214.3,296.7 L215.3,296.0 L216.3,295.3 L217.3,294.6 L218.3,293.9 L219.3,293.2 L220.3,292.5 L221.3,291.9 L222.3,291.2 L223.3,290.6 L224.3,289.9 L225.3,289.3 L226.3,288.7 L227.3,288.1 L228.3,287.6 L229.3,287.0 L230.3,286.6 L231.3,286.1 L232.3,285.6 L233.3,285.1 L234.3,284.7 L235.3,284.3 L236.3,283.9 L237.3,283.5 L238.3,283.2 L239.3,282.9 L240.3,282.7 L241.3,282.5 L242.3,282.3 L243.3,282.1 L244.3,281.9 L245.3,281.7 L246.3,281.6 L247.3,281.5 L248.3,281.4 L249.3,281.4 L250.3,281.4 L251.3,281.4 L252.3,281.5 L253.3,281.5 L254.3,281.5 L255.3,281.6 L256.3,281.6 L257.3,281.7 L258.3,281.8 L259.3,281.9 L260.3,282.1 L261.3,282.3 L262.3,282.6 L263.3,282.9 L264.3,283.3 L265.3,283.7 L266.3,284.1 L267.3,284.5 L268.3,284.9 L269.3,285.4 L270.3,286.0 L271.3,286.6 L272.3,287.2 L273.3,287.9 L274.3,288.6 L275.3,289.4 L276.3,290.1 L277.3,290.8 L278.3,291.6 L279.3,292.3 L280.3,293.1 L281.3,294.0 L282.3,294.8 L283.3,295.6 L284.3,296.5 L285.3,297.3 L286.3,298.0 L287.3,298.8 L288.3,299.5 L289.3,300.3 L290.3,301.0 L291.3,301.7 L292.3,302.4 L293.3,303.1 L294.3,303.8 L295.3,304.4 L296.3,305.0 L297.3,305.6 L298.3,306.2 L299.3,306.8 L300.3,307.4 L301.3,308.0 L302.3,308.5 L303.3,309.0 L304.3,309.5 L305.3,309.9 L306.3,310.4 L307.3,310.8 L308.3,311.1 L309.3,311.5 L310.3,311.8 L311.3,312.1 L312.3,312.5 L313.3,312.7 L314.3,313.0 L315.3,313.3 L316.3,313.5 L317.3,313.8 L318.3,314.0 L319.3,314.2 L320.3,314.4 L321.3,314.6 L322.3,314.8 L323.3,315.0 L324.3,315.1 L325.3,315.3 L326.3,315.4 L327.3,315.5 L328.3,315.6 L329.3,315.7 L330.3,315.8 L331.3,315.9 L332.3,316.0 L333.3,316.0 L334.3,316.1 L335.3,316.2 L336.3,316.2 L337.3,316.3 L338.3,316.3 L339.3,316.4 L340.3,316.4 L341.3,316.5 L342.3,316.6 L343.3,316.6 L344.3,316.6 L345.3,316.7 L346.3,316.7 L347.3,316.8 L348.3,316.8 L349.3,316.8 L350.3,316.9 L351.3,316.9 L352.3,316.9 L353.3,316.9 L354.3,316.9 L355.3,316.9 L356.3,316.9 L357.3,316.9 L358.3,316.9 L359.3,316.9 L360.3,316.9 L361.3,316.9 L362.3,316.9 L363.3,316.9 L364.3,316.9 L365.3,316.9 L366.3,316.9 L367.3,316.9 L368.3,316.9 L369.3,316.9 L370.3,316.9 L371.3,316.9 L372.3,316.9 L373.3,316.9 L374.3,316.9 L375.3,316.9 L376.3,316.9 L377.3,316.9 L378.3,316.9 L379.3,316.9 L380.3,316.9 L381.3,316.9 L382.3,316.9 L383.3,316.9 L384.3,316.9 L385.3,316.9 L386.3,316.9 L387.3,316.9 L388.3,316.9 L389.3,316.9 L390.3,316.9 L391.3,316.9 L392.3,316.9 L393.3,316.9 L394.3,316.9 L395.3,316.9 L396.3,316.9 L397.3,316.9 L398.3,316.9 L399.3,316.9 L400.3,316.9 L401.3,316.9 L402.3,316.9 L403.3,316.9 L404.2,316.9 L404.2,319.5 Z" fill="#1f77b4" fill-opacity="0.6"/>
<path d="M161.3,319.5 L161.3,302.6 L162.3,302.0 L163.3,301.4 L164.3,300.8 L165.3,300.2 L166.3,299.6 L167.3,299.0 L168.3,298.4 L169.3,297.8 L170.3,297.1 L171.3,296.5 L172.3,295.8 L173.3,295.2 L174.3,294.5 L175.3,293.8 L176.3,293.1 L177.3,292.4 L178.3,291.7 L179.3,290.9 L180.3,290.2 L181.3,289.5 L182.3,288.8 L183.3,288.1 L184.3,287.5 L185.3,286.8 L186.3,286.2 L187.3,285.5 L188.3,284.9 L189.3,284.2 L190.3,283.7 L191.3,283.1 L192.3,282.6 L193.3,282.2 L194.3,281.7 L195.3,281.3 L196.3,280.9 L197.3,280.5 L198.3,280.1 L199.3,279.8 L200.3,279.5 L201.3,279.3 L202.3,279.1 L203.3,279.0 L204.3,278.9 L205.3,278.8 L206.3,278.7 L207.3,278.6 L208.3,278.5 L209.3,278.5 L210.3,278.5 L211.3,278.6 L212.3,278.7 L213.3,278.8 L214.3,279.1 L215.3,279.3 L216.3,279.6 L217.3,279.8 L218.3,280.1 L219.3,280.5 L220.3,280.9 L221.3,281.4 L222.3,282.0 L223.3,282.6 L224.3,283.2 L225.3,283.8 L226.3,284.4 L227.3,285.1 L228.3,285.9 L229.3,286.6 L230.3,287.3 L231.3,288.0 L232.3,288.7 L233.3,289.4 L234.3,290.1 L235.3,290.8 L236.3,291.5 L237.3,292.2 L238.3,292.9 L239.3,293.6 L240.3,294.3 L241.3,295.0 L242.3,295.7 L243.3,296.4 L244.3,297.1 L245.3,297.9 L246.3,298.6 L247.3,299.3 L248.3,299.9 L249.3,300.6 L250.3,301.2 L251.3,301.9 L252.3,302.5 L253.3,303.1 L254.3,303.7 L255.3,304.3 L256.3,304.9 L257.3,305.5 L258.3,306.0 L259.3,306.5 L260.3,307.0 L261.3,307.5 L262.3,308.0 L263.3,308.4 L264.3,308.9 L265.3,309.3 L266.3,309.7 L267.3,310.1 L268.3,310.5 L269.3,310.9 L270.3,311.3 L271.3,311.7 L272.3,312.0 L273.3,312.4 L274.3,312.7 L275.3,313.0 L276.3,313.3 L277.3,313.6 L278.3,313.8 L279.3,314.1 L280.3,314.3 L281.3,314.5 L282.3,314.7 L283.3,314.9 L284.3,315.1 L285.3,315.3 L286.3,315.4 L287.3,315.6 L288.3,315.7 L289.3,315.8 L290.3,315.9 L291.3,316.1 L292.3,316.2 L293.3,316.3 L294.3,316.4 L295.3,316.4 L296.3,316.5 L297.3,316.5 L298.3,316.5 L299.3,316.5 L300.3,316.5 L301.3,316.5 L302.3,316.5 L303.3,316.5 L304.3,316.5 L305.3,316.5 L306.3,316.5 L307.3,316.5 L308.3,316.5 L309.3,316.5 L310.3,316.5 L311.3,316.5 L312.3,316.5 L313.3,316.5 L314.3,316.5 L315.3,316.5 L316.3,316.5 L317.3,316.5 L318.3,316.5 L319.3,316.5 L320.3,316.5 L321.3,316.5 L322.3,316.5 L323.3,316.5 L324.3,316.5 L325.3,316.5 L326.3,316.5 L327.3,316.5 L328.3,316.5 L329.3,316.5 L330.3,316.5 L331.3,316.5 L332.3,316.5 L333.3,316.5 L334.3,316.5 L335.3,316.5 L336.3,316.5 L337.3,316.5 L338.3,316.5 L339.3,316.5 L340.3,316.5 L341.3,316.5 L342.3,316.5 L343.3,316.5 L344.3,316.5 L345.3,316.5 L346.3,316.5 L347.3,316.5 L348.3,316.5 L349.3,316.5 L350.3,316.5 L351.3,316.5 L352.3,316.5 L353.3,316.5 L354.3,316.5 L355.3,316.5 L356.3,316.5 L357.3,316.5 L358.3,316.5 L359.3,316.5 L360.3,316.5 L361.3,316.5 L362.3,316.5 L363.3,316.5 L364.3,316.5 L365.3,316.5 L366.3,316.5 L367.3,316.5 L368.3,316.5 L369.3,316.5 L370.3,316.5 L371.3,316.5 L372.3,316.5 L373.3,316.5 L374.3,316.5 L375.3,316.5 L376.3,316.5 L377.3,316.5 L378.3,316.5 L379.3,316.5 L380.3,316.5 L381.3,316.5 L382.3,316.5 L383.3,316.5 L384.3,316.5 L385.3,316.5 L386.3,316.5 L387.3,316.5 L388.3,316.5 L389.3,316.5 L390.3,316.5 L391.3,316.5 L392.3,316.5 L393.3,316.5 L394.3,316.5 L395.3,316.5 L396.3,316.5 L397.3,316.5 L398.3,316.5 L399.3,316.5 L400.3,316.5 L401.3,316.5 L402.3,316.5 L403.3,316.5 L404.2,316.5 L404.2,319.5 Z" fill="#ff7f0e" fill-opacity="0.6"/>
<rect x="207.10" y="299.34" width="2" height="8.7" fill="#000"/>
<rect x="207.10" y="311.94" width="2" height="8.50" fill="#000"/>
<rect x="249.40" y="299.34" width="2" height="8.7" fill="#000"/>
<rect x="249.40" y="311.94" width="2" height="8.50" fill="#000"/>
<path d="M160.30,320.74 H405.00 M161.30,320.74 V326.74 M209.40,320.74 V326.74 M258.40,320.74 V326.74 M306.60,320.74 V326.74 M355.90,320.74 V326.74" stroke="#b0b0b0" stroke-width="2.6" fill="none"/>
<path d="M160.30,320.74 H405.00 M161.30,320.74 V326.74 M209.40,320.74 V326.74 M258.40,320.74 V326.74 M306.60,320.74 V326.74 M355.90,320.74 V326.74" stroke="#000" stroke-width="1.2" fill="none"/>
<path d="M379.00,276.20 L379.00,286.60 M374.50,278.80 L383.50,284.00 M383.50,278.80 L374.50,284.00" stroke="#d0d0d0" stroke-width="2.6" fill="none"/>
<path d="M379.00,276.20 L379.00,286.60 M374.50,278.80 L383.50,284.00 M383.50,278.80 L374.50,284.00" stroke="#000" stroke-width="0.9" fill="none"/>
<path d="M424.3,319.5 L424.3,308.0 L425.3,307.6 L426.3,307.2 L427.3,306.8 L428.3,306.3 L429.3,305.8 L430.3,305.3 L431.3,304.7 L432.3,304.2 L433.3,303.6 L434.3,303.0 L435.3,302.4 L436.3,301.7 L437.3,301.1 L438.3,300.4 L439.3,299.6 L440.3,298.8 L441.3,298.0 L442.3,297.1 L443.3,296.3 L444.3,295.4 L445.3,294.6 L446.3,293.8 L447.3,293.1 L448.3,292.4 L449.3,291.6 L450.3,290.9 L451.3,290.2 L452.3,289.5 L453.3,288.8 L454.3,288.2 L455.3,287.5 L456.3,286.9 L457.3,286.3 L458.3,285.6 L459.3,285.0 L460.3,284.4 L461.3,283.8 L462.3,283.2 L463.3,282.7 L464.3,282.2 L465.3,281.8 L466.3,281.5 L467.3,281.2 L468.3,280.9 L469.3,280.7 L470.3,280.5 L471.3,280.3 L472.3,280.0 L473.3,279.8 L474.3,279.6 L475.3,279.4 L476.3,279.2 L477.3,278.9 L478.3,278.7 L479.3,278.5 L480.3,278.5 L481.3,278.6 L482.3,278.7 L483.3,278.8 L484.3,279.0 L485.3,279.3 L486.3,279.5 L487.3,279.8 L488.3,280.1 L489.3,280.3 L490.3,280.6 L491.3,280.9 L492.3,281.3 L493.3,281.7 L494.3,282.1 L495.3,282.5 L496.3,282.9 L497.3,283.4 L498.3,283.9 L499.3,284.3 L500.3,284.9 L501.3,285.4 L502.3,286.0 L503.3,286.6 L504.3,287.2 L505.3,287.8 L506.3,288.5 L507.3,289.1 L508.3,289.8 L509.3,290.4 L510.3,291.1 L511.3,291.8 L512.3,292.5 L513.3,293.2 L514.3,293.9 L515.3,294.7 L516.3,295.4 L517.3,296.1 L518.3,296.8 L519.3,297.5 L520.3,298.3 L521.3,299.0 L522.3,299.7 L523.3,300.5 L524.3,301.2 L525.3,301.9 L526.3,302.5 L527.3,303.1 L528.3,303.7 L529.3,304.3 L530.3,304.8 L531.3,305.3 L532.3,305.9 L533.3,306.3 L534.3,306.8 L535.3,307.3 L536.3,307.7 L537.3,308.2 L538.3,308.6 L539.3,309.0 L540.3,309.5 L541.3,309.9 L542.3,310.3 L543.3,310.6 L544.3,311.0 L545.3,311.3 L546.3,311.7 L547.3,312.0 L548.3,312.3 L549.3,312.6 L550.3,312.9 L551.3,313.1 L552.3,313.4 L553.3,313.7 L554.3,313.9 L555.3,314.1 L556.3,314.3 L557.3,314.4 L558.3,314.6 L559.3,314.8 L560.3,314.9 L561.3,315.0 L562.3,315.2 L563.3,315.3 L564.3,315.4 L565.3,315.5 L566.3,315.6 L567.3,315.7 L568.3,315.8 L569.3,315.9 L570.3,316.0 L571.3,316.1 L572.3,316.1 L573.3,316.2 L574.3,316.3 L575.3,316.3 L576.3,316.3 L577.3,316.3 L578.3,316.3 L579.3,316.3 L580.3,316.3 L581.3,316.3 L582.3,316.3 L583.3,316.3 L584.3,316.3 L585.3,316.3 L586.3,316.3 L587.3,316.3 L588.3,316.3 L589.3,316.3 L590.3,316.3 L591.3,316.3 L592.3,316.3 L593.3,316.3 L594.3,316.3 L595.3,316.3 L596.3,316.3 L597.3,316.3 L598.3,316.3 L599.3,316.3 L600.3,316.3 L601.3,316.3 L602.3,316.3 L603.3,316.3 L604.3,316.3 L605.3,316.3 L606.3,316.3 L607.3,316.3 L608.3,316.3 L609.3,316.3 L610.3,316.3 L611.3,316.3 L612.3,316.3 L613.3,316.3 L614.3,316.3 L615.3,316.3 L616.3,316.3 L617.3,316.3 L618.3,316.3 L619.3,316.3 L620.3,316.3 L621.3,316.3 L622.3,316.3 L623.3,316.3 L624.3,316.3 L625.3,316.3 L626.3,316.3 L627.3,316.3 L628.3,316.3 L629.3,316.3 L630.3,316.3 L631.3,316.3 L632.3,316.3 L633.3,316.3 L634.3,316.3 L635.3,316.3 L636.3,316.3 L637.3,316.3 L638.3,316.3 L639.3,316.3 L640.3,316.3 L641.3,316.3 L642.3,316.3 L643.3,316.3 L644.3,316.3 L645.3,316.3 L646.3,316.3 L647.3,316.3 L648.3,316.3 L649.3,316.3 L650.3,316.3 L651.3,316.3 L652.3,316.3 L653.3,316.3 L654.3,316.3 L655.3,316.3 L656.3,316.3 L657.3,316.3 L658.3,316.3 L659.3,316.3 L660.3,316.3 L661.3,316.3 L662.3,316.3 L663.3,316.3 L664.3,316.3 L665.3,316.3 L666.3,316.3 L667.2,316.3 L667.2,319.5 Z" fill="#fff" stroke="#f4f4f4" stroke-width="1.1" stroke-linejoin="round"/>
<path d="M424.3,319.5 L424.3,303.8 L425.3,303.3 L426.3,302.8 L427.3,302.3 L428.3,301.7 L429.3,301.2 L430.3,300.6 L431.3,300.1 L432.3,299.5 L433.3,298.9 L434.3,298.3 L435.3,297.7 L436.3,297.0 L437.3,296.4 L438.3,295.7 L439.3,295.1 L440.3,294.3 L441.3,293.6 L442.3,292.9 L443.3,292.1 L444.3,291.4 L445.3,290.7 L446.3,290.0 L447.3,289.4 L448.3,288.7 L449.3,288.1 L450.3,287.4 L451.3,286.8 L452.3,286.2 L453.3,285.6 L454.3,285.1 L455.3,284.5 L456.3,284.1 L457.3,283.6 L458.3,283.1 L459.3,282.6 L460.3,282.1 L461.3,281.7 L462.3,281.3 L463.3,281.0 L464.3,280.7 L465.3,280.4 L466.3,280.2 L467.3,280.0 L468.3,279.8 L469.3,279.6 L470.3,279.5 L471.3,279.3 L472.3,279.2 L473.3,279.2 L474.3,279.1 L475.3,279.1 L476.3,279.1 L477.3,279.2 L478.3,279.3 L479.3,279.4 L480.3,279.5 L481.3,279.7 L482.3,279.9 L483.3,280.2 L484.3,280.5 L485.3,280.8 L486.3,281.1 L487.3,281.5 L488.3,281.9 L489.3,282.2 L490.3,282.6 L491.3,283.0 L492.3,283.5 L493.3,284.0 L494.3,284.5 L495.3,285.1 L496.3,285.6 L497.3,286.2 L498.3,286.7 L499.3,287.3 L500.3,287.8 L501.3,288.4 L502.3,289.0 L503.3,289.6 L504.3,290.2 L505.3,290.8 L506.3,291.4 L507.3,292.0 L508.3,292.7 L509.3,293.3 L510.3,294.0 L511.3,294.7 L512.3,295.4 L513.3,296.1 L514.3,296.8 L515.3,297.6 L516.3,298.3 L517.3,298.9 L518.3,299.6 L519.3,300.2 L520.3,300.9 L521.3,301.5 L522.3,302.1 L523.3,302.8 L524.3,303.4 L525.3,303.9 L526.3,304.5 L527.3,305.0 L528.3,305.6 L529.3,306.1 L530.3,306.6 L531.3,307.1 L532.3,307.5 L533.3,308.0 L534.3,308.4 L535.3,308.9 L536.3,309.3 L537.3,309.7 L538.3,310.0 L539.3,310.4 L540.3,310.8 L541.3,311.1 L542.3,311.5 L543.3,311.8 L544.3,312.1 L545.3,312.4 L546.3,312.7 L547.3,312.9 L548.3,313.2 L549.3,313.4 L550.3,313.7 L551.3,313.9 L552.3,314.1 L553.3,314.3 L554.3,314.5 L555.3,314.7 L556.3,314.9 L557.3,315.0 L558.3,315.1 L559.3,315.3 L560.3,315.4 L561.3,315.5 L562.3,315.6 L563.3,315.7 L564.3,315.8 L565.3,315.9 L566.3,316.0 L567.3,316.1 L568.3,316.1 L569.3,316.2 L570.3,316.3 L571.3,316.4 L572.3,316.4 L573.3,316.5 L574.3,316.6 L575.3,316.6 L576.3,316.6 L577.3,316.6 L578.3,316.6 L579.3,316.6 L580.3,316.6 L581.3,316.6 L582.3,316.6 L583.3,316.6 L584.3,316.6 L585.3,316.6 L586.3,316.6 L587.3,316.6 L588.3,316.6 L589.3,316.6 L590.3,316.6 L591.3,316.6 L592.3,316.6 L593.3,316.6 L594.3,316.6 L595.3,316.6 L596.3,316.6 L597.3,316.6 L598.3,316.6 L599.3,316.6 L600.3,316.6 L601.3,316.6 L602.3,316.6 L603.3,316.6 L604.3,316.6 L605.3,316.6 L606.3,316.6 L607.3,316.6 L608.3,316.6 L609.3,316.6 L610.3,316.6 L611.3,316.6 L612.3,316.6 L613.3,316.6 L614.3,316.6 L615.3,316.6 L616.3,316.6 L617.3,316.6 L618.3,316.6 L619.3,316.6 L620.3,316.6 L621.3,316.6 L622.3,316.6 L623.3,316.6 L624.3,316.6 L625.3,316.6 L626.3,316.6 L627.3,316.6 L628.3,316.6 L629.3,316.6 L630.3,316.6 L631.3,316.6 L632.3,316.6 L633.3,316.6 L634.3,316.6 L635.3,316.6 L636.3,316.6 L637.3,316.6 L638.3,316.6 L639.3,316.6 L640.3,316.6 L641.3,316.6 L642.3,316.6 L643.3,316.6 L644.3,316.6 L645.3,316.6 L646.3,316.6 L647.3,316.6 L648.3,316.6 L649.3,316.6 L650.3,316.6 L651.3,316.6 L652.3,316.6 L653.3,316.6 L654.3,316.6 L655.3,316.6 L656.3,316.6 L657.3,316.6 L658.3,316.6 L659.3,316.6 L660.3,316.6 L661.3,316.6 L662.3,316.6 L663.3,316.6 L664.3,316.6 L665.3,316.6 L666.3,316.6 L667.2,316.6 L667.2,319.5 Z" fill="#fff" stroke="#f4f4f4" stroke-width="1.1" stroke-linejoin="round"/>
<path d="M424.3,319.5 L424.3,308.0 L425.3,307.6 L426.3,307.2 L427.3,306.8 L428.3,306.3 L429.3,305.8 L430.3,305.3 L431.3,304.7 L432.3,304.2 L433.3,303.6 L434.3,303.0 L435.3,302.4 L436.3,301.7 L437.3,301.1 L438.3,300.4 L439.3,299.6 L440.3,298.8 L441.3,298.0 L442.3,297.1 L443.3,296.3 L444.3,295.4 L445.3,294.6 L446.3,293.8 L447.3,293.1 L448.3,292.4 L449.3,291.6 L450.3,290.9 L451.3,290.2 L452.3,289.5 L453.3,288.8 L454.3,288.2 L455.3,287.5 L456.3,286.9 L457.3,286.3 L458.3,285.6 L459.3,285.0 L460.3,284.4 L461.3,283.8 L462.3,283.2 L463.3,282.7 L464.3,282.2 L465.3,281.8 L466.3,281.5 L467.3,281.2 L468.3,280.9 L469.3,280.7 L470.3,280.5 L471.3,280.3 L472.3,280.0 L473.3,279.8 L474.3,279.6 L475.3,279.4 L476.3,279.2 L477.3,278.9 L478.3,278.7 L479.3,278.5 L480.3,278.5 L481.3,278.6 L482.3,278.7 L483.3,278.8 L484.3,279.0 L485.3,279.3 L486.3,279.5 L487.3,279.8 L488.3,280.1 L489.3,280.3 L490.3,280.6 L491.3,280.9 L492.3,281.3 L493.3,281.7 L494.3,282.1 L495.3,282.5 L496.3,282.9 L497.3,283.4 L498.3,283.9 L499.3,284.3 L500.3,284.9 L501.3,285.4 L502.3,286.0 L503.3,286.6 L504.3,287.2 L505.3,287.8 L506.3,288.5 L507.3,289.1 L508.3,289.8 L509.3,290.4 L510.3,291.1 L511.3,291.8 L512.3,292.5 L513.3,293.2 L514.3,293.9 L515.3,294.7 L516.3,295.4 L517.3,296.1 L518.3,296.8 L519.3,297.5 L520.3,298.3 L521.3,299.0 L522.3,299.7 L523.3,300.5 L524.3,301.2 L525.3,301.9 L526.3,302.5 L527.3,303.1 L528.3,303.7 L529.3,304.3 L530.3,304.8 L531.3,305.3 L532.3,305.9 L533.3,306.3 L534.3,306.8 L535.3,307.3 L536.3,307.7 L537.3,308.2 L538.3,308.6 L539.3,309.0 L540.3,309.5 L541.3,309.9 L542.3,310.3 L543.3,310.6 L544.3,311.0 L545.3,311.3 L546.3,311.7 L547.3,312.0 L548.3,312.3 L549.3,312.6 L550.3,312.9 L551.3,313.1 L552.3,313.4 L553.3,313.7 L554.3,313.9 L555.3,314.1 L556.3,314.3 L557.3,314.4 L558.3,314.6 L559.3,314.8 L560.3,314.9 L561.3,315.0 L562.3,315.2 L563.3,315.3 L564.3,315.4 L565.3,315.5 L566.3,315.6 L567.3,315.7 L568.3,315.8 L569.3,315.9 L570.3,316.0 L571.3,316.1 L572.3,316.1 L573.3,316.2 L574.3,316.3 L575.3,316.3 L576.3,316.3 L577.3,316.3 L578.3,316.3 L579.3,316.3 L580.3,316.3 L581.3,316.3 L582.3,316.3 L583.3,316.3 L584.3,316.3 L585.3,316.3 L586.3,316.3 L587.3,316.3 L588.3,316.3 L589.3,316.3 L590.3,316.3 L591.3,316.3 L592.3,316.3 L593.3,316.3 L594.3,316.3 L595.3,316.3 L596.3,316.3 L597.3,316.3 L598.3,316.3 L599.3,316.3 L600.3,316.3 L601.3,316.3 L602.3,316.3 L603.3,316.3 L604.3,316.3 L605.3,316.3 L606.3,316.3 L607.3,316.3 L608.3,316.3 L609.3,316.3 L610.3,316.3 L611.3,316.3 L612.3,316.3 L613.3,316.3 L614.3,316.3 L615.3,316.3 L616.3,316.3 L617.3,316.3 L618.3,316.3 L619.3,316.3 L620.3,316.3 L621.3,316.3 L622.3,316.3 L623.3,316.3 L624.3,316.3 L625.3,316.3 L626.3,316.3 L627.3,316.3 L628.3,316.3 L629.3,316.3 L630.3,316.3 L631.3,316.3 L632.3,316.3 L633.3,316.3 L634.3,316.3 L635.3,316.3 L636.3,316.3 L637.3,316.3 L638.3,316.3 L639.3,316.3 L640.3,316.3 L641.3,316.3 L642.3,316.3 L643.3,316.3 L644.3,316.3 L645.3,316.3 L646.3,316.3 L647.3,316.3 L648.3,316.3 L649.3,316.3 L650.3,316.3 L651.3,316.3 L652.3,316.3 L653.3,316.3 L654.3,316.3 L655.3,316.3 L656.3,316.3 L657.3,316.3 L658.3,316.3 L659.3,316.3 L660.3,316.3 L661.3,316.3 L662.3,316.3 L663.3,316.3 L664.3,316.3 L665.3,316.3 L666.3,316.3 L667.2,316.3 L667.2,319.5 Z" fill="#1f77b4" fill-opacity="0.6"/>
<path d="M424.3,319.5 L424.3,303.8 L425.3,303.3 L426.3,302.8 L427.3,302.3 L428.3,301.7 L429.3,301.2 L430.3,300.6 L431.3,300.1 L432.3,299.5 L433.3,298.9 L434.3,298.3 L435.3,297.7 L436.3,297.0 L437.3,296.4 L438.3,295.7 L439.3,295.1 L440.3,294.3 L441.3,293.6 L442.3,292.9 L443.3,292.1 L444.3,291.4 L445.3,290.7 L446.3,290.0 L447.3,289.4 L448.3,288.7 L449.3,288.1 L450.3,287.4 L451.3,286.8 L452.3,286.2 L453.3,285.6 L454.3,285.1 L455.3,284.5 L456.3,284.1 L457.3,283.6 L458.3,283.1 L459.3,282.6 L460.3,282.1 L461.3,281.7 L462.3,281.3 L463.3,281.0 L464.3,280.7 L465.3,280.4 L466.3,280.2 L467.3,280.0 L468.3,279.8 L469.3,279.6 L470.3,279.5 L471.3,279.3 L472.3,279.2 L473.3,279.2 L474.3,279.1 L475.3,279.1 L476.3,279.1 L477.3,279.2 L478.3,279.3 L479.3,279.4 L480.3,279.5 L481.3,279.7 L482.3,279.9 L483.3,280.2 L484.3,280.5 L485.3,280.8 L486.3,281.1 L487.3,281.5 L488.3,281.9 L489.3,282.2 L490.3,282.6 L491.3,283.0 L492.3,283.5 L493.3,284.0 L494.3,284.5 L495.3,285.1 L496.3,285.6 L497.3,286.2 L498.3,286.7 L499.3,287.3 L500.3,287.8 L501.3,288.4 L502.3,289.0 L503.3,289.6 L504.3,290.2 L505.3,290.8 L506.3,291.4 L507.3,292.0 L508.3,292.7 L509.3,293.3 L510.3,294.0 L511.3,294.7 L512.3,295.4 L513.3,296.1 L514.3,296.8 L515.3,297.6 L516.3,298.3 L517.3,298.9 L518.3,299.6 L519.3,300.2 L520.3,300.9 L521.3,301.5 L522.3,302.1 L523.3,302.8 L524.3,303.4 L525.3,303.9 L526.3,304.5 L527.3,305.0 L528.3,305.6 L529.3,306.1 L530.3,306.6 L531.3,307.1 L532.3,307.5 L533.3,308.0 L534.3,308.4 L535.3,308.9 L536.3,309.3 L537.3,309.7 L538.3,310.0 L539.3,310.4 L540.3,310.8 L541.3,311.1 L542.3,311.5 L543.3,311.8 L544.3,312.1 L545.3,312.4 L546.3,312.7 L547.3,312.9 L548.3,313.2 L549.3,313.4 L550.3,313.7 L551.3,313.9 L552.3,314.1 L553.3,314.3 L554.3,314.5 L555.3,314.7 L556.3,314.9 L557.3,315.0 L558.3,315.1 L559.3,315.3 L560.3,315.4 L561.3,315.5 L562.3,315.6 L563.3,315.7 L564.3,315.8 L565.3,315.9 L566.3,316.0 L567.3,316.1 L568.3,316.1 L569.3,316.2 L570.3,316.3 L571.3,316.4 L572.3,316.4 L573.3,316.5 L574.3,316.6 L575.3,316.6 L576.3,316.6 L577.3,316.6 L578.3,316.6 L579.3,316.6 L580.3,316.6 L581.3,316.6 L582.3,316.6 L583.3,316.6 L584.3,316.6 L585.3,316.6 L586.3,316.6 L587.3,316.6 L588.3,316.6 L589.3,316.6 L590.3,316.6 L591.3,316.6 L592.3,316.6 L593.3,316.6 L594.3,316.6 L595.3,316.6 L596.3,316.6 L597.3,316.6 L598.3,316.6 L599.3,316.6 L600.3,316.6 L601.3,316.6 L602.3,316.6 L603.3,316.6 L604.3,316.6 L605.3,316.6 L606.3,316.6 L607.3,316.6 L608.3,316.6 L609.3,316.6 L610.3,316.6 L611.3,316.6 L612.3,316.6 L613.3,316.6 L614.3,316.6 L615.3,316.6 L616.3,316.6 L617.3,316.6 L618.3,316.6 L619.3,316.6 L620.3,316.6 L621.3,316.6 L622.3,316.6 L623.3,316.6 L624.3,316.6 L625.3,316.6 L626.3,316.6 L627.3,316.6 L628.3,316.6 L629.3,316.6 L630.3,316.6 L631.3,316.6 L632.3,316.6 L633.3,316.6 L634.3,316.6 L635.3,316.6 L636.3,316.6 L637.3,316.6 L638.3,316.6 L639.3,316.6 L640.3,316.6 L641.3,316.6 L642.3,316.6 L643.3,316.6 L644.3,316.6 L645.3,316.6 L646.3,316.6 L647.3,316.6 L648.3,316.6 L649.3,316.6 L650.3,316.6 L651.3,316.6 L652.3,316.6 L653.3,316.6 L654.3,316.6 L655.3,316.6 L656.3,316.6 L657.3,316.6 L658.3,316.6 L659.3,316.6 L660.3,316.6 L661.3,316.6 L662.3,316.6 L663.3,316.6 L664.3,316.6 L665.3,316.6 L666.3,316.6 L667.2,316.6 L667.2,319.5 Z" fill="#ff7f0e" fill-opacity="0.6"/>
<rect x="473.40" y="299.34" width="2" height="8.7" fill="#000"/>
<rect x="473.40" y="311.94" width="2" height="8.50" fill="#000"/>
<rect x="480.20" y="299.34" width="2" height="8.7" fill="#000"/>
<rect x="480.20" y="311.94" width="2" height="8.50" fill="#000"/>
<path d="M423.30,320.74 H668.00 M441.50,320.74 V326.74 M472.60,320.74 V326.74 M522.40,320.74 V326.74 M569.60,320.74 V326.74 M617.20,320.74 V326.74" stroke="#b0b0b0" stroke-width="2.6" fill="none"/>
<path d="M423.30,320.74 H668.00 M441.50,320.74 V326.74 M472.60,320.74 V326.74 M522.40,320.74 V326.74 M569.60,320.74 V326.74 M617.20,320.74 V326.74" stroke="#000" stroke-width="1.2" fill="none"/>
<path d="M642.20,278.10 L642.20,288.50 M637.70,280.70 L646.70,285.90 M646.70,280.70 L637.70,285.90" stroke="#d0d0d0" stroke-width="2.6" fill="none"/>
<path d="M642.20,278.10 L642.20,288.50 M637.70,280.70 L646.70,285.90 M646.70,280.70 L637.70,285.90" stroke="#000" stroke-width="0.9" fill="none"/>
<path d="M161.3,370.9 L161.3,367.5 L162.3,367.4 L163.3,367.3 L164.3,367.2 L165.3,367.1 L166.3,366.9 L167.3,366.8 L168.3,366.6 L169.3,366.5 L170.3,366.3 L171.3,366.1 L172.3,365.9 L173.3,365.7 L174.3,365.5 L175.3,365.3 L176.3,365.1 L177.3,364.9 L178.3,364.6 L179.3,364.4 L180.3,364.1 L181.3,363.8 L182.3,363.6 L183.3,363.3 L184.3,363.0 L185.3,362.6 L186.3,362.3 L187.3,362.0 L188.3,361.6 L189.3,361.3 L190.3,360.9 L191.3,360.5 L192.3,360.2 L193.3,359.8 L194.3,359.4 L195.3,358.9 L196.3,358.5 L197.3,358.0 L198.3,357.4 L199.3,356.9 L200.3,356.4 L201.3,355.8 L202.3,355.3 L203.3,354.7 L204.3,354.1 L205.3,353.5 L206.3,352.8 L207.3,352.2 L208.3,351.5 L209.3,350.8 L210.3,350.2 L211.3,349.5 L212.3,348.8 L213.3,348.2 L214.3,347.5 L215.3,346.9 L216.3,346.2 L217.3,345.6 L218.3,344.9 L219.3,344.2 L220.3,343.6 L221.3,342.9 L222.3,342.1 L223.3,341.3 L224.3,340.5 L225.3,339.6 L226.3,338.8 L227.3,338.0 L228.3,337.4 L229.3,336.9 L230.3,336.5 L231.3,336.2 L232.3,335.9 L233.3,335.7 L234.3,335.5 L235.3,335.2 L236.3,335.1 L237.3,334.9 L238.3,334.8 L239.3,334.7 L240.3,334.6 L241.3,334.6 L242.3,334.5 L243.3,334.5 L244.3,334.4 L245.3,334.4 L246.3,334.3 L247.3,334.3 L248.3,334.3 L249.3,334.3 L250.3,334.3 L251.3,334.4 L252.3,334.5 L253.3,334.7 L254.3,334.9 L255.3,335.1 L256.3,335.3 L257.3,335.5 L258.3,335.8 L259.3,336.0 L260.3,336.3 L261.3,336.6 L262.3,337.0 L263.3,337.4 L264.3,337.9 L265.3,338.3 L266.3,338.8 L267.3,339.3 L268.3,339.7 L269.3,340.3 L270.3,340.8 L271.3,341.4 L272.3,342.0 L273.3,342.7 L274.3,343.3 L275.3,344.0 L276.3,344.6 L277.3,345.2 L278.3,345.9 L279.3,346.5 L280.3,347.2 L281.3,347.8 L282.3,348.5 L283.3,349.1 L284.3,349.8 L285.3,350.4 L286.3,351.0 L287.3,351.6 L288.3,352.2 L289.3,352.8 L290.3,353.4 L291.3,354.0 L292.3,354.5 L293.3,355.1 L294.3,355.6 L295.3,356.2 L296.3,356.7 L297.3,357.1 L298.3,357.6 L299.3,358.1 L300.3,358.5 L301.3,359.0 L302.3,359.4 L303.3,359.8 L304.3,360.2 L305.3,360.6 L306.3,360.9 L307.3,361.3 L308.3,361.7 L309.3,362.0 L310.3,362.4 L311.3,362.7 L312.3,363.0 L313.3,363.3 L314.3,363.6 L315.3,363.9 L316.3,364.1 L317.3,364.3 L318.3,364.6 L319.3,364.8 L320.3,365.0 L321.3,365.2 L322.3,365.4 L323.3,365.5 L324.3,365.7 L325.3,365.9 L326.3,366.0 L327.3,366.2 L328.3,366.4 L329.3,366.5 L330.3,366.7 L331.3,366.8 L332.3,366.9 L333.3,367.0 L334.3,367.1 L335.3,367.2 L336.3,367.2 L337.3,367.3 L338.3,367.4 L339.3,367.4 L340.3,367.5 L341.3,367.5 L342.3,367.6 L343.3,367.6 L344.3,367.7 L345.3,367.7 L346.3,367.8 L347.3,367.8 L348.3,367.8 L349.3,367.9 L350.3,367.9 L351.3,367.9 L352.3,367.9 L353.3,367.9 L354.3,367.9 L355.3,367.9 L356.3,367.9 L357.3,367.9 L358.3,367.9 L359.3,367.9 L360.3,367.9 L361.3,367.9 L362.3,367.9 L363.3,367.9 L364.3,367.9 L365.3,367.9 L366.3,367.9 L367.3,367.9 L368.3,367.9 L369.3,367.9 L370.3,367.9 L371.3,367.9 L372.3,367.9 L373.3,367.9 L374.3,367.9 L375.3,367.9 L376.3,367.9 L377.3,367.9 L378.3,367.9 L379.3,367.9 L380.3,367.9 L381.3,367.9 L382.3,367.9 L383.3,367.9 L384.3,367.9 L385.3,367.9 L386.3,367.9 L387.3,367.9 L388.3,367.9 L389.3,367.9 L390.3,367.9 L391.3,367.9 L392.3,367.9 L393.3,367.9 L394.3,367.9 L395.3,367.9 L396.3,367.9 L397.3,367.9 L398.3,367.9 L399.3,367.9 L400.3,367.9 L401.3,367.9 L402.3,367.9 L403.3,367.9 L404.2,367.9 L404.2,370.9 Z" fill="#fff" stroke="#f4f4f4" stroke-width="1.1" stroke-linejoin="round"/>
<path d="M161.3,370.9 L161.3,359.9 L162.3,359.5 L163.3,359.1 L164.3,358.7 L165.3,358.2 L166.3,357.7 L167.3,357.2 L168.3,356.7 L169.3,356.1 L170.3,355.6 L171.3,355.0 L172.3,354.4 L173.3,353.7 L174.3,353.1 L175.3,352.4 L176.3,351.7 L177.3,350.9 L178.3,350.1 L179.3,349.2 L180.3,348.4 L181.3,347.5 L182.3,346.7 L183.3,345.9 L184.3,345.1 L185.3,344.2 L186.3,343.4 L187.3,342.5 L188.3,341.7 L189.3,340.9 L190.3,340.1 L191.3,339.3 L192.3,338.6 L193.3,337.9 L194.3,337.2 L195.3,336.6 L196.3,335.9 L197.3,335.3 L198.3,334.7 L199.3,334.2 L200.3,333.7 L201.3,333.2 L202.3,332.8 L203.3,332.5 L204.3,332.1 L205.3,331.8 L206.3,331.5 L207.3,331.2 L208.3,331.0 L209.3,330.7 L210.3,330.6 L211.3,330.5 L212.3,330.5 L213.3,330.5 L214.3,330.5 L215.3,330.5 L216.3,330.5 L217.3,330.5 L218.3,330.5 L219.3,330.5 L220.3,330.6 L221.3,330.8 L222.3,331.1 L223.3,331.5 L224.3,332.0 L225.3,332.5 L226.3,332.9 L227.3,333.4 L228.3,333.9 L229.3,334.3 L230.3,334.8 L231.3,335.3 L232.3,335.8 L233.3,336.3 L234.3,336.9 L235.3,337.5 L236.3,338.2 L237.3,339.1 L238.3,339.9 L239.3,340.7 L240.3,341.5 L241.3,342.3 L242.3,343.2 L243.3,344.0 L244.3,344.8 L245.3,345.6 L246.3,346.4 L247.3,347.2 L248.3,348.0 L249.3,348.7 L250.3,349.5 L251.3,350.2 L252.3,351.0 L253.3,351.7 L254.3,352.4 L255.3,353.1 L256.3,353.8 L257.3,354.4 L258.3,355.1 L259.3,355.7 L260.3,356.3 L261.3,356.9 L262.3,357.5 L263.3,358.1 L264.3,358.7 L265.3,359.2 L266.3,359.7 L267.3,360.2 L268.3,360.6 L269.3,361.0 L270.3,361.4 L271.3,361.8 L272.3,362.1 L273.3,362.5 L274.3,362.8 L275.3,363.1 L276.3,363.4 L277.3,363.7 L278.3,364.0 L279.3,364.2 L280.3,364.5 L281.3,364.8 L282.3,365.0 L283.3,365.3 L284.3,365.5 L285.3,365.7 L286.3,365.9 L287.3,366.1 L288.3,366.2 L289.3,366.4 L290.3,366.5 L291.3,366.6 L292.3,366.8 L293.3,366.9 L294.3,367.0 L295.3,367.0 L296.3,367.1 L297.3,367.1 L298.3,367.1 L299.3,367.1 L300.3,367.1 L301.3,367.1 L302.3,367.1 L303.3,367.1 L304.3,367.1 L305.3,367.1 L306.3,367.1 L307.3,367.1 L308.3,367.1 L309.3,367.1 L310.3,367.1 L311.3,367.1 L312.3,367.1 L313.3,367.1 L314.3,367.1 L315.3,367.1 L316.3,367.1 L317.3,367.1 L318.3,367.1 L319.3,367.1 L320.3,367.1 L321.3,367.1 L322.3,367.1 L323.3,367.1 L324.3,367.1 L325.3,367.1 L326.3,367.1 L327.3,367.1 L328.3,367.1 L329.3,367.1 L330.3,367.1 L331.3,367.1 L332.3,367.1 L333.3,367.1 L334.3,367.1 L335.3,367.1 L336.3,367.1 L337.3,367.1 L338.3,367.1 L339.3,367.1 L340.3,367.1 L341.3,367.1 L342.3,367.1 L343.3,367.1 L344.3,367.1 L345.3,367.1 L346.3,367.1 L347.3,367.1 L348.3,367.1 L349.3,367.1 L350.3,367.1 L351.3,367.1 L352.3,367.1 L353.3,367.1 L354.3,367.1 L355.3,367.1 L356.3,367.1 L357.3,367.1 L358.3,367.1 L359.3,367.1 L360.3,367.1 L361.3,367.1 L362.3,367.1 L363.3,367.1 L364.3,367.1 L365.3,367.1 L366.3,367.1 L367.3,367.1 L368.3,367.1 L369.3,367.1 L370.3,367.1 L371.3,367.1 L372.3,367.1 L373.3,367.1 L374.3,367.1 L375.3,367.1 L376.3,367.1 L377.3,367.1 L378.3,367.1 L379.3,367.1 L380.3,367.1 L381.3,367.1 L382.3,367.1 L383.3,367.1 L384.3,367.1 L385.3,367.1 L386.3,367.1 L387.3,367.1 L388.3,367.1 L389.3,367.1 L390.3,367.1 L391.3,367.1 L392.3,367.1 L393.3,367.1 L394.3,367.1 L395.3,367.1 L396.3,367.1 L397.3,367.1 L398.3,367.1 L399.3,367.1 L400.3,367.1 L401.3,367.1 L402.3,367.1 L403.3,367.1 L404.2,367.1 L404.2,370.9 Z" fill="#fff" stroke="#f4f4f4" stroke-width="1.1" stroke-linejoin="round"/>
<path d="M161.3,370.9 L161.3,367.5 L162.3,367.4 L163.3,367.3 L164.3,367.2 L165.3,367.1 L166.3,366.9 L167.3,366.8 L168.3,366.6 L169.3,366.5 L170.3,366.3 L171.3,366.1 L172.3,365.9 L173.3,365.7 L174.3,365.5 L175.3,365.3 L176.3,365.1 L177.3,364.9 L178.3,364.6 L179.3,364.4 L180.3,364.1 L181.3,363.8 L182.3,363.6 L183.3,363.3 L184.3,363.0 L185.3,362.6 L186.3,362.3 L187.3,362.0 L188.3,361.6 L189.3,361.3 L190.3,360.9 L191.3,360.5 L192.3,360.2 L193.3,359.8 L194.3,359.4 L195.3,358.9 L196.3,358.5 L197.3,358.0 L198.3,357.4 L199.3,356.9 L200.3,356.4 L201.3,355.8 L202.3,355.3 L203.3,354.7 L204.3,354.1 L205.3,353.5 L206.3,352.8 L207.3,352.2 L208.3,351.5 L209.3,350.8 L210.3,350.2 L211.3,349.5 L212.3,348.8 L213.3,348.2 L214.3,347.5 L215.3,346.9 L216.3,346.2 L217.3,345.6 L218.3,344.9 L219.3,344.2 L220.3,343.6 L221.3,342.9 L222.3,342.1 L223.3,341.3 L224.3,340.5 L225.3,339.6 L226.3,338.8 L227.3,338.0 L228.3,337.4 L229.3,336.9 L230.3,336.5 L231.3,336.2 L232.3,335.9 L233.3,335.7 L234.3,335.5 L235.3,335.2 L236.3,335.1 L237.3,334.9 L238.3,334.8 L239.3,334.7 L240.3,334.6 L241.3,334.6 L242.3,334.5 L243.3,334.5 L244.3,334.4 L245.3,334.4 L246.3,334.3 L247.3,334.3 L248.3,334.3 L249.3,334.3 L250.3,334.3 L251.3,334.4 L252.3,334.5 L253.3,334.7 L254.3,334.9 L255.3,335.1 L256.3,335.3 L257.3,335.5 L258.3,335.8 L259.3,336.0 L260.3,336.3 L261.3,336.6 L262.3,337.0 L263.3,337.4 L264.3,337.9 L265.3,338.3 L266.3,338.8 L267.3,339.3 L268.3,339.7 L269.3,340.3 L270.3,340.8 L271.3,341.4 L272.3,342.0 L273.3,342.7 L274.3,343.3 L275.3,344.0 L276.3,344.6 L277.3,345.2 L278.3,345.9 L279.3,346.5 L280.3,347.2 L281.3,347.8 L282.3,348.5 L283.3,349.1 L284.3,349.8 L285.3,350.4 L286.3,351.0 L287.3,351.6 L288.3,352.2 L289.3,352.8 L290.3,353.4 L291.3,354.0 L292.3,354.5 L293.3,355.1 L294.3,355.6 L295.3,356.2 L296.3,356.7 L297.3,357.1 L298.3,357.6 L299.3,358.1 L300.3,358.5 L301.3,359.0 L302.3,359.4 L303.3,359.8 L304.3,360.2 L305.3,360.6 L306.3,360.9 L307.3,361.3 L308.3,361.7 L309.3,362.0 L310.3,362.4 L311.3,362.7 L312.3,363.0 L313.3,363.3 L314.3,363.6 L315.3,363.9 L316.3,364.1 L317.3,364.3 L318.3,364.6 L319.3,364.8 L320.3,365.0 L321.3,365.2 L322.3,365.4 L323.3,365.5 L324.3,365.7 L325.3,365.9 L326.3,366.0 L327.3,366.2 L328.3,366.4 L329.3,366.5 L330.3,366.7 L331.3,366.8 L332.3,366.9 L333.3,367.0 L334.3,367.1 L335.3,367.2 L336.3,367.2 L337.3,367.3 L338.3,367.4 L339.3,367.4 L340.3,367.5 L341.3,367.5 L342.3,367.6 L343.3,367.6 L344.3,367.7 L345.3,367.7 L346.3,367.8 L347.3,367.8 L348.3,367.8 L349.3,367.9 L350.3,367.9 L351.3,367.9 L352.3,367.9 L353.3,367.9 L354.3,367.9 L355.3,367.9 L356.3,367.9 L357.3,367.9 L358.3,367.9 L359.3,367.9 L360.3,367.9 L361.3,367.9 L362.3,367.9 L363.3,367.9 L364.3,367.9 L365.3,367.9 L366.3,367.9 L367.3,367.9 L368.3,367.9 L369.3,367.9 L370.3,367.9 L371.3,367.9 L372.3,367.9 L373.3,367.9 L374.3,367.9 L375.3,367.9 L376.3,367.9 L377.3,367.9 L378.3,367.9 L379.3,367.9 L380.3,367.9 L381.3,367.9 L382.3,367.9 L383.3,367.9 L384.3,367.9 L385.3,367.9 L386.3,367.9 L387.3,367.9 L388.3,367.9 L389.3,367.9 L390.3,367.9 L391.3,367.9 L392.3,367.9 L393.3,367.9 L394.3,367.9 L395.3,367.9 L396.3,367.9 L397.3,367.9 L398.3,367.9 L399.3,367.9 L400.3,367.9 L401.3,367.9 L402.3,367.9 L403.3,367.9 L404.2,367.9 L404.2,370.9 Z" fill="#1f77b4" fill-opacity="0.6"/>
<path d="M161.3,370.9 L161.3,359.9 L162.3,359.5 L163.3,359.1 L164.3,358.7 L165.3,358.2 L166.3,357.7 L167.3,357.2 L168.3,356.7 L169.3,356.1 L170.3,355.6 L171.3,355.0 L172.3,354.4 L173.3,353.7 L174.3,353.1 L175.3,352.4 L176.3,351.7 L177.3,350.9 L178.3,350.1 L179.3,349.2 L180.3,348.4 L181.3,347.5 L182.3,346.7 L183.3,345.9 L184.3,345.1 L185.3,344.2 L186.3,343.4 L187.3,342.5 L188.3,341.7 L189.3,340.9 L190.3,340.1 L191.3,339.3 L192.3,338.6 L193.3,337.9 L194.3,337.2 L195.3,336.6 L196.3,335.9 L197.3,335.3 L198.3,334.7 L199.3,334.2 L200.3,333.7 L201.3,333.2 L202.3,332.8 L203.3,332.5 L204.3,332.1 L205.3,331.8 L206.3,331.5 L207.3,331.2 L208.3,331.0 L209.3,330.7 L210.3,330.6 L211.3,330.5 L212.3,330.5 L213.3,330.5 L214.3,330.5 L215.3,330.5 L216.3,330.5 L217.3,330.5 L218.3,330.5 L219.3,330.5 L220.3,330.6 L221.3,330.8 L222.3,331.1 L223.3,331.5 L224.3,332.0 L225.3,332.5 L226.3,332.9 L227.3,333.4 L228.3,333.9 L229.3,334.3 L230.3,334.8 L231.3,335.3 L232.3,335.8 L233.3,336.3 L234.3,336.9 L235.3,337.5 L236.3,338.2 L237.3,339.1 L238.3,339.9 L239.3,340.7 L240.3,341.5 L241.3,342.3 L242.3,343.2 L243.3,344.0 L244.3,344.8 L245.3,345.6 L246.3,346.4 L247.3,347.2 L248.3,348.0 L249.3,348.7 L250.3,349.5 L251.3,350.2 L252.3,351.0 L253.3,351.7 L254.3,352.4 L255.3,353.1 L256.3,353.8 L257.3,354.4 L258.3,355.1 L259.3,355.7 L260.3,356.3 L261.3,356.9 L262.3,357.5 L263.3,358.1 L264.3,358.7 L265.3,359.2 L266.3,359.7 L267.3,360.2 L268.3,360.6 L269.3,361.0 L270.3,361.4 L271.3,361.8 L272.3,362.1 L273.3,362.5 L274.3,362.8 L275.3,363.1 L276.3,363.4 L277.3,363.7 L278.3,364.0 L279.3,364.2 L280.3,364.5 L281.3,364.8 L282.3,365.0 L283.3,365.3 L284.3,365.5 L285.3,365.7 L286.3,365.9 L287.3,366.1 L288.3,366.2 L289.3,366.4 L290.3,366.5 L291.3,366.6 L292.3,366.8 L293.3,366.9 L294.3,367.0 L295.3,367.0 L296.3,367.1 L297.3,367.1 L298.3,367.1 L299.3,367.1 L300.3,367.1 L301.3,367.1 L302.3,367.1 L303.3,367.1 L304.3,367.1 L305.3,367.1 L306.3,367.1 L307.3,367.1 L308.3,367.1 L309.3,367.1 L310.3,367.1 L311.3,367.1 L312.3,367.1 L313.3,367.1 L314.3,367.1 L315.3,367.1 L316.3,367.1 L317.3,367.1 L318.3,367.1 L319.3,367.1 L320.3,367.1 L321.3,367.1 L322.3,367.1 L323.3,367.1 L324.3,367.1 L325.3,367.1 L326.3,367.1 L327.3,367.1 L328.3,367.1 L329.3,367.1 L330.3,367.1 L331.3,367.1 L332.3,367.1 L333.3,367.1 L334.3,367.1 L335.3,367.1 L336.3,367.1 L337.3,367.1 L338.3,367.1 L339.3,367.1 L340.3,367.1 L341.3,367.1 L342.3,367.1 L343.3,367.1 L344.3,367.1 L345.3,367.1 L346.3,367.1 L347.3,367.1 L348.3,367.1 L349.3,367.1 L350.3,367.1 L351.3,367.1 L352.3,367.1 L353.3,367.1 L354.3,367.1 L355.3,367.1 L356.3,367.1 L357.3,367.1 L358.3,367.1 L359.3,367.1 L360.3,367.1 L361.3,367.1 L362.3,367.1 L363.3,367.1 L364.3,367.1 L365.3,367.1 L366.3,367.1 L367.3,367.1 L368.3,367.1 L369.3,367.1 L370.3,367.1 L371.3,367.1 L372.3,367.1 L373.3,367.1 L374.3,367.1 L375.3,367.1 L376.3,367.1 L377.3,367.1 L378.3,367.1 L379.3,367.1 L380.3,367.1 L381.3,367.1 L382.3,367.1 L383.3,367.1 L384.3,367.1 L385.3,367.1 L386.3,367.1 L387.3,367.1 L388.3,367.1 L389.3,367.1 L390.3,367.1 L391.3,367.1 L392.3,367.1 L393.3,367.1 L394.3,367.1 L395.3,367.1 L396.3,367.1 L397.3,367.1 L398.3,367.1 L399.3,367.1 L400.3,367.1 L401.3,367.1 L402.3,367.1 L403.3,367.1 L404.2,367.1 L404.2,370.9 Z" fill="#ff7f0e" fill-opacity="0.6"/>
<rect x="213.40" y="350.65" width="2" height="8.7" fill="#000"/>
<rect x="213.40" y="363.25" width="2" height="8.50" fill="#000"/>
<rect x="245.10" y="350.65" width="2" height="8.7" fill="#000"/>
<rect x="245.10" y="363.25" width="2" height="8.50" fill="#000"/>
<path d="M160.30,372.05 H405.00 M161.30,372.05 V378.05 M209.40,372.05 V378.05 M258.40,372.05 V378.05 M306.60,372.05 V378.05 M355.90,372.05 V378.05" stroke="#b0b0b0" stroke-width="2.6" fill="none"/>
<path d="M160.30,372.05 H405.00 M161.30,372.05 V378.05 M209.40,372.05 V378.05 M258.40,372.05 V378.05 M306.60,372.05 V378.05 M355.90,372.05 V378.05" stroke="#000" stroke-width="1.2" fill="none"/>
<path d="M379.00,329.10 L379.00,339.50 M374.50,331.70 L383.50,336.90 M383.50,331.70 L374.50,336.90" stroke="#d0d0d0" stroke-width="2.6" fill="none"/>
<path d="M379.00,329.10 L379.00,339.50 M374.50,331.70 L383.50,336.90 M383.50,331.70 L374.50,336.90" stroke="#000" stroke-width="0.9" fill="none"/>
<path d="M424.3,370.9 L424.3,361.2 L425.3,360.8 L426.3,360.3 L427.3,359.9 L428.3,359.4 L429.3,358.9 L430.3,358.4 L431.3,357.9 L432.3,357.4 L433.3,356.9 L434.3,356.3 L435.3,355.8 L436.3,355.2 L437.3,354.6 L438.3,354.0 L439.3,353.4 L440.3,352.8 L441.3,352.1 L442.3,351.5 L443.3,350.8 L444.3,350.1 L445.3,349.4 L446.3,348.6 L447.3,347.9 L448.3,347.1 L449.3,346.3 L450.3,345.5 L451.3,344.7 L452.3,343.9 L453.3,343.1 L454.3,342.2 L455.3,341.4 L456.3,340.7 L457.3,339.9 L458.3,339.0 L459.3,338.2 L460.3,337.3 L461.3,336.5 L462.3,335.8 L463.3,335.1 L464.3,334.5 L465.3,333.9 L466.3,333.5 L467.3,333.1 L468.3,332.7 L469.3,332.4 L470.3,332.1 L471.3,331.8 L472.3,331.5 L473.3,331.3 L474.3,331.0 L475.3,330.8 L476.3,330.6 L477.3,330.4 L478.3,330.2 L479.3,330.1 L480.3,330.1 L481.3,330.2 L482.3,330.3 L483.3,330.5 L484.3,330.7 L485.3,331.0 L486.3,331.3 L487.3,331.6 L488.3,332.0 L489.3,332.3 L490.3,332.7 L491.3,333.2 L492.3,333.9 L493.3,334.5 L494.3,335.3 L495.3,336.1 L496.3,336.9 L497.3,337.7 L498.3,338.5 L499.3,339.2 L500.3,340.0 L501.3,340.7 L502.3,341.5 L503.3,342.3 L504.3,343.1 L505.3,343.9 L506.3,344.7 L507.3,345.5 L508.3,346.3 L509.3,347.0 L510.3,347.7 L511.3,348.5 L512.3,349.2 L513.3,350.0 L514.3,350.7 L515.3,351.4 L516.3,352.0 L517.3,352.7 L518.3,353.3 L519.3,353.9 L520.3,354.4 L521.3,354.9 L522.3,355.5 L523.3,356.0 L524.3,356.5 L525.3,356.9 L526.3,357.4 L527.3,357.9 L528.3,358.3 L529.3,358.7 L530.3,359.2 L531.3,359.6 L532.3,360.0 L533.3,360.4 L534.3,360.8 L535.3,361.2 L536.3,361.5 L537.3,361.8 L538.3,362.1 L539.3,362.4 L540.3,362.7 L541.3,363.0 L542.3,363.2 L543.3,363.5 L544.3,363.7 L545.3,363.9 L546.3,364.2 L547.3,364.4 L548.3,364.6 L549.3,364.9 L550.3,365.1 L551.3,365.3 L552.3,365.5 L553.3,365.7 L554.3,365.9 L555.3,366.0 L556.3,366.2 L557.3,366.3 L558.3,366.4 L559.3,366.5 L560.3,366.6 L561.3,366.7 L562.3,366.8 L563.3,366.9 L564.3,367.0 L565.3,367.1 L566.3,367.2 L567.3,367.3 L568.3,367.3 L569.3,367.4 L570.3,367.5 L571.3,367.6 L572.3,367.6 L573.3,367.7 L574.3,367.8 L575.3,367.8 L576.3,367.8 L577.3,367.8 L578.3,367.8 L579.3,367.8 L580.3,367.8 L581.3,367.8 L582.3,367.8 L583.3,367.8 L584.3,367.8 L585.3,367.8 L586.3,367.8 L587.3,367.8 L588.3,367.8 L589.3,367.8 L590.3,367.8 L591.3,367.8 L592.3,367.8 L593.3,367.8 L594.3,367.8 L595.3,367.8 L596.3,367.8 L597.3,367.8 L598.3,367.8 L599.3,367.8 L600.3,367.8 L601.3,367.8 L602.3,367.8 L603.3,367.8 L604.3,367.8 L605.3,367.8 L606.3,367.8 L607.3,367.8 L608.3,367.8 L609.3,367.8 L610.3,367.8 L611.3,367.8 L612.3,367.8 L613.3,367.8 L614.3,367.8 L615.3,367.8 L616.3,367.8 L617.3,367.8 L618.3,367.8 L619.3,367.8 L620.3,367.8 L621.3,367.8 L622.3,367.8 L623.3,367.8 L624.3,367.8 L625.3,367.8 L626.3,367.8 L627.3,367.8 L628.3,367.8 L629.3,367.8 L630.3,367.8 L631.3,367.8 L632.3,367.8 L633.3,367.8 L634.3,367.8 L635.3,367.8 L636.3,367.8 L637.3,367.8 L638.3,367.8 L639.3,367.8 L640.3,367.8 L641.3,367.8 L642.3,367.8 L643.3,367.8 L644.3,367.8 L645.3,367.8 L646.3,367.8 L647.3,367.8 L648.3,367.8 L649.3,367.8 L650.3,367.8 L651.3,367.8 L652.3,367.8 L653.3,367.8 L654.3,367.8 L655.3,367.8 L656.3,367.8 L657.3,367.8 L658.3,367.8 L659.3,367.8 L660.3,367.8 L661.3,367.8 L662.3,367.8 L663.3,367.8 L664.3,367.8 L665.3,367.8 L666.3,367.8 L667.2,367.8 L667.2,370.9 Z" fill="#fff" stroke="#f4f4f4" stroke-width="1.1" stroke-linejoin="round"/>
<path d="M424.3,370.9 L424.3,359.9 L425.3,359.5 L426.3,359.1 L427.3,358.7 L428.3,358.2 L429.3,357.8 L430.3,357.4 L431.3,356.9 L432.3,356.4 L433.3,356.0 L434.3,355.5 L435.3,355.0 L436.3,354.5 L437.3,354.1 L438.3,353.6 L439.3,353.0 L440.3,352.5 L441.3,352.0 L442.3,351.4 L443.3,350.9 L444.3,350.3 L445.3,349.8 L446.3,349.2 L447.3,348.6 L448.3,348.0 L449.3,347.4 L450.3,346.8 L451.3,346.2 L452.3,345.5 L453.3,344.9 L454.3,344.3 L455.3,343.8 L456.3,343.2 L457.3,342.7 L458.3,342.2 L459.3,341.6 L460.3,341.1 L461.3,340.6 L462.3,340.2 L463.3,339.7 L464.3,339.3 L465.3,339.0 L466.3,338.8 L467.3,338.5 L468.3,338.3 L469.3,338.1 L470.3,337.9 L471.3,337.7 L472.3,337.6 L473.3,337.4 L474.3,337.2 L475.3,337.0 L476.3,336.8 L477.3,336.6 L478.3,336.4 L479.3,336.2 L480.3,336.2 L481.3,336.2 L482.3,336.3 L483.3,336.4 L484.3,336.6 L485.3,336.8 L486.3,337.0 L487.3,337.2 L488.3,337.4 L489.3,337.7 L490.3,337.9 L491.3,338.2 L492.3,338.6 L493.3,339.0 L494.3,339.5 L495.3,340.0 L496.3,340.5 L497.3,341.0 L498.3,341.5 L499.3,342.1 L500.3,342.6 L501.3,343.2 L502.3,343.8 L503.3,344.4 L504.3,345.0 L505.3,345.6 L506.3,346.2 L507.3,346.9 L508.3,347.5 L509.3,348.1 L510.3,348.7 L511.3,349.3 L512.3,349.9 L513.3,350.5 L514.3,351.2 L515.3,351.8 L516.3,352.3 L517.3,352.9 L518.3,353.5 L519.3,354.0 L520.3,354.5 L521.3,355.1 L522.3,355.6 L523.3,356.1 L524.3,356.6 L525.3,357.0 L526.3,357.5 L527.3,358.0 L528.3,358.4 L529.3,358.8 L530.3,359.3 L531.3,359.7 L532.3,360.1 L533.3,360.5 L534.3,360.9 L535.3,361.3 L536.3,361.6 L537.3,361.9 L538.3,362.2 L539.3,362.5 L540.3,362.8 L541.3,363.1 L542.3,363.3 L543.3,363.6 L544.3,363.8 L545.3,364.0 L546.3,364.3 L547.3,364.5 L548.3,364.7 L549.3,365.0 L550.3,365.2 L551.3,365.4 L552.3,365.6 L553.3,365.8 L554.3,366.0 L555.3,366.1 L556.3,366.3 L557.3,366.4 L558.3,366.5 L559.3,366.6 L560.3,366.7 L561.3,366.8 L562.3,366.8 L563.3,366.9 L564.3,367.0 L565.3,367.1 L566.3,367.2 L567.3,367.3 L568.3,367.3 L569.3,367.4 L570.3,367.5 L571.3,367.6 L572.3,367.6 L573.3,367.7 L574.3,367.8 L575.3,367.8 L576.3,367.8 L577.3,367.8 L578.3,367.8 L579.3,367.8 L580.3,367.8 L581.3,367.8 L582.3,367.8 L583.3,367.8 L584.3,367.8 L585.3,367.8 L586.3,367.8 L587.3,367.8 L588.3,367.8 L589.3,367.8 L590.3,367.8 L591.3,367.8 L592.3,367.8 L593.3,367.8 L594.3,367.8 L595.3,367.8 L596.3,367.8 L597.3,367.8 L598.3,367.8 L599.3,367.8 L600.3,367.8 L601.3,367.8 L602.3,367.8 L603.3,367.8 L604.3,367.8 L605.3,367.8 L606.3,367.8 L607.3,367.8 L608.3,367.8 L609.3,367.8 L610.3,367.8 L611.3,367.8 L612.3,367.8 L613.3,367.8 L614.3,367.8 L615.3,367.8 L616.3,367.8 L617.3,367.8 L618.3,367.8 L619.3,367.8 L620.3,367.8 L621.3,367.8 L622.3,367.8 L623.3,367.8 L624.3,367.8 L625.3,367.8 L626.3,367.8 L627.3,367.8 L628.3,367.8 L629.3,367.8 L630.3,367.8 L631.3,367.8 L632.3,367.8 L633.3,367.8 L634.3,367.8 L635.3,367.8 L636.3,367.8 L637.3,367.8 L638.3,367.8 L639.3,367.8 L640.3,367.8 L641.3,367.8 L642.3,367.8 L643.3,367.8 L644.3,367.8 L645.3,367.8 L646.3,367.8 L647.3,367.8 L648.3,367.8 L649.3,367.8 L650.3,367.8 L651.3,367.8 L652.3,367.8 L653.3,367.8 L654.3,367.8 L655.3,367.8 L656.3,367.8 L657.3,367.8 L658.3,367.8 L659.3,367.8 L660.3,367.8 L661.3,367.8 L662.3,367.8 L663.3,367.8 L664.3,367.8 L665.3,367.8 L666.3,367.8 L667.2,367.8 L667.2,370.9 Z" fill="#fff" stroke="#f4f4f4" stroke-width="1.1" stroke-linejoin="round"/>
<path d="M424.3,370.9 L424.3,361.2 L425.3,360.8 L426.3,360.3 L427.3,359.9 L428.3,359.4 L429.3,358.9 L430.3,358.4 L431.3,357.9 L432.3,357.4 L433.3,356.9 L434.3,356.3 L435.3,355.8 L436.3,355.2 L437.3,354.6 L438.3,354.0 L439.3,353.4 L440.3,352.8 L441.3,352.1 L442.3,351.5 L443.3,350.8 L444.3,350.1 L445.3,349.4 L446.3,348.6 L447.3,347.9 L448.3,347.1 L449.3,346.3 L450.3,345.5 L451.3,344.7 L452.3,343.9 L453.3,343.1 L454.3,342.2 L455.3,341.4 L456.3,340.7 L457.3,339.9 L458.3,339.0 L459.3,338.2 L460.3,337.3 L461.3,336.5 L462.3,335.8 L463.3,335.1 L464.3,334.5 L465.3,333.9 L466.3,333.5 L467.3,333.1 L468.3,332.7 L469.3,332.4 L470.3,332.1 L471.3,331.8 L472.3,331.5 L473.3,331.3 L474.3,331.0 L475.3,330.8 L476.3,330.6 L477.3,330.4 L478.3,330.2 L479.3,330.1 L480.3,330.1 L481.3,330.2 L482.3,330.3 L483.3,330.5 L484.3,330.7 L485.3,331.0 L486.3,331.3 L487.3,331.6 L488.3,332.0 L489.3,332.3 L490.3,332.7 L491.3,333.2 L492.3,333.9 L493.3,334.5 L494.3,335.3 L495.3,336.1 L496.3,336.9 L497.3,337.7 L498.3,338.5 L499.3,339.2 L500.3,340.0 L501.3,340.7 L502.3,341.5 L503.3,342.3 L504.3,343.1 L505.3,343.9 L506.3,344.7 L507.3,345.5 L508.3,346.3 L509.3,347.0 L510.3,347.7 L511.3,348.5 L512.3,349.2 L513.3,350.0 L514.3,350.7 L515.3,351.4 L516.3,352.0 L517.3,352.7 L518.3,353.3 L519.3,353.9 L520.3,354.4 L521.3,354.9 L522.3,355.5 L523.3,356.0 L524.3,356.5 L525.3,356.9 L526.3,357.4 L527.3,357.9 L528.3,358.3 L529.3,358.7 L530.3,359.2 L531.3,359.6 L532.3,360.0 L533.3,360.4 L534.3,360.8 L535.3,361.2 L536.3,361.5 L537.3,361.8 L538.3,362.1 L539.3,362.4 L540.3,362.7 L541.3,363.0 L542.3,363.2 L543.3,363.5 L544.3,363.7 L545.3,363.9 L546.3,364.2 L547.3,364.4 L548.3,364.6 L549.3,364.9 L550.3,365.1 L551.3,365.3 L552.3,365.5 L553.3,365.7 L554.3,365.9 L555.3,366.0 L556.3,366.2 L557.3,366.3 L558.3,366.4 L559.3,366.5 L560.3,366.6 L561.3,366.7 L562.3,366.8 L563.3,366.9 L564.3,367.0 L565.3,367.1 L566.3,367.2 L567.3,367.3 L568.3,367.3 L569.3,367.4 L570.3,367.5 L571.3,367.6 L572.3,367.6 L573.3,367.7 L574.3,367.8 L575.3,367.8 L576.3,367.8 L577.3,367.8 L578.3,367.8 L579.3,367.8 L580.3,367.8 L581.3,367.8 L582.3,367.8 L583.3,367.8 L584.3,367.8 L585.3,367.8 L586.3,367.8 L587.3,367.8 L588.3,367.8 L589.3,367.8 L590.3,367.8 L591.3,367.8 L592.3,367.8 L593.3,367.8 L594.3,367.8 L595.3,367.8 L596.3,367.8 L597.3,367.8 L598.3,367.8 L599.3,367.8 L600.3,367.8 L601.3,367.8 L602.3,367.8 L603.3,367.8 L604.3,367.8 L605.3,367.8 L606.3,367.8 L607.3,367.8 L608.3,367.8 L609.3,367.8 L610.3,367.8 L611.3,367.8 L612.3,367.8 L613.3,367.8 L614.3,367.8 L615.3,367.8 L616.3,367.8 L617.3,367.8 L618.3,367.8 L619.3,367.8 L620.3,367.8 L621.3,367.8 L622.3,367.8 L623.3,367.8 L624.3,367.8 L625.3,367.8 L626.3,367.8 L627.3,367.8 L628.3,367.8 L629.3,367.8 L630.3,367.8 L631.3,367.8 L632.3,367.8 L633.3,367.8 L634.3,367.8 L635.3,367.8 L636.3,367.8 L637.3,367.8 L638.3,367.8 L639.3,367.8 L640.3,367.8 L641.3,367.8 L642.3,367.8 L643.3,367.8 L644.3,367.8 L645.3,367.8 L646.3,367.8 L647.3,367.8 L648.3,367.8 L649.3,367.8 L650.3,367.8 L651.3,367.8 L652.3,367.8 L653.3,367.8 L654.3,367.8 L655.3,367.8 L656.3,367.8 L657.3,367.8 L658.3,367.8 L659.3,367.8 L660.3,367.8 L661.3,367.8 L662.3,367.8 L663.3,367.8 L664.3,367.8 L665.3,367.8 L666.3,367.8 L667.2,367.8 L667.2,370.9 Z" fill="#1f77b4" fill-opacity="0.6"/>
<path d="M424.3,370.9 L424.3,359.9 L425.3,359.5 L426.3,359.1 L427.3,358.7 L428.3,358.2 L429.3,357.8 L430.3,357.4 L431.3,356.9 L432.3,356.4 L433.3,356.0 L434.3,355.5 L435.3,355.0 L436.3,354.5 L437.3,354.1 L438.3,353.6 L439.3,353.0 L440.3,352.5 L441.3,352.0 L442.3,351.4 L443.3,350.9 L444.3,350.3 L445.3,349.8 L446.3,349.2 L447.3,348.6 L448.3,348.0 L449.3,347.4 L450.3,346.8 L451.3,346.2 L452.3,345.5 L453.3,344.9 L454.3,344.3 L455.3,343.8 L456.3,343.2 L457.3,342.7 L458.3,342.2 L459.3,341.6 L460.3,341.1 L461.3,340.6 L462.3,340.2 L463.3,339.7 L464.3,339.3 L465.3,339.0 L466.3,338.8 L467.3,338.5 L468.3,338.3 L469.3,338.1 L470.3,337.9 L471.3,337.7 L472.3,337.6 L473.3,337.4 L474.3,337.2 L475.3,337.0 L476.3,336.8 L477.3,336.6 L478.3,336.4 L479.3,336.2 L480.3,336.2 L481.3,336.2 L482.3,336.3 L483.3,336.4 L484.3,336.6 L485.3,336.8 L486.3,337.0 L487.3,337.2 L488.3,337.4 L489.3,337.7 L490.3,337.9 L491.3,338.2 L492.3,338.6 L493.3,339.0 L494.3,339.5 L495.3,340.0 L496.3,340.5 L497.3,341.0 L498.3,341.5 L499.3,342.1 L500.3,342.6 L501.3,343.2 L502.3,343.8 L503.3,344.4 L504.3,345.0 L505.3,345.6 L506.3,346.2 L507.3,346.9 L508.3,347.5 L509.3,348.1 L510.3,348.7 L511.3,349.3 L512.3,349.9 L513.3,350.5 L514.3,351.2 L515.3,351.8 L516.3,352.3 L517.3,352.9 L518.3,353.5 L519.3,354.0 L520.3,354.5 L521.3,355.1 L522.3,355.6 L523.3,356.1 L524.3,356.6 L525.3,357.0 L526.3,357.5 L527.3,358.0 L528.3,358.4 L529.3,358.8 L530.3,359.3 L531.3,359.7 L532.3,360.1 L533.3,360.5 L534.3,360.9 L535.3,361.3 L536.3,361.6 L537.3,361.9 L538.3,362.2 L539.3,362.5 L540.3,362.8 L541.3,363.1 L542.3,363.3 L543.3,363.6 L544.3,363.8 L545.3,364.0 L546.3,364.3 L547.3,364.5 L548.3,364.7 L549.3,365.0 L550.3,365.2 L551.3,365.4 L552.3,365.6 L553.3,365.8 L554.3,366.0 L555.3,366.1 L556.3,366.3 L557.3,366.4 L558.3,366.5 L559.3,366.6 L560.3,366.7 L561.3,366.8 L562.3,366.8 L563.3,366.9 L564.3,367.0 L565.3,367.1 L566.3,367.2 L567.3,367.3 L568.3,367.3 L569.3,367.4 L570.3,367.5 L571.3,367.6 L572.3,367.6 L573.3,367.7 L574.3,367.8 L575.3,367.8 L576.3,367.8 L577.3,367.8 L578.3,367.8 L579.3,367.8 L580.3,367.8 L581.3,367.8 L582.3,367.8 L583.3,367.8 L584.3,367.8 L585.3,367.8 L586.3,367.8 L587.3,367.8 L588.3,367.8 L589.3,367.8 L590.3,367.8 L591.3,367.8 L592.3,367.8 L593.3,367.8 L594.3,367.8 L595.3,367.8 L596.3,367.8 L597.3,367.8 L598.3,367.8 L599.3,367.8 L600.3,367.8 L601.3,367.8 L602.3,367.8 L603.3,367.8 L604.3,367.8 L605.3,367.8 L606.3,367.8 L607.3,367.8 L608.3,367.8 L609.3,367.8 L610.3,367.8 L611.3,367.8 L612.3,367.8 L613.3,367.8 L614.3,367.8 L615.3,367.8 L616.3,367.8 L617.3,367.8 L618.3,367.8 L619.3,367.8 L620.3,367.8 L621.3,367.8 L622.3,367.8 L623.3,367.8 L624.3,367.8 L625.3,367.8 L626.3,367.8 L627.3,367.8 L628.3,367.8 L629.3,367.8 L630.3,367.8 L631.3,367.8 L632.3,367.8 L633.3,367.8 L634.3,367.8 L635.3,367.8 L636.3,367.8 L637.3,367.8 L638.3,367.8 L639.3,367.8 L640.3,367.8 L641.3,367.8 L642.3,367.8 L643.3,367.8 L644.3,367.8 L645.3,367.8 L646.3,367.8 L647.3,367.8 L648.3,367.8 L649.3,367.8 L650.3,367.8 L651.3,367.8 L652.3,367.8 L653.3,367.8 L654.3,367.8 L655.3,367.8 L656.3,367.8 L657.3,367.8 L658.3,367.8 L659.3,367.8 L660.3,367.8 L661.3,367.8 L662.3,367.8 L663.3,367.8 L664.3,367.8 L665.3,367.8 L666.3,367.8 L667.2,367.8 L667.2,370.9 Z" fill="#ff7f0e" fill-opacity="0.6"/>
<rect x="478.30" y="350.65" width="2" height="8.7" fill="#000"/>
<rect x="478.30" y="363.25" width="2" height="8.50" fill="#000"/>
<rect x="480.10" y="350.65" width="2" height="8.7" fill="#000"/>
<rect x="480.10" y="363.25" width="2" height="8.50" fill="#000"/>
<path d="M423.30,372.05 H668.00 M441.50,372.05 V378.05 M472.60,372.05 V378.05 M522.40,372.05 V378.05 M569.60,372.05 V378.05 M617.20,372.05 V378.05" stroke="#b0b0b0" stroke-width="2.6" fill="none"/>
<path d="M423.30,372.05 H668.00 M441.50,372.05 V378.05 M472.60,372.05 V378.05 M522.40,372.05 V378.05 M569.60,372.05 V378.05 M617.20,372.05 V378.05" stroke="#000" stroke-width="1.2" fill="none"/>
<path d="M161.3,422.2 L161.3,419.6 L162.3,419.6 L163.3,419.6 L164.3,419.6 L165.3,419.6 L166.3,419.6 L167.3,419.6 L168.3,419.6 L169.3,419.6 L170.3,419.6 L171.3,419.6 L172.3,419.6 L173.3,419.5 L174.3,419.4 L175.3,419.2 L176.3,419.1 L177.3,419.0 L178.3,418.8 L179.3,418.6 L180.3,418.5 L181.3,418.3 L182.3,418.1 L183.3,417.9 L184.3,417.6 L185.3,417.4 L186.3,417.2 L187.3,416.9 L188.3,416.7 L189.3,416.4 L190.3,416.1 L191.3,415.8 L192.3,415.5 L193.3,415.2 L194.3,414.9 L195.3,414.5 L196.3,414.0 L197.3,413.6 L198.3,413.1 L199.3,412.6 L200.3,412.1 L201.3,411.5 L202.3,411.0 L203.3,410.4 L204.3,409.8 L205.3,409.1 L206.3,408.4 L207.3,407.7 L208.3,407.0 L209.3,406.3 L210.3,405.5 L211.3,404.8 L212.3,404.0 L213.3,403.2 L214.3,402.3 L215.3,401.4 L216.3,400.5 L217.3,399.6 L218.3,398.8 L219.3,397.9 L220.3,397.1 L221.3,396.4 L222.3,395.7 L223.3,395.0 L224.3,394.3 L225.3,393.7 L226.3,393.0 L227.3,392.4 L228.3,391.8 L229.3,391.2 L230.3,390.7 L231.3,390.2 L232.3,389.7 L233.3,389.3 L234.3,388.9 L235.3,388.5 L236.3,388.1 L237.3,387.7 L238.3,387.4 L239.3,387.1 L240.3,386.8 L241.3,386.6 L242.3,386.4 L243.3,386.1 L244.3,385.9 L245.3,385.7 L246.3,385.5 L247.3,385.3 L248.3,385.2 L249.3,385.0 L250.3,385.0 L251.3,384.9 L252.3,384.9 L253.3,384.9 L254.3,385.0 L255.3,385.0 L256.3,385.1 L257.3,385.2 L258.3,385.3 L259.3,385.4 L260.3,385.6 L261.3,385.7 L262.3,385.9 L263.3,386.2 L264.3,386.5 L265.3,387.0 L266.3,387.4 L267.3,387.9 L268.3,388.4 L269.3,388.9 L270.3,389.4 L271.3,390.0 L272.3,390.6 L273.3,391.2 L274.3,391.8 L275.3,392.5 L276.3,393.2 L277.3,393.9 L278.3,394.6 L279.3,395.2 L280.3,395.9 L281.3,396.6 L282.3,397.3 L283.3,398.0 L284.3,398.7 L285.3,399.4 L286.3,400.2 L287.3,400.9 L288.3,401.6 L289.3,402.3 L290.3,402.9 L291.3,403.6 L292.3,404.3 L293.3,404.9 L294.3,405.6 L295.3,406.2 L296.3,406.8 L297.3,407.4 L298.3,408.0 L299.3,408.6 L300.3,409.1 L301.3,409.6 L302.3,410.1 L303.3,410.6 L304.3,411.0 L305.3,411.5 L306.3,411.9 L307.3,412.3 L308.3,412.7 L309.3,413.1 L310.3,413.5 L311.3,413.9 L312.3,414.3 L313.3,414.6 L314.3,415.0 L315.3,415.3 L316.3,415.6 L317.3,415.8 L318.3,416.1 L319.3,416.3 L320.3,416.4 L321.3,416.6 L322.3,416.8 L323.3,416.9 L324.3,417.1 L325.3,417.2 L326.3,417.4 L327.3,417.5 L328.3,417.6 L329.3,417.7 L330.3,417.9 L331.3,418.0 L332.3,418.1 L333.3,418.2 L334.3,418.3 L335.3,418.4 L336.3,418.4 L337.3,418.5 L338.3,418.6 L339.3,418.7 L340.3,418.8 L341.3,418.9 L342.3,418.9 L343.3,419.0 L344.3,419.1 L345.3,419.2 L346.3,419.2 L347.3,419.3 L348.3,419.4 L349.3,419.4 L350.3,419.5 L351.3,419.5 L352.3,419.6 L353.3,419.6 L354.3,419.6 L355.3,419.6 L356.3,419.6 L357.3,419.6 L358.3,419.6 L359.3,419.6 L360.3,419.6 L361.3,419.6 L362.3,419.6 L363.3,419.6 L364.3,419.6 L365.3,419.6 L366.3,419.6 L367.3,419.6 L368.3,419.6 L369.3,419.6 L370.3,419.6 L371.3,419.6 L372.3,419.6 L373.3,419.6 L374.3,419.6 L375.3,419.6 L376.3,419.6 L377.3,419.6 L378.3,419.6 L379.3,419.6 L380.3,419.6 L381.3,419.6 L382.3,419.6 L383.3,419.6 L384.3,419.6 L385.3,419.6 L386.3,419.6 L387.3,419.6 L388.3,419.6 L389.3,419.6 L390.3,419.6 L391.3,419.6 L392.3,419.6 L393.3,419.6 L394.3,419.6 L395.3,419.6 L396.3,419.6 L397.3,419.6 L398.3,419.6 L399.3,419.6 L400.3,419.6 L401.3,419.6 L402.3,419.6 L403.3,419.6 L404.2,419.6 L404.2,422.2 Z" fill="#fff" stroke="#f4f4f4" stroke-width="1.1" stroke-linejoin="round"/>
<path d="M161.3,422.2 L161.3,411.5 L162.3,411.1 L163.3,410.6 L164.3,410.1 L165.3,409.6 L166.3,409.0 L167.3,408.5 L168.3,407.9 L169.3,407.3 L170.3,406.7 L171.3,406.1 L172.3,405.4 L173.3,404.8 L174.3,404.1 L175.3,403.4 L176.3,402.6 L177.3,401.8 L178.3,401.0 L179.3,400.2 L180.3,399.4 L181.3,398.5 L182.3,397.7 L183.3,396.9 L184.3,396.1 L185.3,395.2 L186.3,394.4 L187.3,393.6 L188.3,392.7 L189.3,391.9 L190.3,391.1 L191.3,390.3 L192.3,389.6 L193.3,388.9 L194.3,388.2 L195.3,387.5 L196.3,386.8 L197.3,386.1 L198.3,385.5 L199.3,384.9 L200.3,384.3 L201.3,383.8 L202.3,383.4 L203.3,383.1 L204.3,382.7 L205.3,382.4 L206.3,382.1 L207.3,381.8 L208.3,381.5 L209.3,381.3 L210.3,381.2 L211.3,381.1 L212.3,381.1 L213.3,381.1 L214.3,381.1 L215.3,381.2 L216.3,381.2 L217.3,381.3 L218.3,381.4 L219.3,381.5 L220.3,381.6 L221.3,381.9 L222.3,382.4 L223.3,382.9 L224.3,383.5 L225.3,384.2 L226.3,384.8 L227.3,385.4 L228.3,386.1 L229.3,386.8 L230.3,387.5 L231.3,388.3 L232.3,389.1 L233.3,389.9 L234.3,390.8 L235.3,391.6 L236.3,392.6 L237.3,393.5 L238.3,394.4 L239.3,395.3 L240.3,396.2 L241.3,397.1 L242.3,398.0 L243.3,398.8 L244.3,399.7 L245.3,400.6 L246.3,401.4 L247.3,402.2 L248.3,403.0 L249.3,403.8 L250.3,404.6 L251.3,405.4 L252.3,406.1 L253.3,406.9 L254.3,407.6 L255.3,408.3 L256.3,409.0 L257.3,409.6 L258.3,410.3 L259.3,410.8 L260.3,411.4 L261.3,411.9 L262.3,412.4 L263.3,412.9 L264.3,413.4 L265.3,413.9 L266.3,414.3 L267.3,414.7 L268.3,415.1 L269.3,415.4 L270.3,415.8 L271.3,416.1 L272.3,416.5 L273.3,416.8 L274.3,417.1 L275.3,417.4 L276.3,417.6 L277.3,417.9 L278.3,418.1 L279.3,418.4 L280.3,418.6 L281.3,418.8 L282.3,418.9 L283.3,419.1 L284.3,419.3 L285.3,419.5 L286.3,419.6 L287.3,419.7 L288.3,419.9 L289.3,420.0 L290.3,420.0 L291.3,420.0 L292.3,420.0 L293.3,420.0 L294.3,420.0 L295.3,420.0 L296.3,420.0 L297.3,420.0 L298.3,420.0 L299.3,420.0 L300.3,420.0 L301.3,420.0 L302.3,420.0 L303.3,420.0 L304.3,420.0 L305.3,420.0 L306.3,420.0 L307.3,420.0 L308.3,420.0 L309.3,420.0 L310.3,420.0 L311.3,420.0 L312.3,420.0 L313.3,420.0 L314.3,420.0 L315.3,420.0 L316.3,420.0 L317.3,420.0 L318.3,420.0 L319.3,420.0 L320.3,420.0 L321.3,420.0 L322.3,420.0 L323.3,420.0 L324.3,420.0 L325.3,420.0 L326.3,420.0 L327.3,420.0 L328.3,420.0 L329.3,420.0 L330.3,420.0 L331.3,420.0 L332.3,420.0 L333.3,420.0 L334.3,420.0 L335.3,420.0 L336.3,420.0 L337.3,420.0 L338.3,420.0 L339.3,420.0 L340.3,420.0 L341.3,420.0 L342.3,420.0 L343.3,420.0 L344.3,420.0 L345.3,420.0 L346.3,420.0 L347.3,420.0 L348.3,420.0 L349.3,420.0 L350.3,420.0 L351.3,420.0 L352.3,420.0 L353.3,420.0 L354.3,420.0 L355.3,420.0 L356.3,420.0 L357.3,420.0 L358.3,420.0 L359.3,420.0 L360.3,420.0 L361.3,420.0 L362.3,420.0 L363.3,420.0 L364.3,420.0 L365.3,420.0 L366.3,420.0 L367.3,420.0 L368.3,420.0 L369.3,420.0 L370.3,420.0 L371.3,420.0 L372.3,420.0 L373.3,420.0 L374.3,420.0 L375.3,420.0 L376.3,420.0 L377.3,420.0 L378.3,420.0 L379.3,420.0 L380.3,420.0 L381.3,420.0 L382.3,420.0 L383.3,420.0 L384.3,420.0 L385.3,420.0 L386.3,420.0 L387.3,420.0 L388.3,420.0 L389.3,420.0 L390.3,420.0 L391.3,420.0 L392.3,420.0 L393.3,420.0 L394.3,420.0 L395.3,420.0 L396.3,420.0 L397.3,420.0 L398.3,420.0 L399.3,420.0 L400.3,420.0 L401.3,420.0 L402.3,420.0 L403.3,420.0 L404.2,420.0 L404.2,422.2 Z" fill="#fff" stroke="#f4f4f4" stroke-width="1.1" stroke-linejoin="round"/>
<path d="M161.3,422.2 L161.3,419.6 L162.3,419.6 L163.3,419.6 L164.3,419.6 L165.3,419.6 L166.3,419.6 L167.3,419.6 L168.3,419.6 L169.3,419.6 L170.3,419.6 L171.3,419.6 L172.3,419.6 L173.3,419.5 L174.3,419.4 L175.3,419.2 L176.3,419.1 L177.3,419.0 L178.3,418.8 L179.3,418.6 L180.3,418.5 L181.3,418.3 L182.3,418.1 L183.3,417.9 L184.3,417.6 L185.3,417.4 L186.3,417.2 L187.3,416.9 L188.3,416.7 L189.3,416.4 L190.3,416.1 L191.3,415.8 L192.3,415.5 L193.3,415.2 L194.3,414.9 L195.3,414.5 L196.3,414.0 L197.3,413.6 L198.3,413.1 L199.3,412.6 L200.3,412.1 L201.3,411.5 L202.3,411.0 L203.3,410.4 L204.3,409.8 L205.3,409.1 L206.3,408.4 L207.3,407.7 L208.3,407.0 L209.3,406.3 L210.3,405.5 L211.3,404.8 L212.3,404.0 L213.3,403.2 L214.3,402.3 L215.3,401.4 L216.3,400.5 L217.3,399.6 L218.3,398.8 L219.3,397.9 L220.3,397.1 L221.3,396.4 L222.3,395.7 L223.3,395.0 L224.3,394.3 L225.3,393.7 L226.3,393.0 L227.3,392.4 L228.3,391.8 L229.3,391.2 L230.3,390.7 L231.3,390.2 L232.3,389.7 L233.3,389.3 L234.3,388.9 L235.3,388.5 L236.3,388.1 L237.3,387.7 L238.3,387.4 L239.3,387.1 L240.3,386.8 L241.3,386.6 L242.3,386.4 L243.3,386.1 L244.3,385.9 L245.3,385.7 L246.3,385.5 L247.3,385.3 L248.3,385.2 L249.3,385.0 L250.3,385.0 L251.3,384.9 L252.3,384.9 L253.3,384.9 L254.3,385.0 L255.3,385.0 L256.3,385.1 L257.3,385.2 L258.3,385.3 L259.3,385.4 L260.3,385.6 L261.3,385.7 L262.3,385.9 L263.3,386.2 L264.3,386.5 L265.3,387.0 L266.3,387.4 L267.3,387.9 L268.3,388.4 L269.3,388.9 L270.3,389.4 L271.3,390.0 L272.3,390.6 L273.3,391.2 L274.3,391.8 L275.3,392.5 L276.3,393.2 L277.3,393.9 L278.3,394.6 L279.3,395.2 L280.3,395.9 L281.3,396.6 L282.3,397.3 L283.3,398.0 L284.3,398.7 L285.3,399.4 L286.3,400.2 L287.3,400.9 L288.3,401.6 L289.3,402.3 L290.3,402.9 L291.3,403.6 L292.3,404.3 L293.3,404.9 L294.3,405.6 L295.3,406.2 L296.3,406.8 L297.3,407.4 L298.3,408.0 L299.3,408.6 L300.3,409.1 L301.3,409.6 L302.3,410.1 L303.3,410.6 L304.3,411.0 L305.3,411.5 L306.3,411.9 L307.3,412.3 L308.3,412.7 L309.3,413.1 L310.3,413.5 L311.3,413.9 L312.3,414.3 L313.3,414.6 L314.3,415.0 L315.3,415.3 L316.3,415.6 L317.3,415.8 L318.3,416.1 L319.3,416.3 L320.3,416.4 L321.3,416.6 L322.3,416.8 L323.3,416.9 L324.3,417.1 L325.3,417.2 L326.3,417.4 L327.3,417.5 L328.3,417.6 L329.3,417.7 L330.3,417.9 L331.3,418.0 L332.3,418.1 L333.3,418.2 L334.3,418.3 L335.3,418.4 L336.3,418.4 L337.3,418.5 L338.3,418.6 L339.3,418.7 L340.3,418.8 L341.3,418.9 L342.3,418.9 L343.3,419.0 L344.3,419.1 L345.3,419.2 L346.3,419.2 L347.3,419.3 L348.3,419.4 L349.3,419.4 L350.3,419.5 L351.3,419.5 L352.3,419.6 L353.3,419.6 L354.3,419.6 L355.3,419.6 L356.3,419.6 L357.3,419.6 L358.3,419.6 L359.3,419.6 L360.3,419.6 L361.3,419.6 L362.3,419.6 L363.3,419.6 L364.3,419.6 L365.3,419.6 L366.3,419.6 L367.3,419.6 L368.3,419.6 L369.3,419.6 L370.3,419.6 L371.3,419.6 L372.3,419.6 L373.3,419.6 L374.3,419.6 L375.3,419.6 L376.3,419.6 L377.3,419.6 L378.3,419.6 L379.3,419.6 L380.3,419.6 L381.3,419.6 L382.3,419.6 L383.3,419.6 L384.3,419.6 L385.3,419.6 L386.3,419.6 L387.3,419.6 L388.3,419.6 L389.3,419.6 L390.3,419.6 L391.3,419.6 L392.3,419.6 L393.3,419.6 L394.3,419.6 L395.3,419.6 L396.3,419.6 L397.3,419.6 L398.3,419.6 L399.3,419.6 L400.3,419.6 L401.3,419.6 L402.3,419.6 L403.3,419.6 L404.2,419.6 L404.2,422.2 Z" fill="#1f77b4" fill-opacity="0.6"/>
<path d="M161.3,422.2 L161.3,411.5 L162.3,411.1 L163.3,410.6 L164.3,410.1 L165.3,409.6 L166.3,409.0 L167.3,408.5 L168.3,407.9 L169.3,407.3 L170.3,406.7 L171.3,406.1 L172.3,405.4 L173.3,404.8 L174.3,404.1 L175.3,403.4 L176.3,402.6 L177.3,401.8 L178.3,401.0 L179.3,400.2 L180.3,399.4 L181.3,398.5 L182.3,397.7 L183.3,396.9 L184.3,396.1 L185.3,395.2 L186.3,394.4 L187.3,393.6 L188.3,392.7 L189.3,391.9 L190.3,391.1 L191.3,390.3 L192.3,389.6 L193.3,388.9 L194.3,388.2 L195.3,387.5 L196.3,386.8 L197.3,386.1 L198.3,385.5 L199.3,384.9 L200.3,384.3 L201.3,383.8 L202.3,383.4 L203.3,383.1 L204.3,382.7 L205.3,382.4 L206.3,382.1 L207.3,381.8 L208.3,381.5 L209.3,381.3 L210.3,381.2 L211.3,381.1 L212.3,381.1 L213.3,381.1 L214.3,381.1 L215.3,381.2 L216.3,381.2 L217.3,381.3 L218.3,381.4 L219.3,381.5 L220.3,381.6 L221.3,381.9 L222.3,382.4 L223.3,382.9 L224.3,383.5 L225.3,384.2 L226.3,384.8 L227.3,385.4 L228.3,386.1 L229.3,386.8 L230.3,387.5 L231.3,388.3 L232.3,389.1 L233.3,389.9 L234.3,390.8 L235.3,391.6 L236.3,392.6 L237.3,393.5 L238.3,394.4 L239.3,395.3 L240.3,396.2 L241.3,397.1 L242.3,398.0 L243.3,398.8 L244.3,399.7 L245.3,400.6 L246.3,401.4 L247.3,402.2 L248.3,403.0 L249.3,403.8 L250.3,404.6 L251.3,405.4 L252.3,406.1 L253.3,406.9 L254.3,407.6 L255.3,408.3 L256.3,409.0 L257.3,409.6 L258.3,410.3 L259.3,410.8 L260.3,411.4 L261.3,411.9 L262.3,412.4 L263.3,412.9 L264.3,413.4 L265.3,413.9 L266.3,414.3 L267.3,414.7 L268.3,415.1 L269.3,415.4 L270.3,415.8 L271.3,416.1 L272.3,416.5 L273.3,416.8 L274.3,417.1 L275.3,417.4 L276.3,417.6 L277.3,417.9 L278.3,418.1 L279.3,418.4 L280.3,418.6 L281.3,418.8 L282.3,418.9 L283.3,419.1 L284.3,419.3 L285.3,419.5 L286.3,419.6 L287.3,419.7 L288.3,419.9 L289.3,420.0 L290.3,420.0 L291.3,420.0 L292.3,420.0 L293.3,420.0 L294.3,420.0 L295.3,420.0 L296.3,420.0 L297.3,420.0 L298.3,420.0 L299.3,420.0 L300.3,420.0 L301.3,420.0 L302.3,420.0 L303.3,420.0 L304.3,420.0 L305.3,420.0 L306.3,420.0 L307.3,420.0 L308.3,420.0 L309.3,420.0 L310.3,420.0 L311.3,420.0 L312.3,420.0 L313.3,420.0 L314.3,420.0 L315.3,420.0 L316.3,420.0 L317.3,420.0 L318.3,420.0 L319.3,420.0 L320.3,420.0 L321.3,420.0 L322.3,420.0 L323.3,420.0 L324.3,420.0 L325.3,420.0 L326.3,420.0 L327.3,420.0 L328.3,420.0 L329.3,420.0 L330.3,420.0 L331.3,420.0 L332.3,420.0 L333.3,420.0 L334.3,420.0 L335.3,420.0 L336.3,420.0 L337.3,420.0 L338.3,420.0 L339.3,420.0 L340.3,420.0 L341.3,420.0 L342.3,420.0 L343.3,420.0 L344.3,420.0 L345.3,420.0 L346.3,420.0 L347.3,420.0 L348.3,420.0 L349.3,420.0 L350.3,420.0 L351.3,420.0 L352.3,420.0 L353.3,420.0 L354.3,420.0 L355.3,420.0 L356.3,420.0 L357.3,420.0 L358.3,420.0 L359.3,420.0 L360.3,420.0 L361.3,420.0 L362.3,420.0 L363.3,420.0 L364.3,420.0 L365.3,420.0 L366.3,420.0 L367.3,420.0 L368.3,420.0 L369.3,420.0 L370.3,420.0 L371.3,420.0 L372.3,420.0 L373.3,420.0 L374.3,420.0 L375.3,420.0 L376.3,420.0 L377.3,420.0 L378.3,420.0 L379.3,420.0 L380.3,420.0 L381.3,420.0 L382.3,420.0 L383.3,420.0 L384.3,420.0 L385.3,420.0 L386.3,420.0 L387.3,420.0 L388.3,420.0 L389.3,420.0 L390.3,420.0 L391.3,420.0 L392.3,420.0 L393.3,420.0 L394.3,420.0 L395.3,420.0 L396.3,420.0 L397.3,420.0 L398.3,420.0 L399.3,420.0 L400.3,420.0 L401.3,420.0 L402.3,420.0 L403.3,420.0 L404.2,420.0 L404.2,422.2 Z" fill="#ff7f0e" fill-opacity="0.6"/>
<rect x="210.90" y="401.96" width="2" height="8.7" fill="#000"/>
<rect x="210.90" y="414.56" width="2" height="8.50" fill="#000"/>
<rect x="251.70" y="401.96" width="2" height="8.7" fill="#000"/>
<rect x="251.70" y="414.56" width="2" height="8.50" fill="#000"/>
<path d="M160.30,423.36 H405.00 M161.30,423.36 V429.36 M209.40,423.36 V429.36 M258.40,423.36 V429.36 M306.60,423.36 V429.36 M355.90,423.36 V429.36" stroke="#b0b0b0" stroke-width="2.6" fill="none"/>
<path d="M160.30,423.36 H405.00 M161.30,423.36 V429.36 M209.40,423.36 V429.36 M258.40,423.36 V429.36 M306.60,423.36 V429.36 M355.90,423.36 V429.36" stroke="#000" stroke-width="1.2" fill="none"/>
<path d="M379.00,382.90 L379.00,393.30 M374.50,385.50 L383.50,390.70 M383.50,385.50 L374.50,390.70" stroke="#d0d0d0" stroke-width="2.6" fill="none"/>
<path d="M379.00,382.90 L379.00,393.30 M374.50,385.50 L383.50,390.70 M383.50,385.50 L374.50,390.70" stroke="#000" stroke-width="0.9" fill="none"/>
<path d="M424.3,422.2 L424.3,414.1 L425.3,413.8 L426.3,413.5 L427.3,413.2 L428.3,412.9 L429.3,412.5 L430.3,412.1 L431.3,411.7 L432.3,411.2 L433.3,410.8 L434.3,410.3 L435.3,409.8 L436.3,409.4 L437.3,408.8 L438.3,408.3 L439.3,407.7 L440.3,407.1 L441.3,406.4 L442.3,405.7 L443.3,405.0 L444.3,404.3 L445.3,403.5 L446.3,402.8 L447.3,402.1 L448.3,401.4 L449.3,400.7 L450.3,399.9 L451.3,399.2 L452.3,398.4 L453.3,397.7 L454.3,396.9 L455.3,396.2 L456.3,395.5 L457.3,394.8 L458.3,394.1 L459.3,393.4 L460.3,392.6 L461.3,392.0 L462.3,391.3 L463.3,390.7 L464.3,390.1 L465.3,389.6 L466.3,389.1 L467.3,388.7 L468.3,388.3 L469.3,388.0 L470.3,387.6 L471.3,387.3 L472.3,386.9 L473.3,386.5 L474.3,386.0 L475.3,385.4 L476.3,384.5 L477.3,383.4 L478.3,382.4 L479.3,381.7 L480.3,381.5 L481.3,381.6 L482.3,381.7 L483.3,381.9 L484.3,382.2 L485.3,382.5 L486.3,382.8 L487.3,383.1 L488.3,383.4 L489.3,383.7 L490.3,384.0 L491.3,384.3 L492.3,384.7 L493.3,385.0 L494.3,385.3 L495.3,385.7 L496.3,386.1 L497.3,386.5 L498.3,386.9 L499.3,387.3 L500.3,387.8 L501.3,388.4 L502.3,388.9 L503.3,389.5 L504.3,390.2 L505.3,390.8 L506.3,391.5 L507.3,392.1 L508.3,392.8 L509.3,393.4 L510.3,394.1 L511.3,394.8 L512.3,395.5 L513.3,396.2 L514.3,396.9 L515.3,397.6 L516.3,398.3 L517.3,399.0 L518.3,399.7 L519.3,400.4 L520.3,401.2 L521.3,401.9 L522.3,402.6 L523.3,403.4 L524.3,404.1 L525.3,404.8 L526.3,405.5 L527.3,406.1 L528.3,406.8 L529.3,407.4 L530.3,408.0 L531.3,408.6 L532.3,409.1 L533.3,409.7 L534.3,410.2 L535.3,410.7 L536.3,411.2 L537.3,411.7 L538.3,412.1 L539.3,412.6 L540.3,413.0 L541.3,413.5 L542.3,413.9 L543.3,414.3 L544.3,414.6 L545.3,415.0 L546.3,415.3 L547.3,415.6 L548.3,415.8 L549.3,416.1 L550.3,416.4 L551.3,416.6 L552.3,416.8 L553.3,417.0 L554.3,417.2 L555.3,417.4 L556.3,417.6 L557.3,417.7 L558.3,417.9 L559.3,418.0 L560.3,418.1 L561.3,418.3 L562.3,418.4 L563.3,418.5 L564.3,418.6 L565.3,418.7 L566.3,418.8 L567.3,418.9 L568.3,418.9 L569.3,419.0 L570.3,419.1 L571.3,419.1 L572.3,419.2 L573.3,419.2 L574.3,419.3 L575.3,419.3 L576.3,419.3 L577.3,419.3 L578.3,419.3 L579.3,419.3 L580.3,419.3 L581.3,419.3 L582.3,419.3 L583.3,419.3 L584.3,419.3 L585.3,419.3 L586.3,419.3 L587.3,419.3 L588.3,419.3 L589.3,419.3 L590.3,419.3 L591.3,419.3 L592.3,419.3 L593.3,419.3 L594.3,419.3 L595.3,419.3 L596.3,419.3 L597.3,419.3 L598.3,419.3 L599.3,419.3 L600.3,419.3 L601.3,419.3 L602.3,419.3 L603.3,419.3 L604.3,419.3 L605.3,419.3 L606.3,419.3 L607.3,419.3 L608.3,419.3 L609.3,419.3 L610.3,419.3 L611.3,419.3 L612.3,419.3 L613.3,419.3 L614.3,419.3 L615.3,419.3 L616.3,419.3 L617.3,419.3 L618.3,419.3 L619.3,419.3 L620.3,419.3 L621.3,419.3 L622.3,419.3 L623.3,419.3 L624.3,419.3 L625.3,419.3 L626.3,419.3 L627.3,419.3 L628.3,419.3 L629.3,419.3 L630.3,419.3 L631.3,419.3 L632.3,419.3 L633.3,419.3 L634.3,419.3 L635.3,419.3 L636.3,419.3 L637.3,419.3 L638.3,419.3 L639.3,419.3 L640.3,419.3 L641.3,419.3 L642.3,419.3 L643.3,419.3 L644.3,419.3 L645.3,419.3 L646.3,419.3 L647.3,419.3 L648.3,419.3 L649.3,419.3 L650.3,419.3 L651.3,419.3 L652.3,419.3 L653.3,419.3 L654.3,419.3 L655.3,419.3 L656.3,419.3 L657.3,419.3 L658.3,419.3 L659.3,419.3 L660.3,419.3 L661.3,419.3 L662.3,419.3 L663.3,419.3 L664.3,419.3 L665.3,419.3 L666.3,419.3 L667.2,419.3 L667.2,422.2 Z" fill="#fff" stroke="#f4f4f4" stroke-width="1.1" stroke-linejoin="round"/>
<path d="M424.3,422.2 L424.3,410.9 L425.3,410.6 L426.3,410.2 L427.3,409.9 L428.3,409.5 L429.3,409.0 L430.3,408.6 L431.3,408.1 L432.3,407.7 L433.3,407.2 L434.3,406.6 L435.3,406.1 L436.3,405.6 L437.3,405.0 L438.3,404.4 L439.3,403.8 L440.3,403.1 L441.3,402.4 L442.3,401.7 L443.3,401.0 L444.3,400.2 L445.3,399.5 L446.3,398.7 L447.3,398.0 L448.3,397.2 L449.3,396.4 L450.3,395.6 L451.3,394.7 L452.3,393.9 L453.3,393.1 L454.3,392.3 L455.3,391.5 L456.3,390.8 L457.3,390.1 L458.3,389.3 L459.3,388.6 L460.3,387.9 L461.3,387.2 L462.3,386.6 L463.3,386.0 L464.3,385.4 L465.3,384.9 L466.3,384.5 L467.3,384.1 L468.3,383.8 L469.3,383.4 L470.3,383.1 L471.3,382.8 L472.3,382.5 L473.3,382.3 L474.3,382.0 L475.3,381.8 L476.3,381.6 L477.3,381.4 L478.3,381.2 L479.3,381.1 L480.3,381.1 L481.3,381.2 L482.3,381.5 L483.3,381.8 L484.3,382.2 L485.3,382.7 L486.3,383.2 L487.3,383.7 L488.3,384.3 L489.3,384.8 L490.3,385.3 L491.3,385.9 L492.3,386.5 L493.3,387.1 L494.3,387.8 L495.3,388.5 L496.3,389.1 L497.3,389.8 L498.3,390.5 L499.3,391.2 L500.3,391.9 L501.3,392.6 L502.3,393.3 L503.3,393.9 L504.3,394.6 L505.3,395.3 L506.3,396.1 L507.3,396.8 L508.3,397.5 L509.3,398.2 L510.3,398.9 L511.3,399.6 L512.3,400.3 L513.3,401.0 L514.3,401.8 L515.3,402.5 L516.3,403.2 L517.3,403.8 L518.3,404.5 L519.3,405.1 L520.3,405.8 L521.3,406.4 L522.3,407.1 L523.3,407.7 L524.3,408.3 L525.3,408.9 L526.3,409.4 L527.3,409.9 L528.3,410.4 L529.3,410.9 L530.3,411.4 L531.3,411.9 L532.3,412.3 L533.3,412.7 L534.3,413.1 L535.3,413.5 L536.3,413.9 L537.3,414.2 L538.3,414.6 L539.3,415.0 L540.3,415.3 L541.3,415.6 L542.3,416.0 L543.3,416.3 L544.3,416.5 L545.3,416.8 L546.3,417.0 L547.3,417.2 L548.3,417.3 L549.3,417.5 L550.3,417.7 L551.3,417.8 L552.3,417.9 L553.3,418.0 L554.3,418.1 L555.3,418.2 L556.3,418.3 L557.3,418.4 L558.3,418.5 L559.3,418.6 L560.3,418.6 L561.3,418.7 L562.3,418.8 L563.3,418.8 L564.3,418.9 L565.3,418.9 L566.3,418.9 L567.3,418.9 L568.3,418.9 L569.3,418.9 L570.3,418.9 L571.3,418.9 L572.3,418.9 L573.3,418.9 L574.3,418.9 L575.3,418.9 L576.3,418.9 L577.3,418.9 L578.3,418.9 L579.3,418.9 L580.3,418.9 L581.3,418.9 L582.3,418.9 L583.3,418.9 L584.3,418.9 L585.3,418.9 L586.3,418.9 L587.3,418.9 L588.3,418.9 L589.3,418.9 L590.3,418.9 L591.3,418.9 L592.3,418.9 L593.3,418.9 L594.3,418.9 L595.3,418.9 L596.3,418.9 L597.3,418.9 L598.3,418.9 L599.3,418.9 L600.3,418.9 L601.3,418.9 L602.3,418.9 L603.3,418.9 L604.3,418.9 L605.3,418.9 L606.3,418.9 L607.3,418.9 L608.3,418.9 L609.3,418.9 L610.3,418.9 L611.3,418.9 L612.3,418.9 L613.3,418.9 L614.3,418.9 L615.3,418.9 L616.3,418.9 L617.3,418.9 L618.3,418.9 L619.3,418.9 L620.3,418.9 L621.3,418.9 L622.3,418.9 L623.3,418.9 L624.3,418.9 L625.3,418.9 L626.3,418.9 L627.3,418.9 L628.3,418.9 L629.3,418.9 L630.3,418.9 L631.3,418.9 L632.3,418.9 L633.3,418.9 L634.3,418.9 L635.3,418.9 L636.3,418.9 L637.3,418.9 L638.3,418.9 L639.3,418.9 L640.3,418.9 L641.3,418.9 L642.3,418.9 L643.3,418.9 L644.3,418.9 L645.3,418.9 L646.3,418.9 L647.3,418.9 L648.3,418.9 L649.3,418.9 L650.3,418.9 L651.3,418.9 L652.3,418.9 L653.3,418.9 L654.3,418.9 L655.3,418.9 L656.3,418.9 L657.3,418.9 L658.3,418.9 L659.3,418.9 L660.3,418.9 L661.3,418.9 L662.3,418.9 L663.3,418.9 L664.3,418.9 L665.3,418.9 L666.3,418.9 L667.2,418.9 L667.2,422.2 Z" fill="#fff" stroke="#f4f4f4" stroke-width="1.1" stroke-linejoin="round"/>
<path d="M424.3,422.2 L424.3,414.1 L425.3,413.8 L426.3,413.5 L427.3,413.2 L428.3,412.9 L429.3,412.5 L430.3,412.1 L431.3,411.7 L432.3,411.2 L433.3,410.8 L434.3,410.3 L435.3,409.8 L436.3,409.4 L437.3,408.8 L438.3,408.3 L439.3,407.7 L440.3,407.1 L441.3,406.4 L442.3,405.7 L443.3,405.0 L444.3,404.3 L445.3,403.5 L446.3,402.8 L447.3,402.1 L448.3,401.4 L449.3,400.7 L450.3,399.9 L451.3,399.2 L452.3,398.4 L453.3,397.7 L454.3,396.9 L455.3,396.2 L456.3,395.5 L457.3,394.8 L458.3,394.1 L459.3,393.4 L460.3,392.6 L461.3,392.0 L462.3,391.3 L463.3,390.7 L464.3,390.1 L465.3,389.6 L466.3,389.1 L467.3,388.7 L468.3,388.3 L469.3,388.0 L470.3,387.6 L471.3,387.3 L472.3,386.9 L473.3,386.5 L474.3,386.0 L475.3,385.4 L476.3,384.5 L477.3,383.4 L478.3,382.4 L479.3,381.7 L480.3,381.5 L481.3,381.6 L482.3,381.7 L483.3,381.9 L484.3,382.2 L485.3,382.5 L486.3,382.8 L487.3,383.1 L488.3,383.4 L489.3,383.7 L490.3,384.0 L491.3,384.3 L492.3,384.7 L493.3,385.0 L494.3,385.3 L495.3,385.7 L496.3,386.1 L497.3,386.5 L498.3,386.9 L499.3,387.3 L500.3,387.8 L501.3,388.4 L502.3,388.9 L503.3,389.5 L504.3,390.2 L505.3,390.8 L506.3,391.5 L507.3,392.1 L508.3,392.8 L509.3,393.4 L510.3,394.1 L511.3,394.8 L512.3,395.5 L513.3,396.2 L514.3,396.9 L515.3,397.6 L516.3,398.3 L517.3,399.0 L518.3,399.7 L519.3,400.4 L520.3,401.2 L521.3,401.9 L522.3,402.6 L523.3,403.4 L524.3,404.1 L525.3,404.8 L526.3,405.5 L527.3,406.1 L528.3,406.8 L529.3,407.4 L530.3,408.0 L531.3,408.6 L532.3,409.1 L533.3,409.7 L534.3,410.2 L535.3,410.7 L536.3,411.2 L537.3,411.7 L538.3,412.1 L539.3,412.6 L540.3,413.0 L541.3,413.5 L542.3,413.9 L543.3,414.3 L544.3,414.6 L545.3,415.0 L546.3,415.3 L547.3,415.6 L548.3,415.8 L549.3,416.1 L550.3,416.4 L551.3,416.6 L552.3,416.8 L553.3,417.0 L554.3,417.2 L555.3,417.4 L556.3,417.6 L557.3,417.7 L558.3,417.9 L559.3,418.0 L560.3,418.1 L561.3,418.3 L562.3,418.4 L563.3,418.5 L564.3,418.6 L565.3,418.7 L566.3,418.8 L567.3,418.9 L568.3,418.9 L569.3,419.0 L570.3,419.1 L571.3,419.1 L572.3,419.2 L573.3,419.2 L574.3,419.3 L575.3,419.3 L576.3,419.3 L577.3,419.3 L578.3,419.3 L579.3,419.3 L580.3,419.3 L581.3,419.3 L582.3,419.3 L583.3,419.3 L584.3,419.3 L585.3,419.3 L586.3,419.3 L587.3,419.3 L588.3,419.3 L589.3,419.3 L590.3,419.3 L591.3,419.3 L592.3,419.3 L593.3,419.3 L594.3,419.3 L595.3,419.3 L596.3,419.3 L597.3,419.3 L598.3,419.3 L599.3,419.3 L600.3,419.3 L601.3,419.3 L602.3,419.3 L603.3,419.3 L604.3,419.3 L605.3,419.3 L606.3,419.3 L607.3,419.3 L608.3,419.3 L609.3,419.3 L610.3,419.3 L611.3,419.3 L612.3,419.3 L613.3,419.3 L614.3,419.3 L615.3,419.3 L616.3,419.3 L617.3,419.3 L618.3,419.3 L619.3,419.3 L620.3,419.3 L621.3,419.3 L622.3,419.3 L623.3,419.3 L624.3,419.3 L625.3,419.3 L626.3,419.3 L627.3,419.3 L628.3,419.3 L629.3,419.3 L630.3,419.3 L631.3,419.3 L632.3,419.3 L633.3,419.3 L634.3,419.3 L635.3,419.3 L636.3,419.3 L637.3,419.3 L638.3,419.3 L639.3,419.3 L640.3,419.3 L641.3,419.3 L642.3,419.3 L643.3,419.3 L644.3,419.3 L645.3,419.3 L646.3,419.3 L647.3,419.3 L648.3,419.3 L649.3,419.3 L650.3,419.3 L651.3,419.3 L652.3,419.3 L653.3,419.3 L654.3,419.3 L655.3,419.3 L656.3,419.3 L657.3,419.3 L658.3,419.3 L659.3,419.3 L660.3,419.3 L661.3,419.3 L662.3,419.3 L663.3,419.3 L664.3,419.3 L665.3,419.3 L666.3,419.3 L667.2,419.3 L667.2,422.2 Z" fill="#1f77b4" fill-opacity="0.6"/>
<path d="M424.3,422.2 L424.3,410.9 L425.3,410.6 L426.3,410.2 L427.3,409.9 L428.3,409.5 L429.3,409.0 L430.3,408.6 L431.3,408.1 L432.3,407.7 L433.3,407.2 L434.3,406.6 L435.3,406.1 L436.3,405.6 L437.3,405.0 L438.3,404.4 L439.3,403.8 L440.3,403.1 L441.3,402.4 L442.3,401.7 L443.3,401.0 L444.3,400.2 L445.3,399.5 L446.3,398.7 L447.3,398.0 L448.3,397.2 L449.3,396.4 L450.3,395.6 L451.3,394.7 L452.3,393.9 L453.3,393.1 L454.3,392.3 L455.3,391.5 L456.3,390.8 L457.3,390.1 L458.3,389.3 L459.3,388.6 L460.3,387.9 L461.3,387.2 L462.3,386.6 L463.3,386.0 L464.3,385.4 L465.3,384.9 L466.3,384.5 L467.3,384.1 L468.3,383.8 L469.3,383.4 L470.3,383.1 L471.3,382.8 L472.3,382.5 L473.3,382.3 L474.3,382.0 L475.3,381.8 L476.3,381.6 L477.3,381.4 L478.3,381.2 L479.3,381.1 L480.3,381.1 L481.3,381.2 L482.3,381.5 L483.3,381.8 L484.3,382.2 L485.3,382.7 L486.3,383.2 L487.3,383.7 L488.3,384.3 L489.3,384.8 L490.3,385.3 L491.3,385.9 L492.3,386.5 L493.3,387.1 L494.3,387.8 L495.3,388.5 L496.3,389.1 L497.3,389.8 L498.3,390.5 L499.3,391.2 L500.3,391.9 L501.3,392.6 L502.3,393.3 L503.3,393.9 L504.3,394.6 L505.3,395.3 L506.3,396.1 L507.3,396.8 L508.3,397.5 L509.3,398.2 L510.3,398.9 L511.3,399.6 L512.3,400.3 L513.3,401.0 L514.3,401.8 L515.3,402.5 L516.3,403.2 L517.3,403.8 L518.3,404.5 L519.3,405.1 L520.3,405.8 L521.3,406.4 L522.3,407.1 L523.3,407.7 L524.3,408.3 L525.3,408.9 L526.3,409.4 L527.3,409.9 L528.3,410.4 L529.3,410.9 L530.3,411.4 L531.3,411.9 L532.3,412.3 L533.3,412.7 L534.3,413.1 L535.3,413.5 L536.3,413.9 L537.3,414.2 L538.3,414.6 L539.3,415.0 L540.3,415.3 L541.3,415.6 L542.3,416.0 L543.3,416.3 L544.3,416.5 L545.3,416.8 L546.3,417.0 L547.3,417.2 L548.3,417.3 L549.3,417.5 L550.3,417.7 L551.3,417.8 L552.3,417.9 L553.3,418.0 L554.3,418.1 L555.3,418.2 L556.3,418.3 L557.3,418.4 L558.3,418.5 L559.3,418.6 L560.3,418.6 L561.3,418.7 L562.3,418.8 L563.3,418.8 L564.3,418.9 L565.3,418.9 L566.3,418.9 L567.3,418.9 L568.3,418.9 L569.3,418.9 L570.3,418.9 L571.3,418.9 L572.3,418.9 L573.3,418.9 L574.3,418.9 L575.3,418.9 L576.3,418.9 L577.3,418.9 L578.3,418.9 L579.3,418.9 L580.3,418.9 L581.3,418.9 L582.3,418.9 L583.3,418.9 L584.3,418.9 L585.3,418.9 L586.3,418.9 L587.3,418.9 L588.3,418.9 L589.3,418.9 L590.3,418.9 L591.3,418.9 L592.3,418.9 L593.3,418.9 L594.3,418.9 L595.3,418.9 L596.3,418.9 L597.3,418.9 L598.3,418.9 L599.3,418.9 L600.3,418.9 L601.3,418.9 L602.3,418.9 L603.3,418.9 L604.3,418.9 L605.3,418.9 L606.3,418.9 L607.3,418.9 L608.3,418.9 L609.3,418.9 L610.3,418.9 L611.3,418.9 L612.3,418.9 L613.3,418.9 L614.3,418.9 L615.3,418.9 L616.3,418.9 L617.3,418.9 L618.3,418.9 L619.3,418.9 L620.3,418.9 L621.3,418.9 L622.3,418.9 L623.3,418.9 L624.3,418.9 L625.3,418.9 L626.3,418.9 L627.3,418.9 L628.3,418.9 L629.3,418.9 L630.3,418.9 L631.3,418.9 L632.3,418.9 L633.3,418.9 L634.3,418.9 L635.3,418.9 L636.3,418.9 L637.3,418.9 L638.3,418.9 L639.3,418.9 L640.3,418.9 L641.3,418.9 L642.3,418.9 L643.3,418.9 L644.3,418.9 L645.3,418.9 L646.3,418.9 L647.3,418.9 L648.3,418.9 L649.3,418.9 L650.3,418.9 L651.3,418.9 L652.3,418.9 L653.3,418.9 L654.3,418.9 L655.3,418.9 L656.3,418.9 L657.3,418.9 L658.3,418.9 L659.3,418.9 L660.3,418.9 L661.3,418.9 L662.3,418.9 L663.3,418.9 L664.3,418.9 L665.3,418.9 L666.3,418.9 L667.2,418.9 L667.2,422.2 Z" fill="#ff7f0e" fill-opacity="0.6"/>
<rect x="476.40" y="401.96" width="2" height="8.7" fill="#000"/>
<rect x="476.40" y="414.56" width="2" height="8.50" fill="#000"/>
<rect x="483.80" y="401.96" width="2" height="8.7" fill="#000"/>
<rect x="483.80" y="414.56" width="2" height="8.50" fill="#000"/>
<path d="M423.30,423.36 H668.00 M441.50,423.36 V429.36 M472.60,423.36 V429.36 M522.40,423.36 V429.36 M569.60,423.36 V429.36 M617.20,423.36 V429.36" stroke="#b0b0b0" stroke-width="2.6" fill="none"/>
<path d="M423.30,423.36 H668.00 M441.50,423.36 V429.36 M472.60,423.36 V429.36 M522.40,423.36 V429.36 M569.60,423.36 V429.36 M617.20,423.36 V429.36" stroke="#000" stroke-width="1.2" fill="none"/>
<path d="M642.20,383.90 L642.20,394.30 M637.70,386.50 L646.70,391.70 M646.70,386.50 L637.70,391.70" stroke="#d0d0d0" stroke-width="2.6" fill="none"/>
<path d="M642.20,383.90 L642.20,394.30 M637.70,386.50 L646.70,391.70 M646.70,386.50 L637.70,391.70" stroke="#000" stroke-width="0.9" fill="none"/>
<path d="M161.3,473.5 L161.3,470.9 L162.3,470.9 L163.3,470.9 L164.3,470.9 L165.3,470.9 L166.3,470.9 L167.3,470.9 L168.3,470.9 L169.3,470.9 L170.3,470.8 L171.3,470.7 L172.3,470.7 L173.3,470.6 L174.3,470.5 L175.3,470.4 L176.3,470.3 L177.3,470.2 L178.3,470.0 L179.3,469.9 L180.3,469.8 L181.3,469.6 L182.3,469.5 L183.3,469.4 L184.3,469.2 L185.3,469.0 L186.3,468.9 L187.3,468.7 L188.3,468.5 L189.3,468.3 L190.3,468.1 L191.3,467.9 L192.3,467.7 L193.3,467.5 L194.3,467.3 L195.3,467.0 L196.3,466.8 L197.3,466.5 L198.3,466.2 L199.3,465.8 L200.3,465.5 L201.3,465.2 L202.3,464.8 L203.3,464.5 L204.3,464.1 L205.3,463.8 L206.3,463.4 L207.3,463.0 L208.3,462.6 L209.3,462.2 L210.3,461.7 L211.3,461.3 L212.3,460.8 L213.3,460.3 L214.3,459.7 L215.3,459.1 L216.3,458.5 L217.3,457.8 L218.3,457.2 L219.3,456.6 L220.3,455.9 L221.3,455.4 L222.3,454.8 L223.3,454.3 L224.3,453.7 L225.3,453.2 L226.3,452.7 L227.3,452.1 L228.3,451.6 L229.3,451.0 L230.3,450.4 L231.3,449.7 L232.3,449.0 L233.3,448.3 L234.3,447.5 L235.3,446.7 L236.3,445.9 L237.3,445.2 L238.3,444.6 L239.3,444.0 L240.3,443.5 L241.3,443.0 L242.3,442.5 L243.3,442.1 L244.3,441.6 L245.3,441.2 L246.3,440.8 L247.3,440.5 L248.3,440.3 L249.3,440.0 L250.3,439.8 L251.3,439.6 L252.3,439.5 L253.3,439.3 L254.3,439.1 L255.3,439.0 L256.3,438.9 L257.3,438.8 L258.3,438.8 L259.3,438.8 L260.3,438.8 L261.3,438.8 L262.3,438.8 L263.3,438.8 L264.3,438.8 L265.3,438.8 L266.3,438.8 L267.3,438.8 L268.3,438.8 L269.3,438.9 L270.3,439.0 L271.3,439.2 L272.3,439.5 L273.3,439.7 L274.3,440.1 L275.3,440.4 L276.3,440.7 L277.3,441.1 L278.3,441.4 L279.3,441.8 L280.3,442.3 L281.3,442.8 L282.3,443.3 L283.3,443.8 L284.3,444.4 L285.3,444.9 L286.3,445.5 L287.3,446.0 L288.3,446.6 L289.3,447.2 L290.3,447.8 L291.3,448.4 L292.3,449.0 L293.3,449.6 L294.3,450.2 L295.3,450.8 L296.3,451.4 L297.3,452.0 L298.3,452.6 L299.3,453.2 L300.3,453.8 L301.3,454.4 L302.3,455.0 L303.3,455.6 L304.3,456.2 L305.3,456.8 L306.3,457.4 L307.3,458.1 L308.3,458.7 L309.3,459.3 L310.3,460.0 L311.3,460.6 L312.3,461.2 L313.3,461.8 L314.3,462.3 L315.3,462.9 L316.3,463.3 L317.3,463.8 L318.3,464.2 L319.3,464.7 L320.3,465.1 L321.3,465.5 L322.3,465.8 L323.3,466.2 L324.3,466.5 L325.3,466.8 L326.3,467.1 L327.3,467.4 L328.3,467.7 L329.3,467.9 L330.3,468.2 L331.3,468.4 L332.3,468.6 L333.3,468.8 L334.3,469.0 L335.3,469.1 L336.3,469.3 L337.3,469.4 L338.3,469.5 L339.3,469.7 L340.3,469.8 L341.3,469.9 L342.3,470.0 L343.3,470.0 L344.3,470.1 L345.3,470.2 L346.3,470.3 L347.3,470.4 L348.3,470.4 L349.3,470.5 L350.3,470.6 L351.3,470.6 L352.3,470.7 L353.3,470.7 L354.3,470.7 L355.3,470.7 L356.3,470.7 L357.3,470.7 L358.3,470.7 L359.3,470.7 L360.3,470.7 L361.3,470.7 L362.3,470.7 L363.3,470.7 L364.3,470.7 L365.3,470.7 L366.3,470.7 L367.3,470.7 L368.3,470.7 L369.3,470.7 L370.3,470.7 L371.3,470.7 L372.3,470.7 L373.3,470.7 L374.3,470.7 L375.3,470.7 L376.3,470.7 L377.3,470.7 L378.3,470.7 L379.3,470.7 L380.3,470.7 L381.3,470.7 L382.3,470.7 L383.3,470.7 L384.3,470.7 L385.3,470.7 L386.3,470.7 L387.3,470.7 L388.3,470.7 L389.3,470.7 L390.3,470.7 L391.3,470.7 L392.3,470.7 L393.3,470.7 L394.3,470.7 L395.3,470.7 L396.3,470.7 L397.3,470.7 L398.3,470.7 L399.3,470.7 L400.3,470.7 L401.3,470.7 L402.3,470.7 L403.3,470.7 L404.2,470.7 L404.2,473.5 Z" fill="#fff" stroke="#f4f4f4" stroke-width="1.1" stroke-linejoin="round"/>
<path d="M161.3,473.5 L161.3,467.3 L162.3,467.1 L163.3,466.8 L164.3,466.5 L165.3,466.2 L166.3,465.9 L167.3,465.5 L168.3,465.2 L169.3,464.8 L170.3,464.4 L171.3,464.0 L172.3,463.6 L173.3,463.2 L174.3,462.8 L175.3,462.3 L176.3,461.9 L177.3,461.4 L178.3,460.8 L179.3,460.3 L180.3,459.7 L181.3,459.2 L182.3,458.6 L183.3,457.9 L184.3,457.3 L185.3,456.6 L186.3,455.8 L187.3,455.0 L188.3,454.2 L189.3,453.3 L190.3,452.5 L191.3,451.6 L192.3,450.8 L193.3,449.9 L194.3,449.1 L195.3,448.2 L196.3,447.3 L197.3,446.4 L198.3,445.5 L199.3,444.6 L200.3,443.7 L201.3,442.9 L202.3,442.1 L203.3,441.3 L204.3,440.6 L205.3,439.9 L206.3,439.1 L207.3,438.5 L208.3,437.8 L209.3,437.2 L210.3,436.6 L211.3,436.1 L212.3,435.6 L213.3,435.1 L214.3,434.7 L215.3,434.2 L216.3,433.8 L217.3,433.4 L218.3,433.0 L219.3,432.7 L220.3,432.6 L221.3,432.5 L222.3,432.5 L223.3,432.5 L224.3,432.6 L225.3,432.6 L226.3,432.7 L227.3,432.8 L228.3,432.9 L229.3,433.0 L230.3,433.1 L231.3,433.3 L232.3,433.5 L233.3,433.8 L234.3,434.1 L235.3,434.5 L236.3,434.9 L237.3,435.3 L238.3,435.8 L239.3,436.2 L240.3,436.7 L241.3,437.2 L242.3,437.8 L243.3,438.4 L244.3,439.1 L245.3,439.8 L246.3,440.6 L247.3,441.4 L248.3,442.3 L249.3,443.3 L250.3,444.2 L251.3,445.1 L252.3,446.0 L253.3,446.9 L254.3,447.8 L255.3,448.7 L256.3,449.6 L257.3,450.5 L258.3,451.3 L259.3,452.2 L260.3,453.0 L261.3,453.9 L262.3,454.7 L263.3,455.6 L264.3,456.4 L265.3,457.2 L266.3,457.9 L267.3,458.6 L268.3,459.3 L269.3,459.9 L270.3,460.5 L271.3,461.1 L272.3,461.7 L273.3,462.2 L274.3,462.7 L275.3,463.2 L276.3,463.7 L277.3,464.2 L278.3,464.6 L279.3,465.0 L280.3,465.4 L281.3,465.8 L282.3,466.2 L283.3,466.5 L284.3,466.8 L285.3,467.2 L286.3,467.4 L287.3,467.7 L288.3,467.9 L289.3,468.2 L290.3,468.4 L291.3,468.6 L292.3,468.8 L293.3,469.0 L294.3,469.2 L295.3,469.3 L296.3,469.5 L297.3,469.6 L298.3,469.8 L299.3,469.9 L300.3,470.0 L301.3,470.1 L302.3,470.2 L303.3,470.3 L304.3,470.4 L305.3,470.5 L306.3,470.5 L307.3,470.5 L308.3,470.5 L309.3,470.5 L310.3,470.5 L311.3,470.5 L312.3,470.5 L313.3,470.5 L314.3,470.5 L315.3,470.5 L316.3,470.5 L317.3,470.5 L318.3,470.5 L319.3,470.5 L320.3,470.5 L321.3,470.5 L322.3,470.5 L323.3,470.5 L324.3,470.5 L325.3,470.5 L326.3,470.5 L327.3,470.5 L328.3,470.5 L329.3,470.5 L330.3,470.5 L331.3,470.5 L332.3,470.5 L333.3,470.5 L334.3,470.5 L335.3,470.5 L336.3,470.5 L337.3,470.5 L338.3,470.5 L339.3,470.5 L340.3,470.5 L341.3,470.5 L342.3,470.5 L343.3,470.5 L344.3,470.5 L345.3,470.5 L346.3,470.5 L347.3,470.5 L348.3,470.5 L349.3,470.5 L350.3,470.5 L351.3,470.5 L352.3,470.5 L353.3,470.5 L354.3,470.5 L355.3,470.5 L356.3,470.5 L357.3,470.5 L358.3,470.5 L359.3,470.5 L360.3,470.5 L361.3,470.5 L362.3,470.5 L363.3,470.5 L364.3,470.5 L365.3,470.5 L366.3,470.5 L367.3,470.5 L368.3,470.5 L369.3,470.5 L370.3,470.5 L371.3,470.5 L372.3,470.5 L373.3,470.5 L374.3,470.5 L375.3,470.5 L376.3,470.5 L377.3,470.5 L378.3,470.5 L379.3,470.5 L380.3,470.5 L381.3,470.5 L382.3,470.5 L383.3,470.5 L384.3,470.5 L385.3,470.5 L386.3,470.5 L387.3,470.5 L388.3,470.5 L389.3,470.5 L390.3,470.5 L391.3,470.5 L392.3,470.5 L393.3,470.5 L394.3,470.5 L395.3,470.5 L396.3,470.5 L397.3,470.5 L398.3,470.5 L399.3,470.5 L400.3,470.5 L401.3,470.5 L402.3,470.5 L403.3,470.5 L404.2,470.5 L404.2,473.5 Z" fill="#fff" stroke="#f4f4f4" stroke-width="1.1" stroke-linejoin="round"/>
<path d="M161.3,473.5 L161.3,470.9 L162.3,470.9 L163.3,470.9 L164.3,470.9 L165.3,470.9 L166.3,470.9 L167.3,470.9 L168.3,470.9 L169.3,470.9 L170.3,470.8 L171.3,470.7 L172.3,470.7 L173.3,470.6 L174.3,470.5 L175.3,470.4 L176.3,470.3 L177.3,470.2 L178.3,470.0 L179.3,469.9 L180.3,469.8 L181.3,469.6 L182.3,469.5 L183.3,469.4 L184.3,469.2 L185.3,469.0 L186.3,468.9 L187.3,468.7 L188.3,468.5 L189.3,468.3 L190.3,468.1 L191.3,467.9 L192.3,467.7 L193.3,467.5 L194.3,467.3 L195.3,467.0 L196.3,466.8 L197.3,466.5 L198.3,466.2 L199.3,465.8 L200.3,465.5 L201.3,465.2 L202.3,464.8 L203.3,464.5 L204.3,464.1 L205.3,463.8 L206.3,463.4 L207.3,463.0 L208.3,462.6 L209.3,462.2 L210.3,461.7 L211.3,461.3 L212.3,460.8 L213.3,460.3 L214.3,459.7 L215.3,459.1 L216.3,458.5 L217.3,457.8 L218.3,457.2 L219.3,456.6 L220.3,455.9 L221.3,455.4 L222.3,454.8 L223.3,454.3 L224.3,453.7 L225.3,453.2 L226.3,452.7 L227.3,452.1 L228.3,451.6 L229.3,451.0 L230.3,450.4 L231.3,449.7 L232.3,449.0 L233.3,448.3 L234.3,447.5 L235.3,446.7 L236.3,445.9 L237.3,445.2 L238.3,444.6 L239.3,444.0 L240.3,443.5 L241.3,443.0 L242.3,442.5 L243.3,442.1 L244.3,441.6 L245.3,441.2 L246.3,440.8 L247.3,440.5 L248.3,440.3 L249.3,440.0 L250.3,439.8 L251.3,439.6 L252.3,439.5 L253.3,439.3 L254.3,439.1 L255.3,439.0 L256.3,438.9 L257.3,438.8 L258.3,438.8 L259.3,438.8 L260.3,438.8 L261.3,438.8 L262.3,438.8 L263.3,438.8 L264.3,438.8 L265.3,438.8 L266.3,438.8 L267.3,438.8 L268.3,438.8 L269.3,438.9 L270.3,439.0 L271.3,439.2 L272.3,439.5 L273.3,439.7 L274.3,440.1 L275.3,440.4 L276.3,440.7 L277.3,441.1 L278.3,441.4 L279.3,441.8 L280.3,442.3 L281.3,442.8 L282.3,443.3 L283.3,443.8 L284.3,444.4 L285.3,444.9 L286.3,445.5 L287.3,446.0 L288.3,446.6 L289.3,447.2 L290.3,447.8 L291.3,448.4 L292.3,449.0 L293.3,449.6 L294.3,450.2 L295.3,450.8 L296.3,451.4 L297.3,452.0 L298.3,452.6 L299.3,453.2 L300.3,453.8 L301.3,454.4 L302.3,455.0 L303.3,455.6 L304.3,456.2 L305.3,456.8 L306.3,457.4 L307.3,458.1 L308.3,458.7 L309.3,459.3 L310.3,460.0 L311.3,460.6 L312.3,461.2 L313.3,461.8 L314.3,462.3 L315.3,462.9 L316.3,463.3 L317.3,463.8 L318.3,464.2 L319.3,464.7 L320.3,465.1 L321.3,465.5 L322.3,465.8 L323.3,466.2 L324.3,466.5 L325.3,466.8 L326.3,467.1 L327.3,467.4 L328.3,467.7 L329.3,467.9 L330.3,468.2 L331.3,468.4 L332.3,468.6 L333.3,468.8 L334.3,469.0 L335.3,469.1 L336.3,469.3 L337.3,469.4 L338.3,469.5 L339.3,469.7 L340.3,469.8 L341.3,469.9 L342.3,470.0 L343.3,470.0 L344.3,470.1 L345.3,470.2 L346.3,470.3 L347.3,470.4 L348.3,470.4 L349.3,470.5 L350.3,470.6 L351.3,470.6 L352.3,470.7 L353.3,470.7 L354.3,470.7 L355.3,470.7 L356.3,470.7 L357.3,470.7 L358.3,470.7 L359.3,470.7 L360.3,470.7 L361.3,470.7 L362.3,470.7 L363.3,470.7 L364.3,470.7 L365.3,470.7 L366.3,470.7 L367.3,470.7 L368.3,470.7 L369.3,470.7 L370.3,470.7 L371.3,470.7 L372.3,470.7 L373.3,470.7 L374.3,470.7 L375.3,470.7 L376.3,470.7 L377.3,470.7 L378.3,470.7 L379.3,470.7 L380.3,470.7 L381.3,470.7 L382.3,470.7 L383.3,470.7 L384.3,470.7 L385.3,470.7 L386.3,470.7 L387.3,470.7 L388.3,470.7 L389.3,470.7 L390.3,470.7 L391.3,470.7 L392.3,470.7 L393.3,470.7 L394.3,470.7 L395.3,470.7 L396.3,470.7 L397.3,470.7 L398.3,470.7 L399.3,470.7 L400.3,470.7 L401.3,470.7 L402.3,470.7 L403.3,470.7 L404.2,470.7 L404.2,473.5 Z" fill="#1f77b4" fill-opacity="0.6"/>
<path d="M161.3,473.5 L161.3,467.3 L162.3,467.1 L163.3,466.8 L164.3,466.5 L165.3,466.2 L166.3,465.9 L167.3,465.5 L168.3,465.2 L169.3,464.8 L170.3,464.4 L171.3,464.0 L172.3,463.6 L173.3,463.2 L174.3,462.8 L175.3,462.3 L176.3,461.9 L177.3,461.4 L178.3,460.8 L179.3,460.3 L180.3,459.7 L181.3,459.2 L182.3,458.6 L183.3,457.9 L184.3,457.3 L185.3,456.6 L186.3,455.8 L187.3,455.0 L188.3,454.2 L189.3,453.3 L190.3,452.5 L191.3,451.6 L192.3,450.8 L193.3,449.9 L194.3,449.1 L195.3,448.2 L196.3,447.3 L197.3,446.4 L198.3,445.5 L199.3,444.6 L200.3,443.7 L201.3,442.9 L202.3,442.1 L203.3,441.3 L204.3,440.6 L205.3,439.9 L206.3,439.1 L207.3,438.5 L208.3,437.8 L209.3,437.2 L210.3,436.6 L211.3,436.1 L212.3,435.6 L213.3,435.1 L214.3,434.7 L215.3,434.2 L216.3,433.8 L217.3,433.4 L218.3,433.0 L219.3,432.7 L220.3,432.6 L221.3,432.5 L222.3,432.5 L223.3,432.5 L224.3,432.6 L225.3,432.6 L226.3,432.7 L227.3,432.8 L228.3,432.9 L229.3,433.0 L230.3,433.1 L231.3,433.3 L232.3,433.5 L233.3,433.8 L234.3,434.1 L235.3,434.5 L236.3,434.9 L237.3,435.3 L238.3,435.8 L239.3,436.2 L240.3,436.7 L241.3,437.2 L242.3,437.8 L243.3,438.4 L244.3,439.1 L245.3,439.8 L246.3,440.6 L247.3,441.4 L248.3,442.3 L249.3,443.3 L250.3,444.2 L251.3,445.1 L252.3,446.0 L253.3,446.9 L254.3,447.8 L255.3,448.7 L256.3,449.6 L257.3,450.5 L258.3,451.3 L259.3,452.2 L260.3,453.0 L261.3,453.9 L262.3,454.7 L263.3,455.6 L264.3,456.4 L265.3,457.2 L266.3,457.9 L267.3,458.6 L268.3,459.3 L269.3,459.9 L270.3,460.5 L271.3,461.1 L272.3,461.7 L273.3,462.2 L274.3,462.7 L275.3,463.2 L276.3,463.7 L277.3,464.2 L278.3,464.6 L279.3,465.0 L280.3,465.4 L281.3,465.8 L282.3,466.2 L283.3,466.5 L284.3,466.8 L285.3,467.2 L286.3,467.4 L287.3,467.7 L288.3,467.9 L289.3,468.2 L290.3,468.4 L291.3,468.6 L292.3,468.8 L293.3,469.0 L294.3,469.2 L295.3,469.3 L296.3,469.5 L297.3,469.6 L298.3,469.8 L299.3,469.9 L300.3,470.0 L301.3,470.1 L302.3,470.2 L303.3,470.3 L304.3,470.4 L305.3,470.5 L306.3,470.5 L307.3,470.5 L308.3,470.5 L309.3,470.5 L310.3,470.5 L311.3,470.5 L312.3,470.5 L313.3,470.5 L314.3,470.5 L315.3,470.5 L316.3,470.5 L317.3,470.5 L318.3,470.5 L319.3,470.5 L320.3,470.5 L321.3,470.5 L322.3,470.5 L323.3,470.5 L324.3,470.5 L325.3,470.5 L326.3,470.5 L327.3,470.5 L328.3,470.5 L329.3,470.5 L330.3,470.5 L331.3,470.5 L332.3,470.5 L333.3,470.5 L334.3,470.5 L335.3,470.5 L336.3,470.5 L337.3,470.5 L338.3,470.5 L339.3,470.5 L340.3,470.5 L341.3,470.5 L342.3,470.5 L343.3,470.5 L344.3,470.5 L345.3,470.5 L346.3,470.5 L347.3,470.5 L348.3,470.5 L349.3,470.5 L350.3,470.5 L351.3,470.5 L352.3,470.5 L353.3,470.5 L354.3,470.5 L355.3,470.5 L356.3,470.5 L357.3,470.5 L358.3,470.5 L359.3,470.5 L360.3,470.5 L361.3,470.5 L362.3,470.5 L363.3,470.5 L364.3,470.5 L365.3,470.5 L366.3,470.5 L367.3,470.5 L368.3,470.5 L369.3,470.5 L370.3,470.5 L371.3,470.5 L372.3,470.5 L373.3,470.5 L374.3,470.5 L375.3,470.5 L376.3,470.5 L377.3,470.5 L378.3,470.5 L379.3,470.5 L380.3,470.5 L381.3,470.5 L382.3,470.5 L383.3,470.5 L384.3,470.5 L385.3,470.5 L386.3,470.5 L387.3,470.5 L388.3,470.5 L389.3,470.5 L390.3,470.5 L391.3,470.5 L392.3,470.5 L393.3,470.5 L394.3,470.5 L395.3,470.5 L396.3,470.5 L397.3,470.5 L398.3,470.5 L399.3,470.5 L400.3,470.5 L401.3,470.5 L402.3,470.5 L403.3,470.5 L404.2,470.5 L404.2,473.5 Z" fill="#ff7f0e" fill-opacity="0.6"/>
<rect x="224.60" y="453.27" width="2" height="8.7" fill="#000"/>
<rect x="224.60" y="465.87" width="2" height="8.50" fill="#000"/>
<rect x="260.30" y="453.27" width="2" height="8.7" fill="#000"/>
<rect x="260.30" y="465.87" width="2" height="8.50" fill="#000"/>
<path d="M160.30,474.67 H405.00 M161.30,474.67 V480.67 M209.40,474.67 V480.67 M258.40,474.67 V480.67 M306.60,474.67 V480.67 M355.90,474.67 V480.67" stroke="#b0b0b0" stroke-width="2.6" fill="none"/>
<path d="M160.30,474.67 H405.00 M161.30,474.67 V480.67 M209.40,474.67 V480.67 M258.40,474.67 V480.67 M306.60,474.67 V480.67 M355.90,474.67 V480.67" stroke="#000" stroke-width="1.2" fill="none"/>
<path d="M379.00,433.00 L379.00,443.40 M374.50,435.60 L383.50,440.80 M383.50,435.60 L374.50,440.80" stroke="#d0d0d0" stroke-width="2.6" fill="none"/>
<path d="M379.00,433.00 L379.00,443.40 M374.50,435.60 L383.50,440.80 M383.50,435.60 L374.50,440.80" stroke="#000" stroke-width="0.9" fill="none"/>
<path d="M424.3,473.5 L424.3,469.2 L425.3,468.9 L426.3,468.7 L427.3,468.4 L428.3,468.1 L429.3,467.8 L430.3,467.4 L431.3,467.1 L432.3,466.7 L433.3,466.3 L434.3,465.9 L435.3,465.5 L436.3,465.1 L437.3,464.7 L438.3,464.2 L439.3,463.7 L440.3,463.2 L441.3,462.7 L442.3,462.2 L443.3,461.6 L444.3,461.1 L445.3,460.5 L446.3,459.9 L447.3,459.2 L448.3,458.6 L449.3,458.0 L450.3,457.3 L451.3,456.6 L452.3,456.0 L453.3,455.3 L454.3,454.6 L455.3,453.9 L456.3,453.2 L457.3,452.4 L458.3,451.6 L459.3,450.8 L460.3,449.9 L461.3,449.1 L462.3,448.2 L463.3,447.4 L464.3,446.6 L465.3,445.9 L466.3,445.2 L467.3,444.5 L468.3,443.9 L469.3,443.3 L470.3,442.7 L471.3,442.1 L472.3,441.5 L473.3,440.9 L474.3,440.4 L475.3,439.9 L476.3,439.4 L477.3,438.8 L478.3,438.3 L479.3,437.8 L480.3,437.4 L481.3,436.9 L482.3,436.5 L483.3,436.1 L484.3,435.8 L485.3,435.6 L486.3,435.3 L487.3,435.1 L488.3,434.8 L489.3,434.6 L490.3,434.4 L491.3,434.3 L492.3,434.1 L493.3,434.0 L494.3,433.9 L495.3,433.7 L496.3,433.6 L497.3,433.6 L498.3,433.5 L499.3,433.5 L500.3,433.6 L501.3,433.8 L502.3,434.0 L503.3,434.3 L504.3,434.7 L505.3,435.0 L506.3,435.4 L507.3,435.8 L508.3,436.2 L509.3,436.6 L510.3,437.0 L511.3,437.5 L512.3,438.0 L513.3,438.5 L514.3,439.0 L515.3,439.6 L516.3,440.1 L517.3,440.7 L518.3,441.3 L519.3,441.9 L520.3,442.5 L521.3,443.1 L522.3,443.7 L523.3,444.4 L524.3,445.1 L525.3,445.7 L526.3,446.4 L527.3,447.0 L528.3,447.7 L529.3,448.4 L530.3,449.0 L531.3,449.7 L532.3,450.4 L533.3,451.0 L534.3,451.7 L535.3,452.4 L536.3,453.0 L537.3,453.7 L538.3,454.3 L539.3,454.9 L540.3,455.5 L541.3,456.2 L542.3,456.8 L543.3,457.4 L544.3,457.9 L545.3,458.5 L546.3,459.0 L547.3,459.6 L548.3,460.1 L549.3,460.6 L550.3,461.1 L551.3,461.5 L552.3,462.0 L553.3,462.4 L554.3,462.9 L555.3,463.3 L556.3,463.7 L557.3,464.0 L558.3,464.4 L559.3,464.8 L560.3,465.1 L561.3,465.5 L562.3,465.8 L563.3,466.1 L564.3,466.4 L565.3,466.7 L566.3,466.9 L567.3,467.2 L568.3,467.4 L569.3,467.6 L570.3,467.8 L571.3,468.0 L572.3,468.2 L573.3,468.3 L574.3,468.5 L575.3,468.7 L576.3,468.8 L577.3,469.0 L578.3,469.1 L579.3,469.3 L580.3,469.4 L581.3,469.6 L582.3,469.7 L583.3,469.8 L584.3,469.9 L585.3,470.0 L586.3,470.1 L587.3,470.1 L588.3,470.2 L589.3,470.3 L590.3,470.3 L591.3,470.4 L592.3,470.4 L593.3,470.5 L594.3,470.5 L595.3,470.5 L596.3,470.5 L597.3,470.5 L598.3,470.5 L599.3,470.5 L600.3,470.5 L601.3,470.5 L602.3,470.5 L603.3,470.5 L604.3,470.5 L605.3,470.5 L606.3,470.5 L607.3,470.5 L608.3,470.5 L609.3,470.5 L610.3,470.5 L611.3,470.5 L612.3,470.5 L613.3,470.5 L614.3,470.5 L615.3,470.5 L616.3,470.5 L617.3,470.5 L618.3,470.5 L619.3,470.5 L620.3,470.5 L621.3,470.5 L622.3,470.5 L623.3,470.5 L624.3,470.5 L625.3,470.5 L626.3,470.5 L627.3,470.5 L628.3,470.5 L629.3,470.5 L630.3,470.5 L631.3,470.5 L632.3,470.5 L633.3,470.5 L634.3,470.5 L635.3,470.5 L636.3,470.5 L637.3,470.5 L638.3,470.5 L639.3,470.5 L640.3,470.5 L641.3,470.5 L642.3,470.5 L643.3,470.5 L644.3,470.5 L645.3,470.5 L646.3,470.5 L647.3,470.5 L648.3,470.5 L649.3,470.5 L650.3,470.5 L651.3,470.5 L652.3,470.5 L653.3,470.5 L654.3,470.5 L655.3,470.5 L656.3,470.5 L657.3,470.5 L658.3,470.5 L659.3,470.5 L660.3,470.5 L661.3,470.5 L662.3,470.5 L663.3,470.5 L664.3,470.5 L665.3,470.5 L666.3,470.5 L667.2,470.5 L667.2,473.5 Z" fill="#fff" stroke="#f4f4f4" stroke-width="1.1" stroke-linejoin="round"/>
<path d="M424.3,473.5 L424.3,467.3 L425.3,467.0 L426.3,466.7 L427.3,466.4 L428.3,466.1 L429.3,465.8 L430.3,465.5 L431.3,465.1 L432.3,464.7 L433.3,464.4 L434.3,464.0 L435.3,463.6 L436.3,463.2 L437.3,462.8 L438.3,462.4 L439.3,461.9 L440.3,461.4 L441.3,461.0 L442.3,460.5 L443.3,460.0 L444.3,459.4 L445.3,458.9 L446.3,458.3 L447.3,457.7 L448.3,457.1 L449.3,456.4 L450.3,455.7 L451.3,455.0 L452.3,454.3 L453.3,453.5 L454.3,452.8 L455.3,452.0 L456.3,451.3 L457.3,450.5 L458.3,449.7 L459.3,448.8 L460.3,448.0 L461.3,447.1 L462.3,446.3 L463.3,445.5 L464.3,444.7 L465.3,444.0 L466.3,443.3 L467.3,442.6 L468.3,442.0 L469.3,441.4 L470.3,440.8 L471.3,440.2 L472.3,439.6 L473.3,439.0 L474.3,438.5 L475.3,438.0 L476.3,437.5 L477.3,436.9 L478.3,436.4 L479.3,435.9 L480.3,435.4 L481.3,434.9 L482.3,434.5 L483.3,434.2 L484.3,433.9 L485.3,433.7 L486.3,433.5 L487.3,433.3 L488.3,433.1 L489.3,432.9 L490.3,432.8 L491.3,432.6 L492.3,432.6 L493.3,432.5 L494.3,432.5 L495.3,432.6 L496.3,432.7 L497.3,432.8 L498.3,433.0 L499.3,433.2 L500.3,433.5 L501.3,433.7 L502.3,434.0 L503.3,434.4 L504.3,434.8 L505.3,435.5 L506.3,436.4 L507.3,437.3 L508.3,438.1 L509.3,438.7 L510.3,439.4 L511.3,440.0 L512.3,440.5 L513.3,441.1 L514.3,441.7 L515.3,442.2 L516.3,442.8 L517.3,443.5 L518.3,444.1 L519.3,444.8 L520.3,445.5 L521.3,446.2 L522.3,446.9 L523.3,447.7 L524.3,448.4 L525.3,449.1 L526.3,449.8 L527.3,450.5 L528.3,451.2 L529.3,451.9 L530.3,452.5 L531.3,453.1 L532.3,453.8 L533.3,454.4 L534.3,455.0 L535.3,455.6 L536.3,456.2 L537.3,456.8 L538.3,457.4 L539.3,458.1 L540.3,458.7 L541.3,459.3 L542.3,459.8 L543.3,460.4 L544.3,461.0 L545.3,461.5 L546.3,462.0 L547.3,462.4 L548.3,462.9 L549.3,463.3 L550.3,463.7 L551.3,464.1 L552.3,464.5 L553.3,464.8 L554.3,465.2 L555.3,465.5 L556.3,465.8 L557.3,466.1 L558.3,466.4 L559.3,466.7 L560.3,467.0 L561.3,467.3 L562.3,467.5 L563.3,467.8 L564.3,468.0 L565.3,468.2 L566.3,468.4 L567.3,468.5 L568.3,468.7 L569.3,468.8 L570.3,469.0 L571.3,469.1 L572.3,469.2 L573.3,469.3 L574.3,469.4 L575.3,469.5 L576.3,469.6 L577.3,469.7 L578.3,469.8 L579.3,469.9 L580.3,470.0 L581.3,470.1 L582.3,470.2 L583.3,470.2 L584.3,470.3 L585.3,470.3 L586.3,470.3 L587.3,470.3 L588.3,470.3 L589.3,470.3 L590.3,470.3 L591.3,470.3 L592.3,470.3 L593.3,470.3 L594.3,470.3 L595.3,470.3 L596.3,470.3 L597.3,470.3 L598.3,470.3 L599.3,470.3 L600.3,470.3 L601.3,470.3 L602.3,470.3 L603.3,470.3 L604.3,470.3 L605.3,470.3 L606.3,470.3 L607.3,470.3 L608.3,470.3 L609.3,470.3 L610.3,470.3 L611.3,470.3 L612.3,470.3 L613.3,470.3 L614.3,470.3 L615.3,470.3 L616.3,470.3 L617.3,470.3 L618.3,470.3 L619.3,470.3 L620.3,470.3 L621.3,470.3 L622.3,470.3 L623.3,470.3 L624.3,470.3 L625.3,470.3 L626.3,470.3 L627.3,470.3 L628.3,470.3 L629.3,470.3 L630.3,470.3 L631.3,470.3 L632.3,470.3 L633.3,470.3 L634.3,470.3 L635.3,470.3 L636.3,470.3 L637.3,470.3 L638.3,470.3 L639.3,470.3 L640.3,470.3 L641.3,470.3 L642.3,470.3 L643.3,470.3 L644.3,470.3 L645.3,470.3 L646.3,470.3 L647.3,470.3 L648.3,470.3 L649.3,470.3 L650.3,470.3 L651.3,470.3 L652.3,470.3 L653.3,470.3 L654.3,470.3 L655.3,470.3 L656.3,470.3 L657.3,470.3 L658.3,470.3 L659.3,470.3 L660.3,470.3 L661.3,470.3 L662.3,470.3 L663.3,470.3 L664.3,470.3 L665.3,470.3 L666.3,470.3 L667.2,470.3 L667.2,473.5 Z" fill="#fff" stroke="#f4f4f4" stroke-width="1.1" stroke-linejoin="round"/>
<path d="M424.3,473.5 L424.3,469.2 L425.3,468.9 L426.3,468.7 L427.3,468.4 L428.3,468.1 L429.3,467.8 L430.3,467.4 L431.3,467.1 L432.3,466.7 L433.3,466.3 L434.3,465.9 L435.3,465.5 L436.3,465.1 L437.3,464.7 L438.3,464.2 L439.3,463.7 L440.3,463.2 L441.3,462.7 L442.3,462.2 L443.3,461.6 L444.3,461.1 L445.3,460.5 L446.3,459.9 L447.3,459.2 L448.3,458.6 L449.3,458.0 L450.3,457.3 L451.3,456.6 L452.3,456.0 L453.3,455.3 L454.3,454.6 L455.3,453.9 L456.3,453.2 L457.3,452.4 L458.3,451.6 L459.3,450.8 L460.3,449.9 L461.3,449.1 L462.3,448.2 L463.3,447.4 L464.3,446.6 L465.3,445.9 L466.3,445.2 L467.3,444.5 L468.3,443.9 L469.3,443.3 L470.3,442.7 L471.3,442.1 L472.3,441.5 L473.3,440.9 L474.3,440.4 L475.3,439.9 L476.3,439.4 L477.3,438.8 L478.3,438.3 L479.3,437.8 L480.3,437.4 L481.3,436.9 L482.3,436.5 L483.3,436.1 L484.3,435.8 L485.3,435.6 L486.3,435.3 L487.3,435.1 L488.3,434.8 L489.3,434.6 L490.3,434.4 L491.3,434.3 L492.3,434.1 L493.3,434.0 L494.3,433.9 L495.3,433.7 L496.3,433.6 L497.3,433.6 L498.3,433.5 L499.3,433.5 L500.3,433.6 L501.3,433.8 L502.3,434.0 L503.3,434.3 L504.3,434.7 L505.3,435.0 L506.3,435.4 L507.3,435.8 L508.3,436.2 L509.3,436.6 L510.3,437.0 L511.3,437.5 L512.3,438.0 L513.3,438.5 L514.3,439.0 L515.3,439.6 L516.3,440.1 L517.3,440.7 L518.3,441.3 L519.3,441.9 L520.3,442.5 L521.3,443.1 L522.3,443.7 L523.3,444.4 L524.3,445.1 L525.3,445.7 L526.3,446.4 L527.3,447.0 L528.3,447.7 L529.3,448.4 L530.3,449.0 L531.3,449.7 L532.3,450.4 L533.3,451.0 L534.3,451.7 L535.3,452.4 L536.3,453.0 L537.3,453.7 L538.3,454.3 L539.3,454.9 L540.3,455.5 L541.3,456.2 L542.3,456.8 L543.3,457.4 L544.3,457.9 L545.3,458.5 L546.3,459.0 L547.3,459.6 L548.3,460.1 L549.3,460.6 L550.3,461.1 L551.3,461.5 L552.3,462.0 L553.3,462.4 L554.3,462.9 L555.3,463.3 L556.3,463.7 L557.3,464.0 L558.3,464.4 L559.3,464.8 L560.3,465.1 L561.3,465.5 L562.3,465.8 L563.3,466.1 L564.3,466.4 L565.3,466.7 L566.3,466.9 L567.3,467.2 L568.3,467.4 L569.3,467.6 L570.3,467.8 L571.3,468.0 L572.3,468.2 L573.3,468.3 L574.3,468.5 L575.3,468.7 L576.3,468.8 L577.3,469.0 L578.3,469.1 L579.3,469.3 L580.3,469.4 L581.3,469.6 L582.3,469.7 L583.3,469.8 L584.3,469.9 L585.3,470.0 L586.3,470.1 L587.3,470.1 L588.3,470.2 L589.3,470.3 L590.3,470.3 L591.3,470.4 L592.3,470.4 L593.3,470.5 L594.3,470.5 L595.3,470.5 L596.3,470.5 L597.3,470.5 L598.3,470.5 L599.3,470.5 L600.3,470.5 L601.3,470.5 L602.3,470.5 L603.3,470.5 L604.3,470.5 L605.3,470.5 L606.3,470.5 L607.3,470.5 L608.3,470.5 L609.3,470.5 L610.3,470.5 L611.3,470.5 L612.3,470.5 L613.3,470.5 L614.3,470.5 L615.3,470.5 L616.3,470.5 L617.3,470.5 L618.3,470.5 L619.3,470.5 L620.3,470.5 L621.3,470.5 L622.3,470.5 L623.3,470.5 L624.3,470.5 L625.3,470.5 L626.3,470.5 L627.3,470.5 L628.3,470.5 L629.3,470.5 L630.3,470.5 L631.3,470.5 L632.3,470.5 L633.3,470.5 L634.3,470.5 L635.3,470.5 L636.3,470.5 L637.3,470.5 L638.3,470.5 L639.3,470.5 L640.3,470.5 L641.3,470.5 L642.3,470.5 L643.3,470.5 L644.3,470.5 L645.3,470.5 L646.3,470.5 L647.3,470.5 L648.3,470.5 L649.3,470.5 L650.3,470.5 L651.3,470.5 L652.3,470.5 L653.3,470.5 L654.3,470.5 L655.3,470.5 L656.3,470.5 L657.3,470.5 L658.3,470.5 L659.3,470.5 L660.3,470.5 L661.3,470.5 L662.3,470.5 L663.3,470.5 L664.3,470.5 L665.3,470.5 L666.3,470.5 L667.2,470.5 L667.2,473.5 Z" fill="#1f77b4" fill-opacity="0.6"/>
<path d="M424.3,473.5 L424.3,467.3 L425.3,467.0 L426.3,466.7 L427.3,466.4 L428.3,466.1 L429.3,465.8 L430.3,465.5 L431.3,465.1 L432.3,464.7 L433.3,464.4 L434.3,464.0 L435.3,463.6 L436.3,463.2 L437.3,462.8 L438.3,462.4 L439.3,461.9 L440.3,461.4 L441.3,461.0 L442.3,460.5 L443.3,460.0 L444.3,459.4 L445.3,458.9 L446.3,458.3 L447.3,457.7 L448.3,457.1 L449.3,456.4 L450.3,455.7 L451.3,455.0 L452.3,454.3 L453.3,453.5 L454.3,452.8 L455.3,452.0 L456.3,451.3 L457.3,450.5 L458.3,449.7 L459.3,448.8 L460.3,448.0 L461.3,447.1 L462.3,446.3 L463.3,445.5 L464.3,444.7 L465.3,444.0 L466.3,443.3 L467.3,442.6 L468.3,442.0 L469.3,441.4 L470.3,440.8 L471.3,440.2 L472.3,439.6 L473.3,439.0 L474.3,438.5 L475.3,438.0 L476.3,437.5 L477.3,436.9 L478.3,436.4 L479.3,435.9 L480.3,435.4 L481.3,434.9 L482.3,434.5 L483.3,434.2 L484.3,433.9 L485.3,433.7 L486.3,433.5 L487.3,433.3 L488.3,433.1 L489.3,432.9 L490.3,432.8 L491.3,432.6 L492.3,432.6 L493.3,432.5 L494.3,432.5 L495.3,432.6 L496.3,432.7 L497.3,432.8 L498.3,433.0 L499.3,433.2 L500.3,433.5 L501.3,433.7 L502.3,434.0 L503.3,434.4 L504.3,434.8 L505.3,435.5 L506.3,436.4 L507.3,437.3 L508.3,438.1 L509.3,438.7 L510.3,439.4 L511.3,440.0 L512.3,440.5 L513.3,441.1 L514.3,441.7 L515.3,442.2 L516.3,442.8 L517.3,443.5 L518.3,444.1 L519.3,444.8 L520.3,445.5 L521.3,446.2 L522.3,446.9 L523.3,447.7 L524.3,448.4 L525.3,449.1 L526.3,449.8 L527.3,450.5 L528.3,451.2 L529.3,451.9 L530.3,452.5 L531.3,453.1 L532.3,453.8 L533.3,454.4 L534.3,455.0 L535.3,455.6 L536.3,456.2 L537.3,456.8 L538.3,457.4 L539.3,458.1 L540.3,458.7 L541.3,459.3 L542.3,459.8 L543.3,460.4 L544.3,461.0 L545.3,461.5 L546.3,462.0 L547.3,462.4 L548.3,462.9 L549.3,463.3 L550.3,463.7 L551.3,464.1 L552.3,464.5 L553.3,464.8 L554.3,465.2 L555.3,465.5 L556.3,465.8 L557.3,466.1 L558.3,466.4 L559.3,466.7 L560.3,467.0 L561.3,467.3 L562.3,467.5 L563.3,467.8 L564.3,468.0 L565.3,468.2 L566.3,468.4 L567.3,468.5 L568.3,468.7 L569.3,468.8 L570.3,469.0 L571.3,469.1 L572.3,469.2 L573.3,469.3 L574.3,469.4 L575.3,469.5 L576.3,469.6 L577.3,469.7 L578.3,469.8 L579.3,469.9 L580.3,470.0 L581.3,470.1 L582.3,470.2 L583.3,470.2 L584.3,470.3 L585.3,470.3 L586.3,470.3 L587.3,470.3 L588.3,470.3 L589.3,470.3 L590.3,470.3 L591.3,470.3 L592.3,470.3 L593.3,470.3 L594.3,470.3 L595.3,470.3 L596.3,470.3 L597.3,470.3 L598.3,470.3 L599.3,470.3 L600.3,470.3 L601.3,470.3 L602.3,470.3 L603.3,470.3 L604.3,470.3 L605.3,470.3 L606.3,470.3 L607.3,470.3 L608.3,470.3 L609.3,470.3 L610.3,470.3 L611.3,470.3 L612.3,470.3 L613.3,470.3 L614.3,470.3 L615.3,470.3 L616.3,470.3 L617.3,470.3 L618.3,470.3 L619.3,470.3 L620.3,470.3 L621.3,470.3 L622.3,470.3 L623.3,470.3 L624.3,470.3 L625.3,470.3 L626.3,470.3 L627.3,470.3 L628.3,470.3 L629.3,470.3 L630.3,470.3 L631.3,470.3 L632.3,470.3 L633.3,470.3 L634.3,470.3 L635.3,470.3 L636.3,470.3 L637.3,470.3 L638.3,470.3 L639.3,470.3 L640.3,470.3 L641.3,470.3 L642.3,470.3 L643.3,470.3 L644.3,470.3 L645.3,470.3 L646.3,470.3 L647.3,470.3 L648.3,470.3 L649.3,470.3 L650.3,470.3 L651.3,470.3 L652.3,470.3 L653.3,470.3 L654.3,470.3 L655.3,470.3 L656.3,470.3 L657.3,470.3 L658.3,470.3 L659.3,470.3 L660.3,470.3 L661.3,470.3 L662.3,470.3 L663.3,470.3 L664.3,470.3 L665.3,470.3 L666.3,470.3 L667.2,470.3 L667.2,473.5 Z" fill="#ff7f0e" fill-opacity="0.6"/>
<rect x="492.00" y="453.27" width="2" height="8.7" fill="#000"/>
<rect x="492.00" y="465.87" width="2" height="8.50" fill="#000"/>
<rect x="498.00" y="453.27" width="2" height="8.7" fill="#000"/>
<rect x="498.00" y="465.87" width="2" height="8.50" fill="#000"/>
<path d="M423.30,474.67 H668.00 M441.50,474.67 V480.67 M472.60,474.67 V480.67 M522.40,474.67 V480.67 M569.60,474.67 V480.67 M617.20,474.67 V480.67" stroke="#b0b0b0" stroke-width="2.6" fill="none"/>
<path d="M423.30,474.67 H668.00 M441.50,474.67 V480.67 M472.60,474.67 V480.67 M522.40,474.67 V480.67 M569.60,474.67 V480.67 M617.20,474.67 V480.67" stroke="#000" stroke-width="1.2" fill="none"/>
<path d="M642.20,433.00 L642.20,443.40 M637.70,435.60 L646.70,440.80 M646.70,435.60 L637.70,440.80" stroke="#d0d0d0" stroke-width="2.6" fill="none"/>
<path d="M642.20,433.00 L642.20,443.40 M637.70,435.60 L646.70,440.80 M646.70,435.60 L637.70,440.80" stroke="#000" stroke-width="0.9" fill="none"/>
<circle cx="168.05" cy="34.2" r="8.9" fill="#79add2" stroke="#f4f4f4" stroke-width="1.1"/>
<circle cx="168.05" cy="55.8" r="8.9" fill="#ffb26e" stroke="#f4f4f4" stroke-width="1.1"/>
<circle cx="432.1" cy="34.2" r="8.9" fill="#79add2" stroke="#f4f4f4" stroke-width="1.1"/>
<circle cx="432.1" cy="55.8" r="8.9" fill="#ffb26e" stroke="#f4f4f4" stroke-width="1.1"/>
<g style="filter:grayscale(1)">
<text x="154.40" y="15.50" font-size="19" font-family="Liberation Sans" fill="#000" stroke="#d0d0d0" stroke-width="1.7" paint-order="stroke" stroke-linejoin="round" textLength="23.5" lengthAdjust="spacingAndGlyphs">(a)</text>
<text x="188.20" y="15.50" font-size="19" font-family="Liberation Sans" fill="#000" stroke="#d0d0d0" stroke-width="1.7" paint-order="stroke" stroke-linejoin="round" textLength="59.3" lengthAdjust="spacingAndGlyphs"><tspan font-size="21.3">P</tspan>apers</text>
<text x="187.50" y="39.80" font-size="19" font-family="Liberation Sans" fill="#000" stroke="#d0d0d0" stroke-width="1.7" paint-order="stroke" stroke-linejoin="round" textLength="165.0" lengthAdjust="spacingAndGlyphs">going into patents</text>
<text x="188.00" y="61.80" font-size="19" font-family="Liberation Sans" fill="#000" stroke="#d0d0d0" stroke-width="1.7" paint-order="stroke" stroke-linejoin="round" textLength="200.8" lengthAdjust="spacingAndGlyphs">not going into patents</text>
<text x="418.80" y="15.50" font-size="19" font-family="Liberation Sans" fill="#000" stroke="#d0d0d0" stroke-width="1.7" paint-order="stroke" stroke-linejoin="round" textLength="24.0" lengthAdjust="spacingAndGlyphs">(b)</text>
<text x="451.70" y="15.50" font-size="19" font-family="Liberation Sans" fill="#000" stroke="#d0d0d0" stroke-width="1.7" paint-order="stroke" stroke-linejoin="round" textLength="60.3" lengthAdjust="spacingAndGlyphs"><tspan font-size="21.3">P</tspan>apers</text>
<text x="450.60" y="39.80" font-size="19" font-family="Liberation Sans" fill="#000" stroke="#d0d0d0" stroke-width="1.7" paint-order="stroke" stroke-linejoin="round" textLength="204.0" lengthAdjust="spacingAndGlyphs">going into repositories</text>
<text x="451.00" y="61.80" font-size="19" font-family="Liberation Sans" fill="#000" stroke="#d0d0d0" stroke-width="1.7" paint-order="stroke" stroke-linejoin="round" textLength="240.5" lengthAdjust="spacingAndGlyphs">not going into repositories</text>
<text x="0.30" y="91.65" font-size="19" font-family="Liberation Sans" fill="#000" stroke="#d0d0d0" stroke-width="1.7" paint-order="stroke" stroke-linejoin="round" textLength="109.0" lengthAdjust="spacingAndGlyphs"><tspan font-size="21.3">T</tspan>op <tspan font-size="21.3">G</tspan>eneral</text>
<text x="0.30" y="111.80" font-size="19" font-family="Liberation Sans" fill="#000" stroke="#d0d0d0" stroke-width="1.7" paint-order="stroke" stroke-linejoin="round" textLength="67.0" lengthAdjust="spacingAndGlyphs"><tspan font-size="21.3">S</tspan>cience</text>
<text x="0.30" y="145.30" font-size="19" font-family="Liberation Sans" fill="#000" stroke="#d0d0d0" stroke-width="1.7" paint-order="stroke" stroke-linejoin="round" textLength="92.0" lengthAdjust="spacingAndGlyphs"><tspan font-size="21.3">C</tspan>omputer</text>
<text x="0.30" y="165.20" font-size="19" font-family="Liberation Sans" fill="#000" stroke="#d0d0d0" stroke-width="1.7" paint-order="stroke" stroke-linejoin="round" textLength="67.0" lengthAdjust="spacingAndGlyphs"><tspan font-size="21.3">S</tspan>cience</text>
<text x="0.30" y="194.50" font-size="19" font-family="Liberation Sans" fill="#000" stroke="#d0d0d0" stroke-width="1.7" paint-order="stroke" stroke-linejoin="round" textLength="18.6" lengthAdjust="spacingAndGlyphs"><tspan font-size="21.3">A</tspan><tspan font-size="21.3">I</tspan></text>
<text x="0.30" y="245.50" font-size="19" font-family="Liberation Sans" fill="#000" stroke="#d0d0d0" stroke-width="1.7" paint-order="stroke" stroke-linejoin="round" textLength="84.5" lengthAdjust="spacingAndGlyphs"><tspan font-size="21.3">D</tspan>atabase</text>
<text x="0.30" y="297.00" font-size="19" font-family="Liberation Sans" fill="#000" stroke="#d0d0d0" stroke-width="1.7" paint-order="stroke" stroke-linejoin="round" textLength="116.0" lengthAdjust="spacingAndGlyphs"><tspan font-size="21.3">D</tspan>ata <tspan font-size="21.3">M</tspan>ining</text>
<text x="0.30" y="348.70" font-size="19" font-family="Liberation Sans" fill="#000" stroke="#d0d0d0" stroke-width="1.7" paint-order="stroke" stroke-linejoin="round" textLength="35.6" lengthAdjust="spacingAndGlyphs"><tspan font-size="21.3">H</tspan><tspan font-size="21.3">C</tspan><tspan font-size="21.3">I</tspan></text>
<text x="0.30" y="400.00" font-size="19" font-family="Liberation Sans" fill="#000" stroke="#d0d0d0" stroke-width="1.7" paint-order="stroke" stroke-linejoin="round" textLength="39.6" lengthAdjust="spacingAndGlyphs"><tspan font-size="21.3">N</tspan><tspan font-size="21.3">L</tspan><tspan font-size="21.3">P</tspan></text>
<text x="0.30" y="451.60" font-size="19" font-family="Liberation Sans" fill="#000" stroke="#d0d0d0" stroke-width="1.7" paint-order="stroke" stroke-linejoin="round" textLength="92.0" lengthAdjust="spacingAndGlyphs"><tspan font-size="21.3">C</tspan>omputer</text>
<text x="0.30" y="471.20" font-size="19" font-family="Liberation Sans" fill="#000" stroke="#d0d0d0" stroke-width="1.7" paint-order="stroke" stroke-linejoin="round" textLength="56.2" lengthAdjust="spacingAndGlyphs"><tspan font-size="21.3">V</tspan>ision</text>
<text x="154.70" y="501.30" font-size="16" font-family="Liberation Sans" fill="#000" stroke="#d0d0d0" stroke-width="1.7" paint-order="stroke" stroke-linejoin="round" textLength="17.1" lengthAdjust="spacingAndGlyphs">10</text>
<text x="173.70" y="494.00" font-size="10.5" font-family="Liberation Sans" fill="#000" stroke="#d0d0d0" stroke-width="1.7" paint-order="stroke" stroke-linejoin="round" textLength="4.8" lengthAdjust="spacingAndGlyphs">0</text>
<text x="199.70" y="501.30" font-size="16" font-family="Liberation Sans" fill="#000" stroke="#d0d0d0" stroke-width="1.7" paint-order="stroke" stroke-linejoin="round" textLength="16.3" lengthAdjust="spacingAndGlyphs">10</text>
<text x="219.30" y="494.00" font-size="10.5" font-family="Liberation Sans" fill="#000" stroke="#d0d0d0" stroke-width="1.7" paint-order="stroke" stroke-linejoin="round" textLength="2.7" lengthAdjust="spacingAndGlyphs">1</text>
<text x="246.80" y="501.30" font-size="16" font-family="Liberation Sans" fill="#000" stroke="#d0d0d0" stroke-width="1.7" paint-order="stroke" stroke-linejoin="round" textLength="17.1" lengthAdjust="spacingAndGlyphs">10</text>
<text x="265.40" y="494.00" font-size="10.5" font-family="Liberation Sans" fill="#000" stroke="#d0d0d0" stroke-width="1.7" paint-order="stroke" stroke-linejoin="round" textLength="7.0" lengthAdjust="spacingAndGlyphs">2</text>
<text x="296.70" y="501.30" font-size="16" font-family="Liberation Sans" fill="#000" stroke="#d0d0d0" stroke-width="1.7" paint-order="stroke" stroke-linejoin="round" textLength="17.5" lengthAdjust="spacingAndGlyphs">10</text>
<text x="315.10" y="494.00" font-size="10.5" font-family="Liberation Sans" fill="#000" stroke="#d0d0d0" stroke-width="1.7" paint-order="stroke" stroke-linejoin="round" textLength="5.7" lengthAdjust="spacingAndGlyphs">3</text>
<text x="344.50" y="501.30" font-size="16" font-family="Liberation Sans" fill="#000" stroke="#d0d0d0" stroke-width="1.7" paint-order="stroke" stroke-linejoin="round" textLength="17.1" lengthAdjust="spacingAndGlyphs">10</text>
<text x="362.50" y="494.00" font-size="10.5" font-family="Liberation Sans" fill="#000" stroke="#d0d0d0" stroke-width="1.7" paint-order="stroke" stroke-linejoin="round" textLength="6.7" lengthAdjust="spacingAndGlyphs">4</text>
<text x="424.50" y="501.30" font-size="16" font-family="Liberation Sans" fill="#000" stroke="#d0d0d0" stroke-width="1.7" paint-order="stroke" stroke-linejoin="round" textLength="17.1" lengthAdjust="spacingAndGlyphs">10</text>
<text x="443.10" y="494.00" font-size="10.5" font-family="Liberation Sans" fill="#000" stroke="#d0d0d0" stroke-width="1.7" paint-order="stroke" stroke-linejoin="round" textLength="5.1" lengthAdjust="spacingAndGlyphs">0</text>
<text x="464.70" y="501.30" font-size="16" font-family="Liberation Sans" fill="#000" stroke="#d0d0d0" stroke-width="1.7" paint-order="stroke" stroke-linejoin="round" textLength="16.7" lengthAdjust="spacingAndGlyphs">10</text>
<text x="484.30" y="494.00" font-size="10.5" font-family="Liberation Sans" fill="#000" stroke="#d0d0d0" stroke-width="1.7" paint-order="stroke" stroke-linejoin="round" textLength="3.7" lengthAdjust="spacingAndGlyphs">1</text>
<text x="512.20" y="501.30" font-size="16" font-family="Liberation Sans" fill="#000" stroke="#d0d0d0" stroke-width="1.7" paint-order="stroke" stroke-linejoin="round" textLength="16.7" lengthAdjust="spacingAndGlyphs">10</text>
<text x="530.40" y="494.00" font-size="10.5" font-family="Liberation Sans" fill="#000" stroke="#d0d0d0" stroke-width="1.7" paint-order="stroke" stroke-linejoin="round" textLength="7.6" lengthAdjust="spacingAndGlyphs">2</text>
<text x="559.20" y="501.30" font-size="16" font-family="Liberation Sans" fill="#000" stroke="#d0d0d0" stroke-width="1.7" paint-order="stroke" stroke-linejoin="round" textLength="17.1" lengthAdjust="spacingAndGlyphs">10</text>
<text x="577.30" y="494.00" font-size="10.5" font-family="Liberation Sans" fill="#000" stroke="#d0d0d0" stroke-width="1.7" paint-order="stroke" stroke-linejoin="round" textLength="6.6" lengthAdjust="spacingAndGlyphs">3</text>
<text x="605.70" y="501.30" font-size="16" font-family="Liberation Sans" fill="#000" stroke="#d0d0d0" stroke-width="1.7" paint-order="stroke" stroke-linejoin="round" textLength="17.1" lengthAdjust="spacingAndGlyphs">10</text>
<text x="623.70" y="494.00" font-size="10.5" font-family="Liberation Sans" fill="#000" stroke="#d0d0d0" stroke-width="1.7" paint-order="stroke" stroke-linejoin="round" textLength="6.7" lengthAdjust="spacingAndGlyphs">4</text>
<text x="156.60" y="521.30" font-size="19" font-family="Liberation Sans" fill="#000" stroke="#d0d0d0" stroke-width="1.7" paint-order="stroke" stroke-linejoin="round" textLength="231.3" lengthAdjust="spacingAndGlyphs"><tspan font-size="21.3">L</tspan>og of academic citations</text>
<text x="426.80" y="521.30" font-size="19" font-family="Liberation Sans" fill="#000" stroke="#d0d0d0" stroke-width="1.7" paint-order="stroke" stroke-linejoin="round" textLength="231.5" lengthAdjust="spacingAndGlyphs"><tspan font-size="21.3">L</tspan>og of academic citations</text>
</g>
</svg></body></html>
